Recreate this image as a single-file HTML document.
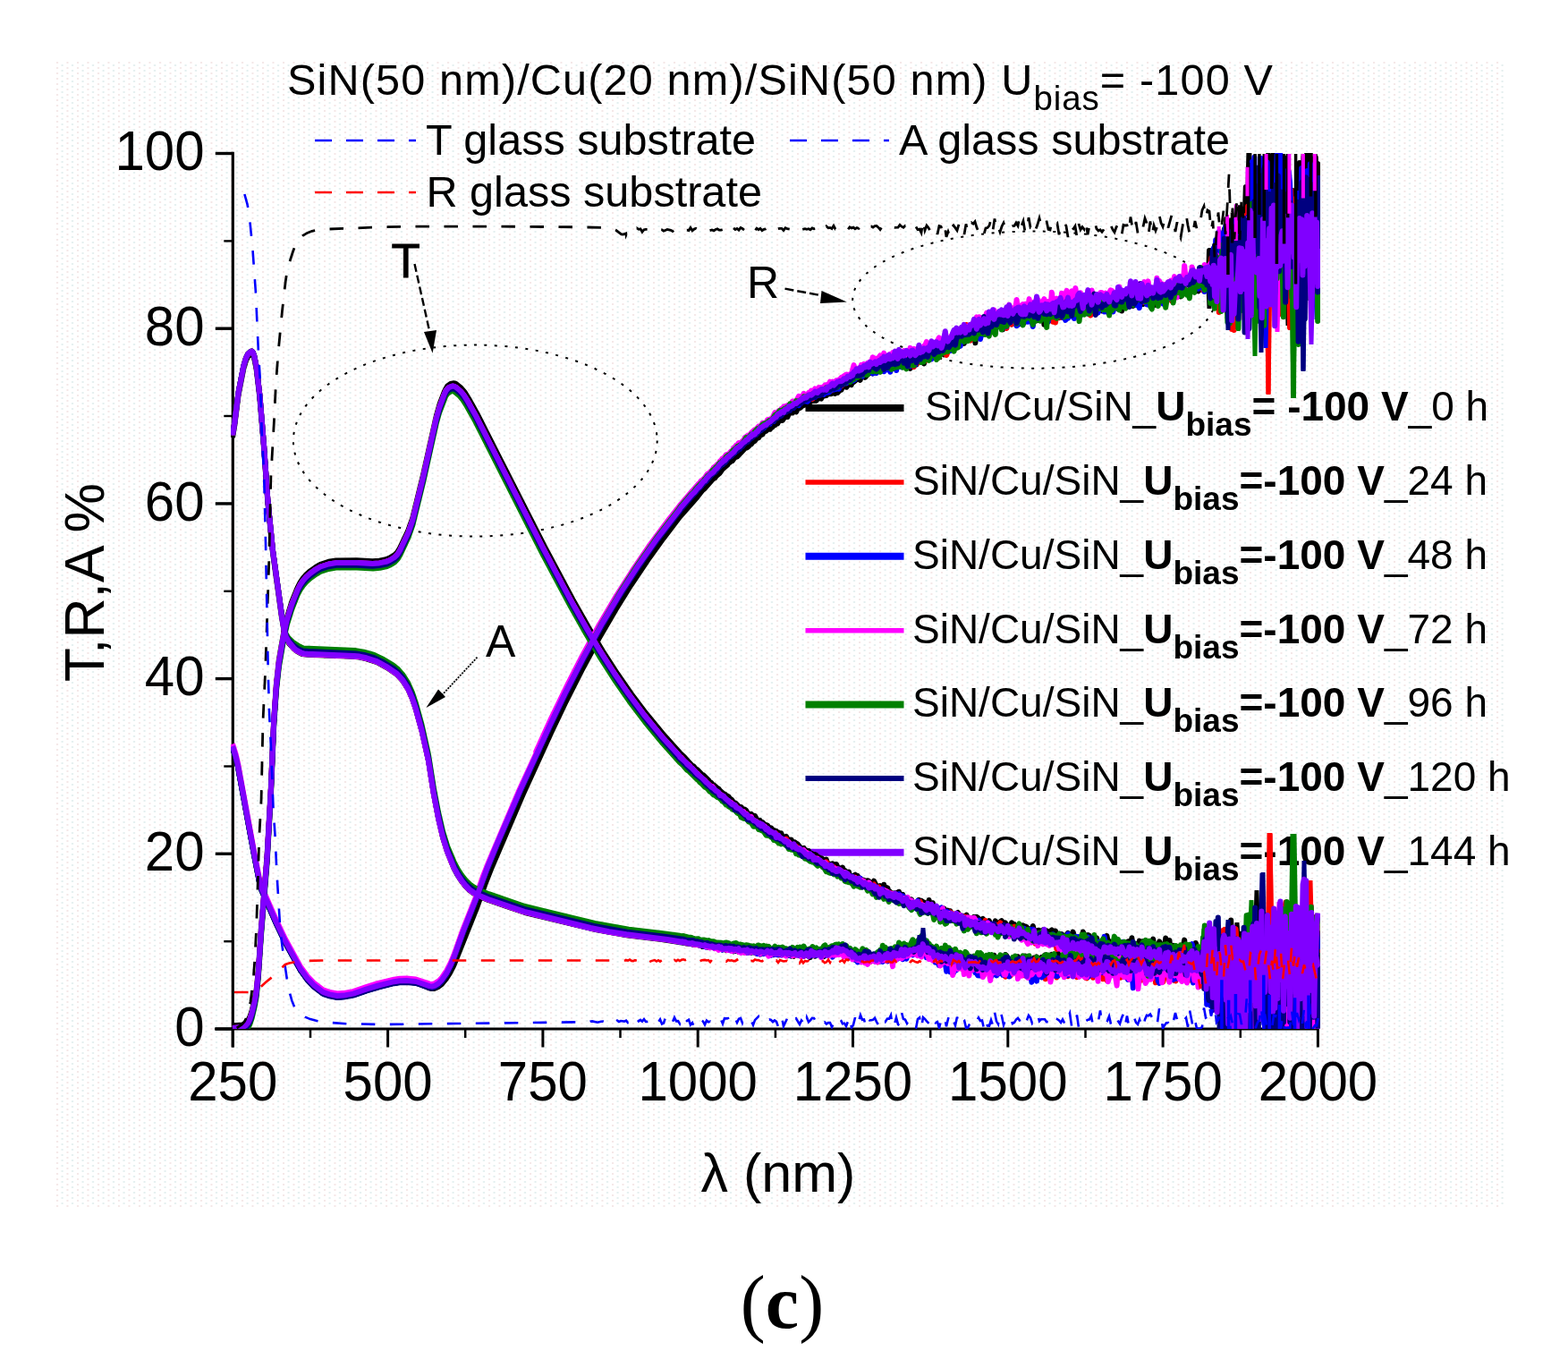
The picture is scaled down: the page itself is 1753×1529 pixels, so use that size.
<!DOCTYPE html>
<html><head><meta charset="utf-8"><title>SiN/Cu/SiN spectra</title><style>html,body{margin:0;padding:0;background:#fff;overflow:hidden;}svg{display:block;}</style></head>
<body>
<svg width="1753" height="1529" viewBox="0 0 1753 1529" font-family="'Liberation Sans', Arial, sans-serif" fill="#000">
<defs><pattern id="tex" x="62" y="69" width="11.5" height="6" patternUnits="userSpaceOnUse"><rect x="1" y="0" width="2" height="2" fill="#f4e7e7"/><rect x="6.5" y="3" width="2" height="2" fill="#e3eeee"/></pattern><clipPath id="plotclip"><rect x="258" y="171" width="1218" height="979"/></clipPath></defs>
<rect x="62" y="69" width="1622" height="1280" fill="url(#tex)"/>
<line x1="260.3" y1="169.8" x2="260.3" y2="1170.5" stroke="#000" stroke-width="3.2"/>
<line x1="240" y1="1150.0" x2="1474.4" y2="1150.0" stroke="#000" stroke-width="3"/>
<line x1="260.3" y1="1150.0" x2="260.3" y2="1170.5" stroke="#000" stroke-width="3"/>
<line x1="347.0" y1="1150.0" x2="347.0" y2="1160.0" stroke="#000" stroke-width="2.5"/>
<line x1="433.6" y1="1150.0" x2="433.6" y2="1170.5" stroke="#000" stroke-width="3"/>
<line x1="520.2" y1="1150.0" x2="520.2" y2="1160.0" stroke="#000" stroke-width="2.5"/>
<line x1="606.9" y1="1150.0" x2="606.9" y2="1170.5" stroke="#000" stroke-width="3"/>
<line x1="693.5" y1="1150.0" x2="693.5" y2="1160.0" stroke="#000" stroke-width="2.5"/>
<line x1="780.2" y1="1150.0" x2="780.2" y2="1170.5" stroke="#000" stroke-width="3"/>
<line x1="866.9" y1="1150.0" x2="866.9" y2="1160.0" stroke="#000" stroke-width="2.5"/>
<line x1="953.5" y1="1150.0" x2="953.5" y2="1170.5" stroke="#000" stroke-width="3"/>
<line x1="1040.2" y1="1150.0" x2="1040.2" y2="1160.0" stroke="#000" stroke-width="2.5"/>
<line x1="1126.8" y1="1150.0" x2="1126.8" y2="1170.5" stroke="#000" stroke-width="3"/>
<line x1="1213.5" y1="1150.0" x2="1213.5" y2="1160.0" stroke="#000" stroke-width="2.5"/>
<line x1="1300.1" y1="1150.0" x2="1300.1" y2="1170.5" stroke="#000" stroke-width="3"/>
<line x1="1386.8" y1="1150.0" x2="1386.8" y2="1160.0" stroke="#000" stroke-width="2.5"/>
<line x1="1473.4" y1="1150.0" x2="1473.4" y2="1170.5" stroke="#000" stroke-width="3"/>
<line x1="240.8" y1="1150.0" x2="260.3" y2="1150.0" stroke="#000" stroke-width="3.4"/>
<line x1="250.3" y1="1052.2" x2="260.3" y2="1052.2" stroke="#000" stroke-width="2.4"/>
<line x1="240.8" y1="954.3" x2="260.3" y2="954.3" stroke="#000" stroke-width="3.4"/>
<line x1="250.3" y1="856.5" x2="260.3" y2="856.5" stroke="#000" stroke-width="2.4"/>
<line x1="240.8" y1="758.6" x2="260.3" y2="758.6" stroke="#000" stroke-width="3.4"/>
<line x1="250.3" y1="660.8" x2="260.3" y2="660.8" stroke="#000" stroke-width="2.4"/>
<line x1="240.8" y1="562.9" x2="260.3" y2="562.9" stroke="#000" stroke-width="3.4"/>
<line x1="250.3" y1="465.0" x2="260.3" y2="465.0" stroke="#000" stroke-width="2.4"/>
<line x1="240.8" y1="367.2" x2="260.3" y2="367.2" stroke="#000" stroke-width="3.4"/>
<line x1="250.3" y1="269.4" x2="260.3" y2="269.4" stroke="#000" stroke-width="2.4"/>
<line x1="240.8" y1="171.5" x2="260.3" y2="171.5" stroke="#000" stroke-width="3.4"/>
<text transform="translate(260.3,1229.5) scale(1,1.055)" font-size="60" text-anchor="middle">250</text>
<text transform="translate(433.6,1229.5) scale(1,1.055)" font-size="60" text-anchor="middle">500</text>
<text transform="translate(606.9,1229.5) scale(1,1.055)" font-size="60" text-anchor="middle">750</text>
<text transform="translate(780.2,1229.5) scale(1,1.055)" font-size="60" text-anchor="middle">1000</text>
<text transform="translate(953.5,1229.5) scale(1,1.055)" font-size="60" text-anchor="middle">1250</text>
<text transform="translate(1126.8,1229.5) scale(1,1.055)" font-size="60" text-anchor="middle">1500</text>
<text transform="translate(1300.1,1229.5) scale(1,1.055)" font-size="60" text-anchor="middle">1750</text>
<text transform="translate(1473.4,1229.5) scale(1,1.055)" font-size="60" text-anchor="middle">2000</text>
<text transform="translate(228.5,1168.7) scale(1,1.05)" font-size="60" text-anchor="end">0</text>
<text transform="translate(228.5,973.0) scale(1,1.05)" font-size="60" text-anchor="end">20</text>
<text transform="translate(228.5,777.3) scale(1,1.05)" font-size="60" text-anchor="end">40</text>
<text transform="translate(228.5,581.6) scale(1,1.05)" font-size="60" text-anchor="end">60</text>
<text transform="translate(228.5,385.9) scale(1,1.05)" font-size="60" text-anchor="end">80</text>
<text transform="translate(228.5,190.2) scale(1,1.05)" font-size="60" text-anchor="end">100</text>
<text x="870" y="1331.5" font-size="61" text-anchor="middle">λ (nm)</text>
<text transform="translate(116,651) rotate(-90)" font-size="62.5" text-anchor="middle">T,R,A %</text>
<text x="321" y="105.8" font-size="48.6" letter-spacing="1.15">SiN(50 nm)/Cu(20 nm)/SiN(50 nm) U<tspan font-size="38.5" dy="17.2" letter-spacing="0.9">bias</tspan><tspan dy="-17.2">= -100 V</tspan></text>
<line x1="352" y1="157" x2="465" y2="157" stroke="#0000ff" stroke-width="2.5" stroke-dasharray="19 16"/>
<text x="476" y="172.8" font-size="48.6">T glass substrate</text>
<line x1="883" y1="157" x2="994" y2="157" stroke="#0000ff" stroke-width="2.5" stroke-dasharray="19 16"/>
<text x="1005" y="172.8" font-size="48.6">A glass substrate</text>
<line x1="352" y1="215" x2="465" y2="215" stroke="#ff0000" stroke-width="2.5" stroke-dasharray="19 16"/>
<text x="476.5" y="231" font-size="48.6">R glass substrate</text>
<text x="874.5" y="1484" font-size="84" text-anchor="middle" font-family="'Liberation Serif', serif">(<tspan font-weight="bold">c</tspan>)</text>
<line x1="900.5" y1="456" x2="1010.5" y2="456" stroke="#000000" stroke-width="8"/>
<text x="1034" y="470" font-size="46">SiN/Cu/SiN_<tspan font-weight="bold">U</tspan><tspan font-weight="bold" font-size="37" dy="17">bias</tspan><tspan font-weight="bold" dy="-17">= -100 V</tspan>_0 h</text>
<line x1="900.5" y1="539" x2="1010.5" y2="539" stroke="#ff0000" stroke-width="5.5"/>
<text x="1020" y="553" font-size="46">SiN/Cu/SiN_<tspan font-weight="bold">U</tspan><tspan font-weight="bold" font-size="37" dy="17">bias</tspan><tspan font-weight="bold" dy="-17">=-100 V</tspan>_24 h</text>
<line x1="900.5" y1="621.7" x2="1010.5" y2="621.7" stroke="#0000ff" stroke-width="8"/>
<text x="1020" y="635.7" font-size="46">SiN/Cu/SiN_<tspan font-weight="bold">U</tspan><tspan font-weight="bold" font-size="37" dy="17">bias</tspan><tspan font-weight="bold" dy="-17">=-100 V</tspan>_48 h</text>
<line x1="900.5" y1="704.8" x2="1010.5" y2="704.8" stroke="#ff00ff" stroke-width="5.5"/>
<text x="1020" y="718.8" font-size="46">SiN/Cu/SiN_<tspan font-weight="bold">U</tspan><tspan font-weight="bold" font-size="37" dy="17">bias</tspan><tspan font-weight="bold" dy="-17">=-100 V</tspan>_72 h</text>
<line x1="900.5" y1="787.4" x2="1010.5" y2="787.4" stroke="#008000" stroke-width="8"/>
<text x="1020" y="801.4" font-size="46">SiN/Cu/SiN_<tspan font-weight="bold">U</tspan><tspan font-weight="bold" font-size="37" dy="17">bias</tspan><tspan font-weight="bold" dy="-17">=-100 V</tspan>_96 h</text>
<line x1="900.5" y1="870" x2="1010.5" y2="870" stroke="#000080" stroke-width="5.8"/>
<text x="1020" y="884" font-size="46">SiN/Cu/SiN_<tspan font-weight="bold">U</tspan><tspan font-weight="bold" font-size="37" dy="17">bias</tspan><tspan font-weight="bold" dy="-17">=-100 V</tspan>_120 h</text>
<line x1="900.5" y1="952.7" x2="1010.5" y2="952.7" stroke="#8000ff" stroke-width="8"/>
<text x="1020" y="966.7" font-size="46">SiN/Cu/SiN_<tspan font-weight="bold">U</tspan><tspan font-weight="bold" font-size="37" dy="17">bias</tspan><tspan font-weight="bold" dy="-17">=-100 V</tspan>_144 h</text>
<ellipse cx="531.3" cy="492.6" rx="203.4" ry="107" fill="none" stroke="#000" stroke-width="2" stroke-dasharray="3 8.5"/>
<ellipse cx="1155.7" cy="335.1" rx="202.5" ry="76.6" fill="none" stroke="#000" stroke-width="2" stroke-dasharray="3 8.5"/>
<line x1="463.5" y1="295" x2="481" y2="374" stroke="#000" stroke-width="2.4" stroke-dasharray="9 4"/>
<polygon points="483.6,394.7 474,371 488,369" fill="#000"/>
<text x="437.5" y="309.6" font-size="53" stroke="#000" stroke-width="0.8">T</text>
<line x1="877.5" y1="322.6" x2="922" y2="331" stroke="#000" stroke-width="2.4" stroke-dasharray="10 4"/>
<polygon points="946.8,337.5 918.5,325 917,339" fill="#000"/>
<text x="835" y="332.7" font-size="50">R</text>
<line x1="533.5" y1="734.7" x2="494" y2="777" stroke="#000" stroke-width="1.8" stroke-dasharray="2 1.3"/>
<polygon points="476.4,791 490,770.5 498,779" fill="#000"/>
<text x="543" y="733.5" font-size="50">A</text>
<g clip-path="url(#plotclip)"><path d="M1453.5 300L1454.5 415L1459.5 415L1460.5 300Z" fill="#000080"/>
<path d="M1442.0 300L1443.0 445L1449.0 445L1450.0 300Z" fill="#008000"/>
<path d="M1414.5 300L1415.5 441L1420.5 441L1421.5 300Z" fill="#ff0000"/>
<path d="M1408.0 1060L1409.5 975L1414.5 975L1416.0 1060Z" fill="#000080"/>
<path d="M1440.5 1060L1442.5 932L1449.5 932L1451.5 1060Z" fill="#008000"/>
<path d="M1415.0 1060L1416.5 931L1422.5 931L1424.0 1060Z" fill="#ff0000"/>
<path d="M260.0 1146.3L271.1 1145.6 274.9 1143.4 277.1 1140.9 279.4 1136.4 281.6 1129.8 284.7 1116.8 286.7 1105.8 288.8 1084.9 291.8 1039.5 298.5 957.2 302.9 879.6 306.2 803.4 309.0 763.6 311.9 737.2 317.7 704.1 320.9 689.8 326.3 672.4 332.6 656.8 335.5 651.1 338.6 646.5 342.3 642.3 347.0 638.1 353.3 633.6 358.2 630.8 367.4 627.8 375.8 626.4 398.9 626.3 416.4 627.3 424.1 626.7 431.6 625.2 435.6 623.6 440.6 620.6 444.3 617.1 447.2 612.3 456.3 593.0 461.2 579.2 473.2 530.2 487.7 465.3 491.5 451.8 497.1 437.1 500.2 431.4 503.7 429.0 506.7 428.3 508.6 428.5 510.5 429.5 515.5 433.6 519.4 438.2 524.0 445.5 533.3 462.2 608.7 610.7 640.3 670.0 657.6 700.5 673.8 727.5 690.4 753.3 706.0 775.7 722.4 797.5 740.7 819.7 760.0 841.3 765.6 846.7 774.0 855.9 775.4 856.4 778.2 859.9 779.6 860.2 785.2 866.1 786.6 866.5 792.2 872.1 793.6 874.3 795.0 874.6 796.4 876.9 797.8 877.1 802.0 881.0 803.4 881.6 804.8 883.5 809.0 887.2 810.4 887.6 811.8 889.0 814.6 890.4 816.0 892.8 817.4 893.3 818.8 894.8 820.2 897.4 821.6 897.2 823.0 898.2 827.2 902.6 828.6 902.0 830.0 904.7 831.4 904.4 832.8 904.7 834.2 905.9 835.6 908.4 838.4 910.6 839.8 909.9 841.2 911.4 844.0 912.0 846.8 916.9 848.2 917.5 849.6 916.9 851.0 919.5 852.4 919.0 855.2 922.1 856.6 922.0 858.0 922.5 859.4 924.8 862.2 925.5 863.6 927.6 865.0 927.7 866.4 929.2 867.8 928.8 869.2 931.4 870.6 930.6 872.0 932.0 873.4 931.4 874.8 935.4 876.2 935.2 877.6 936.5 879.0 935.0 880.4 937.9 881.8 938.2 883.2 940.8 884.6 938.6 886.0 941.6 887.4 943.2 888.8 941.5 890.2 943.9 891.6 943.3 895.8 948.7 898.6 947.9 900.0 950.2 901.4 950.3 902.8 952.5 904.2 951.2 905.6 954.4 907.0 953.7 908.4 954.6 909.8 956.3 911.2 955.1 912.6 955.9 914.0 958.0 915.4 958.0 916.8 958.9 918.2 959.1 919.6 960.0 922.4 964.7 923.8 960.7 925.2 965.6 926.6 965.2 928.0 966.6 930.8 965.3 932.2 966.8 935.0 966.0 936.4 969.1 937.8 970.3 939.2 970.2 940.6 971.6 942.0 969.6 943.4 974.4 944.8 973.2 947.6 975.9 949.0 974.6 950.4 980.3 951.8 978.9 953.2 979.5 956.0 977.7 957.4 980.4 958.8 979.0 960.2 981.2 961.6 981.9 963.0 984.2 964.4 983.5 965.8 983.7 967.2 986.5 968.6 984.4 970.0 984.3 971.4 985.0 972.8 989.2 974.2 987.2 975.6 986.7 977.0 984.7 979.8 990.2 981.2 991.3 982.6 994.0 984.0 990.0 986.8 995.1 988.2 988.7 989.6 998.3 991.0 992.0 992.4 992.6 993.8 997.3 995.2 996.8 996.6 999.0 999.4 998.3 1000.8 998.8 1002.2 998.0 1003.6 1001.4 1005.0 996.7 1006.4 1000.9 1007.8 1003.5 1009.2 999.9 1010.6 1004.7 1012.0 1005.6 1013.4 1004.1 1014.8 1004.1 1016.2 1006.2 1017.6 1007.0 1019.0 1005.5 1020.4 1011.2 1023.2 1009.9 1024.6 1011.3 1026.0 1011.6 1027.4 1005.9 1028.8 1015.5 1030.2 1006.7 1031.6 1011.1 1033.0 1008.4 1034.4 1013.0 1037.2 1013.1 1038.6 1006.0 1040.0 1015.4 1041.4 1014.5 1042.8 1009.2 1044.2 1018.5 1045.6 1014.9 1047.0 1013.8 1048.4 1017.2 1049.8 1015.3 1051.2 1018.1 1054.0 1015.7 1055.4 1015.5 1056.8 1021.0 1059.6 1017.7 1061.0 1018.6 1062.4 1018.2 1063.8 1026.7 1065.2 1022.4 1066.6 1022.3 1068.0 1026.3 1069.4 1020.9 1070.8 1020.0 1073.6 1024.3 1075.0 1023.7 1076.4 1023.7 1077.8 1025.5 1080.6 1022.7 1082.0 1028.4 1083.4 1025.9 1084.8 1026.2 1086.2 1028.9 1087.6 1029.0 1089.0 1024.9 1090.4 1026.4 1091.8 1024.8 1093.2 1025.7 1094.6 1030.5 1096.0 1028.5 1098.8 1026.8 1100.2 1034.9 1101.6 1030.1 1103.0 1032.3 1104.4 1031.6 1105.8 1029.2 1107.2 1033.7 1108.6 1033.0 1110.0 1036.8 1111.4 1034.9 1112.8 1029.4 1114.2 1033.1 1117.0 1033.7 1118.4 1030.3 1119.8 1029.1 1121.2 1034.2 1122.6 1036.0 1124.0 1031.3 1125.4 1041.3 1128.2 1034.3 1129.6 1042.6 1131.0 1031.3 1132.4 1033.2 1133.8 1033.1 1135.2 1040.6 1136.6 1034.6 1138.0 1039.6 1139.4 1038.3 1140.8 1035.7 1142.2 1038.4 1143.6 1034.3 1145.0 1041.3 1146.4 1035.5 1147.8 1036.2 1149.2 1041.7 1150.6 1038.1 1152.0 1046.3 1153.4 1045.0 1154.8 1035.0 1156.2 1041.4 1157.6 1040.6 1159.0 1048.7 1160.4 1039.8 1161.8 1039.8 1163.2 1041.5 1164.6 1041.7 1166.0 1039.5 1167.4 1043.8 1168.8 1041.3 1170.2 1040.5 1171.6 1049.0 1174.4 1040.4 1175.8 1039.5 1177.2 1043.4 1178.6 1040.4 1180.0 1040.5 1181.4 1049.2 1182.8 1044.9 1184.2 1043.7 1185.6 1046.6 1187.0 1044.1 1188.4 1046.5 1189.8 1053.0 1191.2 1046.5 1194.0 1042.8 1195.4 1049.4 1196.8 1046.7 1198.2 1048.9 1199.6 1041.6 1201.0 1046.4 1203.8 1050.2 1205.2 1049.4 1206.6 1047.7 1208.0 1053.6 1209.4 1049.0 1210.8 1041.5 1213.6 1049.5 1215.0 1050.8 1216.4 1045.1 1217.8 1045.7 1219.2 1051.9 1220.6 1051.7 1222.0 1052.3 1223.4 1053.8 1226.2 1048.4 1227.6 1056.5 1229.0 1055.8 1230.4 1058.7 1231.8 1054.0 1233.2 1053.0 1236.0 1054.2 1237.4 1045.9 1238.8 1052.7 1240.2 1052.1 1241.6 1055.2 1243.0 1055.1 1244.4 1052.8 1245.8 1052.5 1247.2 1049.1 1248.6 1055.7 1250.0 1052.8 1251.4 1053.5 1252.8 1059.4 1254.2 1059.4 1255.6 1054.1 1257.0 1062.3 1261.2 1052.2 1262.6 1052.4 1264.0 1059.9 1265.4 1048.2 1266.8 1063.3 1269.6 1055.1 1271.0 1063.3 1273.8 1051.6 1275.2 1054.1 1276.6 1052.5 1278.0 1052.1 1279.4 1065.3 1280.8 1057.7 1282.2 1056.6 1283.6 1060.8 1285.0 1060.0 1286.4 1054.7 1287.8 1053.5 1289.2 1049.5 1290.6 1061.8 1292.0 1056.9 1293.4 1061.9 1294.8 1058.2 1296.2 1052.4 1297.6 1055.7 1299.0 1064.8 1300.4 1055.9 1301.8 1060.8 1303.2 1048.5 1306.0 1063.1 1307.4 1050.9 1308.8 1063.8 1310.2 1057.2 1311.6 1056.8 1313.0 1065.9 1314.4 1057.5 1315.8 1064.7 1317.2 1058.3 1320.0 1064.9 1321.4 1065.2 1324.2 1050.6 1325.6 1068.5 1327.0 1058.4 1328.4 1066.7 1329.8 1057.6 1332.6 1061.8 1334.0 1061.3 1335.4 1070.4 1336.8 1053.9 1339.6 1063.1 1341.0 1064.0 1342.4 1062.2 1345.0 1063.6 1346.2 1075.2 1348.6 1077.8 1349.8 1069.0 1351.0 1084.4 1352.2 1065.4 1353.4 1076.1 1354.6 1075.5 1355.8 1072.7 1357.0 1079.6 1358.2 1093.9 1359.4 1089.0 1360.6 1096.3 1361.8 1094.7 1363.0 1110.6 1364.2 1089.1 1365.4 1119.0 1366.6 1093.6 1367.8 1094.8 1369.0 1072.7 1370.2 1076.4 1371.4 1058.3 1372.6 1052.4 1373.8 1041.4 1375.0 1090.0 1376.2 1028.4 1377.4 1061.9 1378.6 1053.4 1379.8 1061.1 1381.0 1061.2 1382.2 1044.9 1383.4 1050.7 1384.6 1074.3 1387.0 1043.8 1388.2 1067.0 1389.4 1080.9 1390.6 1049.1 1393.0 1067.3 1394.2 1062.0 1395.4 1063.4 1396.6 1022.8 1397.8 1024.5 1399.0 1054.8 1400.2 1043.5 1401.4 1069.4 1402.6 1050.5 1403.8 1084.7 1405.0 1052.0 1406.2 1074.6 1407.4 1055.8 1408.6 1089.9 1411.0 1022.1 1412.2 1054.6 1413.4 1041.4 1414.6 1057.0 1415.8 1036.0 1417.0 1059.4 1418.2 1064.1 1419.4 1048.1 1420.6 1092.3 1421.8 1058.9 1423.0 1075.4 1424.2 1055.0 1426.6 1067.2 1427.8 1093.8 1429.0 1048.5 1430.2 1049.8 1431.4 1064.3 1432.6 1064.5 1433.8 1038.2 1435.0 1059.8 1436.2 1062.2 1437.4 1066.8 1438.6 1045.4 1439.8 1085.7 1441.0 1056.8 1442.2 1070.1 1443.4 1050.1 1444.6 1066.5 1445.8 1040.5 1447.0 1089.1 1448.2 1064.8 1449.4 1069.0 1450.6 1059.8 1451.8 1093.9 1453.0 1068.8 1454.2 1098.7 1455.4 1081.7 1456.6 1101.5 1459.0 1053.3 1460.2 1044.9 1461.4 1080.5 1462.6 1045.5 1463.8 1076.9 1465.0 1057.4 1466.2 1071.8 1467.4 1059.0 1468.6 1074.7 1469.8 1041.0 1471.0 1054.0 1472.2 1044.7 1473.4 1049.3" fill="none" stroke="#000000" stroke-width="6" stroke-linejoin="round"/>
<path d="M260.0 489.0L262.3 475.2 266.5 441.9 272.4 411.6 275.1 402.8 277.3 398.4 280.7 395.7 281.7 395.5 282.7 396.5 284.3 401.1 286.6 412.4 290.3 443.8 295.0 500.3 299.4 562.4 305.0 618.1 314.8 689.1 317.7 706.1 319.8 713.9 322.6 718.5 328.4 725.1 332.7 728.4 337.8 731.0 344.6 731.8 395.0 733.8 402.0 734.6 409.6 736.3 421.4 740.2 433.2 746.6 443.6 753.8 450.2 760.9 456.2 770.4 460.8 780.7 464.8 792.6 471.5 816.9 479.0 850.4 484.9 887.7 490.0 914.5 495.1 936.4 500.1 952.4 507.5 970.5 511.5 978.0 515.6 984.4 520.5 990.6 524.9 995.1 529.3 998.3 534.9 1001.4 545.8 1006.0 586.9 1020.0 667.2 1039.4 702.3 1045.6 739.9 1050.0 764.2 1053.8 765.6 1053.5 767.0 1054.4 772.6 1054.9 775.4 1056.0 776.8 1055.4 783.8 1057.1 785.2 1058.0 786.6 1057.2 788.0 1058.1 789.4 1057.9 790.8 1058.4 796.4 1059.1 799.2 1059.4 800.6 1058.7 802.0 1059.9 806.2 1060.2 807.6 1061.4 809.0 1060.9 810.4 1061.1 811.8 1062.1 813.2 1060.9 814.6 1061.8 816.0 1061.0 818.8 1061.6 820.2 1063.4 821.6 1061.9 823.0 1063.0 824.4 1063.0 825.8 1063.8 828.6 1062.2 830.0 1062.4 831.4 1064.4 832.8 1064.0 835.6 1065.0 837.0 1064.3 838.4 1064.1 839.8 1064.8 841.2 1063.4 845.4 1065.5 846.8 1063.5 848.2 1063.5 849.6 1066.1 852.4 1064.9 855.2 1065.4 856.6 1064.1 858.0 1064.8 859.4 1066.6 862.2 1067.3 863.6 1066.3 865.0 1067.1 866.4 1064.6 867.8 1064.7 869.2 1063.2 870.6 1064.7 872.0 1064.3 873.4 1067.0 874.8 1067.2 876.2 1065.0 877.6 1064.8 879.0 1067.7 880.4 1068.1 881.8 1065.4 884.6 1068.5 886.0 1067.3 887.4 1068.8 888.8 1067.2 890.2 1067.4 891.6 1066.7 893.0 1064.7 894.4 1066.6 895.8 1066.1 897.2 1068.6 898.6 1065.6 900.0 1067.2 902.8 1068.2 904.2 1067.6 905.6 1070.2 907.0 1068.2 908.4 1067.8 909.8 1067.7 911.2 1068.7 912.6 1065.3 915.4 1067.2 916.8 1065.9 918.2 1067.0 919.6 1064.2 921.0 1069.2 922.4 1066.8 923.8 1066.4 925.2 1064.7 926.6 1067.1 928.0 1067.1 929.4 1064.7 930.8 1065.0 932.2 1062.7 933.6 1064.8 935.0 1064.2 936.4 1065.3 937.8 1064.2 939.2 1065.1 940.6 1062.9 942.0 1063.3 943.4 1062.9 944.8 1063.8 946.2 1063.6 947.6 1065.5 949.0 1065.9 950.4 1069.7 953.2 1070.2 954.6 1069.8 956.0 1072.5 957.4 1071.0 958.8 1071.8 960.2 1070.1 961.6 1071.5 963.0 1069.8 964.4 1069.9 965.8 1070.1 967.2 1073.9 968.6 1071.2 970.0 1073.6 971.4 1069.3 972.8 1071.5 974.2 1069.9 977.0 1073.7 978.4 1073.3 979.8 1068.8 981.2 1071.5 982.6 1071.4 984.0 1069.2 986.8 1067.2 988.2 1068.9 989.6 1065.5 991.0 1067.3 992.4 1067.7 995.2 1064.5 996.6 1068.0 999.4 1062.7 1000.8 1065.0 1002.2 1065.8 1003.6 1063.5 1005.0 1065.3 1006.4 1064.4 1007.8 1064.4 1009.2 1062.5 1010.6 1061.8 1012.0 1064.7 1013.4 1062.7 1016.2 1062.6 1017.6 1061.7 1020.4 1060.7 1023.2 1057.7 1024.6 1060.4 1027.4 1056.9 1030.2 1061.0 1031.6 1054.2 1034.4 1059.4 1035.8 1053.8 1037.2 1058.1 1038.6 1059.1 1040.0 1059.1 1041.4 1065.3 1044.2 1062.6 1045.6 1060.0 1047.0 1064.3 1048.4 1062.4 1049.8 1066.2 1051.2 1064.7 1052.6 1066.7 1054.0 1070.1 1056.8 1066.6 1058.2 1067.3 1059.6 1065.7 1061.0 1070.1 1062.4 1066.2 1063.8 1067.3 1065.2 1065.3 1068.0 1074.6 1069.4 1068.7 1072.2 1069.0 1073.6 1070.9 1075.0 1071.9 1076.4 1077.7 1080.6 1069.0 1082.0 1075.6 1084.8 1070.3 1086.2 1073.3 1087.6 1072.8 1089.0 1076.0 1090.4 1074.2 1091.8 1070.8 1094.6 1077.7 1097.4 1072.1 1098.8 1071.7 1100.2 1080.2 1101.6 1077.0 1103.0 1070.7 1104.4 1075.1 1105.8 1077.3 1107.2 1076.0 1108.6 1072.1 1110.0 1073.2 1111.4 1067.7 1112.8 1072.8 1114.2 1073.1 1115.6 1076.1 1117.0 1072.8 1118.4 1071.9 1119.8 1078.5 1121.2 1076.7 1124.0 1067.0 1125.4 1068.2 1126.8 1073.2 1128.2 1073.6 1129.6 1073.3 1132.4 1079.5 1133.8 1076.3 1135.2 1074.7 1136.6 1074.6 1138.0 1069.2 1139.4 1077.0 1140.8 1073.2 1142.2 1077.1 1143.6 1070.1 1145.0 1073.0 1146.4 1068.6 1149.2 1079.7 1150.6 1071.5 1152.0 1072.5 1153.4 1072.4 1154.8 1075.1 1156.2 1070.6 1157.6 1072.3 1159.0 1069.4 1160.4 1083.3 1161.8 1071.9 1163.2 1073.3 1164.6 1069.9 1166.0 1074.2 1167.4 1073.1 1168.8 1067.3 1170.2 1084.1 1171.6 1072.6 1173.0 1072.7 1174.4 1076.8 1175.8 1066.8 1177.2 1073.5 1178.6 1069.6 1180.0 1071.6 1181.4 1072.5 1182.8 1065.4 1184.2 1072.2 1185.6 1075.1 1187.0 1070.6 1188.4 1074.8 1189.8 1073.2 1191.2 1079.1 1192.6 1073.7 1194.0 1075.4 1196.8 1073.4 1198.2 1080.4 1199.6 1076.0 1201.0 1075.7 1202.4 1077.2 1203.8 1082.3 1205.2 1071.4 1206.6 1079.7 1208.0 1070.8 1210.8 1077.3 1212.2 1079.2 1213.6 1071.6 1215.0 1079.2 1216.4 1077.2 1217.8 1083.5 1219.2 1069.9 1220.6 1076.8 1222.0 1073.1 1223.4 1073.4 1224.8 1074.8 1226.2 1072.8 1227.6 1076.7 1229.0 1075.3 1230.4 1071.0 1231.8 1083.8 1234.6 1067.9 1236.0 1073.9 1237.4 1075.1 1238.8 1073.8 1240.2 1073.8 1241.6 1079.9 1243.0 1072.7 1244.4 1073.2 1245.8 1072.9 1247.2 1073.5 1248.6 1072.3 1251.4 1079.5 1252.8 1075.6 1254.2 1075.7 1255.6 1073.2 1257.0 1073.1 1258.4 1069.3 1259.8 1082.8 1261.2 1074.2 1262.6 1071.4 1264.0 1075.5 1265.4 1074.5 1266.8 1080.1 1268.2 1077.0 1269.6 1071.0 1271.0 1073.3 1272.4 1071.8 1273.8 1074.8 1275.2 1069.2 1276.6 1082.6 1278.0 1077.2 1279.4 1076.5 1280.8 1076.9 1282.2 1078.3 1283.6 1072.3 1286.4 1082.7 1287.8 1081.9 1289.2 1071.3 1290.6 1074.0 1292.0 1074.7 1293.4 1068.2 1294.8 1073.4 1297.6 1078.2 1299.0 1075.3 1300.4 1069.9 1301.8 1075.0 1303.2 1072.7 1304.6 1080.1 1306.0 1079.8 1307.4 1073.9 1308.8 1081.6 1310.2 1074.7 1311.6 1077.4 1313.0 1082.3 1315.8 1075.2 1317.2 1076.9 1318.6 1087.8 1320.0 1075.3 1321.4 1078.0 1322.8 1071.7 1324.2 1078.7 1325.6 1074.3 1327.0 1080.1 1328.4 1072.6 1329.8 1079.2 1331.2 1076.6 1335.4 1079.8 1336.8 1072.5 1338.2 1068.0 1339.6 1075.8 1341.0 1079.5 1342.4 1071.3 1343.8 1081.1 1345.6 1055.6 1346.8 1062.7 1348.0 1062.6 1349.2 1059.4 1350.4 1066.8 1351.6 1082.2 1352.8 1059.6 1354.0 1069.6 1355.2 1069.1 1356.4 1074.7 1357.6 1070.3 1358.8 1080.2 1360.0 1076.8 1361.2 1106.5 1362.4 1061.3 1363.6 1085.4 1364.8 1090.6 1366.0 1112.9 1367.2 1078.1 1368.4 1082.6 1369.6 1072.5 1370.8 1095.5 1372.0 1051.8 1373.2 1075.5 1374.4 1046.5 1376.8 1037.6 1378.0 1091.5 1381.6 1047.2 1382.8 1065.9 1384.0 1076.4 1385.2 1053.0 1386.4 1057.8 1387.6 1068.9 1388.8 1048.7 1390.0 1083.6 1391.2 1045.8 1392.4 1059.9 1393.6 1047.0 1394.8 1068.4 1396.0 1048.8 1397.2 1092.8 1398.4 1058.9 1399.6 1091.1 1400.8 1045.2 1402.0 1098.8 1403.2 1073.1 1404.4 1070.0 1405.6 1058.8 1406.8 1099.7 1408.0 1020.7 1409.2 1063.0 1410.4 1030.3 1411.6 1042.8 1412.8 1031.7 1414.0 1102.1 1415.2 1064.7 1416.4 1074.1 1417.6 1062.6 1418.8 1032.1 1420.0 1064.7 1421.2 1041.4 1422.4 1065.0 1423.6 1059.5 1424.8 1028.6 1426.0 1098.3 1427.2 1029.9 1428.4 1071.6 1429.6 1065.6 1430.8 1081.8 1432.0 1056.3 1433.2 1076.5 1434.4 1014.0 1435.6 1082.0 1436.8 1035.0 1438.0 1062.4 1439.2 1056.1 1440.4 1093.6 1441.6 1072.2 1442.8 1081.1 1444.0 1077.3 1445.2 1049.3 1446.4 1045.4 1447.6 1090.1 1448.8 1072.0 1450.0 1078.6 1451.2 1056.7 1452.4 1059.1 1453.6 1058.8 1454.8 1109.6 1456.0 1031.6 1457.2 1067.8 1458.4 1057.4 1459.6 1097.5 1460.8 1005.5 1462.0 1103.8 1463.2 1049.9 1464.4 1108.3 1465.6 1012.5 1466.8 1063.4 1468.0 1025.0 1469.2 1087.8 1470.4 1067.0 1471.6 1087.6 1472.8 1041.9 1474.0 1091.7" fill="none" stroke="#000000" stroke-width="6" stroke-linejoin="round"/>
<path d="M260.0 835.5L263.6 846.9 266.0 857.1 283.8 954.1 289.7 984.4 292.3 994.5 309.2 1033.0 319.1 1053.8 336.1 1084.5 343.9 1095.2 350.7 1102.3 360.2 1109.7 363.3 1111.2 368.5 1112.9 376.9 1114.5 383.9 1114.1 394.9 1112.1 410.1 1106.8 422.9 1103.0 440.6 1098.7 446.8 1097.7 455.2 1097.6 465.7 1098.6 469.6 1099.9 479.0 1104.1 482.5 1105.1 485.4 1105.0 489.4 1103.3 493.8 1100.0 498.7 1094.1 502.8 1087.8 507.2 1079.3 533.4 1013.8 542.2 988.7 548.6 972.4 584.3 888.7 616.0 819.3 631.6 786.5 650.2 749.6 669.8 713.3 688.5 681.2 705.1 654.5 724.2 626.0 741.8 601.6 760.0 577.8 779.6 555.4 785.2 548.2 788.0 545.9 797.8 534.5 799.2 534.5 800.6 532.2 804.8 528.6 807.6 524.5 813.2 519.8 814.6 517.4 816.0 516.8 817.4 515.1 818.8 515.2 821.6 510.8 823.0 510.9 824.4 510.2 832.8 501.1 835.6 500.1 837.0 498.8 838.4 496.0 839.8 496.5 841.2 494.4 844.0 492.7 845.4 490.3 848.2 489.2 849.6 486.8 852.4 485.6 853.8 482.7 856.6 481.6 858.0 479.8 859.4 479.3 860.8 479.8 862.2 478.0 863.6 477.4 865.0 474.7 866.4 475.2 867.8 473.4 869.2 473.5 870.6 470.9 873.4 469.8 874.8 470.0 877.6 465.6 880.4 466.1 881.8 462.7 883.2 461.0 886.0 461.5 887.4 458.2 888.8 457.9 890.2 460.3 891.6 457.0 894.4 455.9 897.2 453.4 898.6 453.1 900.0 451.0 901.4 452.4 902.8 451.4 904.2 452.7 905.6 449.1 908.4 447.9 912.6 447.9 914.0 445.8 915.4 445.5 916.8 444.3 918.2 445.5 919.6 442.7 923.8 442.1 925.2 439.9 929.4 440.2 930.8 438.1 932.2 437.6 933.6 439.9 935.0 438.2 936.4 438.9 939.2 436.0 940.6 435.7 942.0 431.6 943.4 431.6 946.2 432.8 950.4 427.4 951.8 430.2 953.2 425.8 954.6 426.8 957.4 424.2 960.2 423.4 961.6 424.9 963.0 419.9 964.4 420.3 965.8 418.3 967.2 421.8 970.0 418.6 972.8 416.4 975.6 417.4 977.0 416.6 978.4 414.6 979.8 415.9 981.2 413.5 982.6 408.2 984.0 415.2 985.4 411.4 986.8 410.8 988.2 412.9 991.0 410.3 992.4 410.5 993.8 412.1 995.2 410.4 996.6 409.7 998.0 406.9 999.4 411.9 1000.8 406.3 1002.2 407.1 1003.6 409.7 1005.0 407.4 1006.4 409.1 1007.8 404.9 1010.6 409.3 1012.0 410.4 1013.4 406.2 1014.8 407.3 1016.2 407.6 1017.6 411.9 1019.0 403.3 1020.4 410.0 1021.8 402.9 1024.6 407.5 1026.0 400.5 1027.4 405.0 1028.8 398.3 1030.2 404.1 1031.6 402.2 1033.0 406.4 1034.4 401.5 1035.8 401.6 1037.2 398.8 1038.6 402.2 1040.0 396.6 1041.4 394.9 1044.2 398.2 1045.6 397.6 1048.4 393.5 1049.8 389.7 1051.2 389.3 1052.6 392.7 1055.4 396.4 1058.2 392.7 1061.0 384.8 1062.4 387.3 1063.8 385.2 1065.2 384.5 1066.6 387.2 1068.0 382.7 1069.4 382.0 1070.8 382.7 1072.2 382.4 1073.6 381.3 1075.0 383.6 1076.4 374.4 1077.8 383.9 1079.2 376.5 1080.6 373.7 1082.0 380.2 1083.4 368.8 1084.8 376.0 1086.2 367.5 1087.6 377.7 1089.0 371.3 1090.4 383.3 1091.8 368.3 1093.2 377.3 1094.6 370.4 1096.0 370.1 1097.4 367.8 1098.8 367.0 1100.2 367.5 1101.6 373.2 1103.0 370.3 1104.4 369.4 1105.8 362.9 1107.2 366.5 1108.6 368.0 1110.0 360.9 1111.4 367.3 1112.8 368.6 1114.2 364.6 1115.6 363.5 1117.0 364.6 1118.4 359.6 1119.8 365.7 1121.2 368.3 1122.6 360.6 1124.0 361.6 1125.4 358.7 1128.2 357.5 1129.6 356.0 1131.0 362.5 1132.4 357.2 1135.2 358.1 1136.6 353.7 1138.0 360.8 1139.4 360.0 1140.8 361.7 1142.2 350.9 1145.0 360.9 1146.4 349.4 1147.8 353.4 1149.2 350.8 1150.6 355.3 1152.0 356.3 1153.4 355.5 1154.8 352.9 1156.2 356.2 1157.6 350.6 1159.0 358.4 1160.4 353.7 1161.8 346.2 1163.2 352.9 1164.6 354.9 1166.0 343.2 1167.4 362.7 1168.8 350.3 1170.2 345.2 1171.6 356.7 1173.0 358.4 1177.2 350.9 1178.6 358.6 1180.0 354.1 1181.4 343.9 1182.8 355.1 1184.2 355.3 1185.6 343.2 1187.0 343.5 1188.4 355.0 1189.8 349.3 1191.2 346.9 1192.6 347.0 1194.0 353.3 1195.4 347.3 1196.8 343.7 1198.2 350.3 1199.6 347.0 1201.0 347.8 1202.4 347.6 1203.8 338.5 1205.2 346.5 1206.6 345.9 1208.0 347.1 1210.8 346.4 1212.2 345.3 1213.6 348.0 1215.0 344.9 1216.4 350.8 1217.8 342.1 1219.2 341.7 1220.6 350.7 1222.0 344.7 1223.4 342.6 1224.8 337.1 1226.2 344.5 1227.6 336.4 1229.0 339.5 1230.4 341.2 1231.8 347.4 1233.2 345.9 1234.6 343.0 1236.0 344.1 1237.4 340.7 1238.8 344.3 1240.2 340.8 1241.6 343.1 1243.0 342.8 1244.4 330.8 1245.8 332.5 1247.2 328.2 1248.6 328.7 1250.0 336.8 1251.4 337.7 1254.2 347.5 1255.6 335.6 1257.0 343.0 1258.4 343.3 1259.8 339.6 1261.2 328.4 1262.6 331.2 1264.0 331.5 1266.8 341.9 1268.2 330.2 1272.4 336.8 1273.8 331.3 1275.2 340.0 1276.6 336.5 1278.0 339.9 1279.4 329.8 1280.8 337.9 1282.2 328.7 1283.6 337.1 1285.0 335.9 1286.4 336.9 1287.8 336.9 1289.2 336.0 1290.6 330.9 1292.0 340.9 1293.4 324.5 1294.8 337.9 1296.2 332.4 1299.0 325.7 1300.4 327.9 1301.8 327.3 1303.2 318.1 1304.6 330.5 1306.0 320.6 1307.4 323.7 1308.8 319.6 1310.2 336.3 1311.6 326.3 1313.0 328.1 1314.4 325.8 1315.8 325.4 1317.2 323.8 1318.6 319.5 1320.0 331.4 1321.4 326.1 1322.8 317.0 1324.2 324.0 1325.6 318.4 1327.0 315.1 1328.4 313.5 1329.8 318.5 1331.2 312.8 1334.0 318.6 1335.4 312.3 1336.8 316.5 1338.2 313.7 1339.6 325.5 1341.0 316.5 1342.4 323.8 1345.2 320.6 1346.6 312.0 1348.0 313.3 1349.4 320.9 1350.8 319.1 1352.0 280.0 1353.2 304.0 1354.4 284.4 1355.6 279.5 1356.8 294.9 1358.0 286.8 1359.2 293.3 1360.4 315.1 1361.6 282.0 1362.8 293.8 1364.0 282.8 1365.2 300.9 1366.4 281.7 1367.6 307.5 1368.8 256.2 1370.0 306.1 1371.2 244.7 1372.4 283.8 1373.6 262.4 1374.8 292.0 1376.0 282.2 1377.2 249.3 1378.4 260.0 1379.6 258.2 1380.8 249.8 1382.0 278.9 1383.2 242.7 1384.4 261.6 1385.6 255.1 1386.8 297.7 1388.0 233.4 1389.2 309.3 1390.4 251.6 1391.6 249.7 1392.8 209.1 1394.0 244.8 1395.2 221.5 1396.4 171.5 1397.6 233.3 1398.8 239.8 1400.0 239.3 1401.2 249.9 1402.4 243.6 1403.6 187.7 1404.8 237.7 1406.0 243.7 1407.2 187.3 1408.4 267.2 1409.6 223.3 1410.8 233.9 1412.0 230.4 1413.2 266.4 1414.4 205.0 1415.6 206.6 1416.8 223.9 1418.0 172.9 1419.2 201.4 1420.4 256.0 1421.6 230.6 1422.8 250.3 1424.0 171.5 1425.2 281.2 1426.4 191.2 1428.8 175.7 1430.0 273.0 1431.2 234.6 1432.4 268.5 1433.6 231.5 1434.8 239.5 1437.2 176.8 1438.4 176.6 1439.6 269.5 1442.0 208.5 1443.2 245.1 1444.4 243.4 1445.6 213.1 1446.8 224.2 1448.0 222.0 1449.2 243.7 1450.4 209.0 1451.6 298.0 1452.8 182.0 1454.0 283.6 1455.2 236.2 1456.4 223.2 1457.6 175.1 1458.8 298.5 1460.0 211.5 1461.2 171.5 1462.4 174.7 1463.6 222.9 1464.8 171.9 1466.0 226.3 1468.4 209.2 1469.6 206.5 1470.8 175.9 1472.0 237.6 1473.2 182.9 1474.4 202.0" fill="none" stroke="#000000" stroke-width="6" stroke-linejoin="round"/>
<path d="M1401.5 1060L1403.5 996L1406.5 996L1408.5 1060Z" fill="#000000" stroke="#000000" stroke-width="2"/>
<path d="M1379.5 1060L1381.5 1032L1384.5 1032L1386.5 1060Z" fill="#000000" stroke="#000000" stroke-width="2"/>
<path d="M1348.5 300L1350.5 344L1353.5 344L1355.5 300Z" fill="#000000" stroke="#000000" stroke-width="2"/>
<path d="M1436.5 300L1438.5 363L1441.5 363L1443.5 300Z" fill="#000000" stroke="#000000" stroke-width="2"/>
<path d="M260.0 1149.5L271.1 1148.8 274.9 1146.6 277.1 1144.1 279.4 1139.6 281.6 1133.0 284.7 1120.0 286.7 1109.0 288.8 1088.1 291.8 1042.7 298.6 959.7 303.0 881.4 306.2 806.6 308.9 767.5 311.9 740.4 317.5 708.0 320.9 693.0 326.1 676.3 332.6 660.0 335.5 654.3 338.6 649.7 342.3 645.5 347.0 641.3 353.3 636.8 358.2 634.0 367.4 631.0 375.8 629.6 398.9 629.5 416.4 630.5 424.1 629.9 431.6 628.4 435.6 626.8 440.6 623.8 444.3 620.3 447.2 615.5 456.6 595.5 461.4 581.7 473.4 532.7 487.7 468.5 491.3 455.7 496.5 441.7 498.6 437.1 501.7 433.8 505.7 432.0 507.6 432.2 509.5 433.2 514.5 437.3 518.4 441.9 523.0 449.2 532.3 465.9 608.1 615.0 640.7 676.1 658.3 707.2 675.0 734.7 691.8 760.5 707.9 783.4 724.5 805.1 743.3 827.6 760.0 846.1 761.4 846.9 768.4 854.8 774.0 859.7 775.4 861.6 776.8 862.1 778.2 863.9 781.0 866.1 783.8 869.9 786.6 871.4 789.4 874.8 793.6 877.6 795.0 879.7 799.2 883.8 800.6 884.7 802.0 884.7 806.2 889.2 807.6 889.8 809.0 892.1 810.4 892.7 814.6 896.2 816.0 896.2 817.4 899.8 820.2 901.4 821.6 901.0 823.0 901.4 825.8 904.0 827.2 906.4 831.4 910.5 832.8 910.4 838.4 913.1 839.8 915.5 844.0 917.4 846.8 921.1 848.2 921.1 849.6 922.2 851.0 922.4 856.6 926.2 859.4 929.8 860.8 928.6 862.2 931.8 863.6 930.9 865.0 931.9 866.4 931.0 867.8 931.7 869.2 935.7 870.6 934.8 872.0 937.6 873.4 937.7 874.8 938.8 876.2 940.8 877.6 940.2 879.0 937.7 881.8 944.0 883.2 946.0 884.6 944.5 887.4 944.7 888.8 947.8 890.2 945.9 893.0 949.9 895.8 951.0 897.2 953.5 898.6 951.5 900.0 952.3 902.8 955.5 904.2 955.8 905.6 959.5 907.0 957.0 908.4 959.3 909.8 958.5 911.2 960.5 912.6 960.2 914.0 961.1 915.4 964.6 916.8 962.7 918.2 966.2 919.6 963.6 921.0 964.8 922.4 967.7 923.8 963.4 925.2 965.3 926.6 968.4 928.0 969.8 929.4 970.7 932.2 969.1 933.6 973.2 935.0 973.4 936.4 971.7 939.2 977.6 942.0 974.4 947.6 980.5 949.0 978.2 950.4 979.3 951.8 982.7 953.2 982.9 954.6 984.6 956.0 980.6 957.4 982.1 958.8 986.1 960.2 983.3 961.6 986.2 964.4 985.6 965.8 990.1 967.2 988.1 968.6 987.9 971.4 990.5 972.8 987.7 974.2 989.7 975.6 989.5 977.0 988.5 978.4 995.0 979.8 996.4 981.2 996.6 982.6 991.5 984.0 996.3 985.4 997.4 986.8 995.5 988.2 998.9 989.6 995.6 993.8 998.0 995.2 998.0 996.6 1002.6 998.0 999.0 999.4 1000.8 1000.8 1001.0 1002.2 1007.5 1003.6 1001.5 1006.4 1008.4 1007.8 1002.4 1010.6 1005.4 1012.0 1003.7 1013.4 1009.9 1014.8 1006.6 1016.2 1010.5 1019.0 1009.3 1020.4 1011.9 1021.8 1009.6 1023.2 1013.2 1024.6 1008.2 1026.0 1010.0 1027.4 1015.1 1028.8 1007.8 1030.2 1014.4 1031.6 1012.8 1034.4 1013.0 1035.8 1018.3 1037.2 1011.9 1038.6 1018.1 1040.0 1017.7 1041.4 1016.0 1042.8 1017.3 1044.2 1019.7 1047.0 1015.1 1048.4 1020.1 1049.8 1017.7 1052.6 1020.9 1055.4 1026.3 1056.8 1022.9 1058.2 1022.8 1059.6 1025.1 1061.0 1024.1 1062.4 1019.3 1063.8 1022.6 1065.2 1021.3 1066.6 1026.9 1068.0 1028.8 1070.8 1023.4 1072.2 1028.8 1073.6 1024.4 1075.0 1028.2 1076.4 1024.5 1079.2 1024.7 1080.6 1029.1 1082.0 1027.6 1083.4 1031.1 1084.8 1026.5 1086.2 1032.0 1087.6 1029.2 1089.0 1035.0 1090.4 1034.7 1091.8 1031.5 1096.0 1034.7 1097.4 1032.8 1098.8 1037.3 1101.6 1028.9 1103.0 1035.8 1104.4 1035.1 1105.8 1038.2 1107.2 1037.8 1108.6 1036.7 1111.4 1037.3 1114.2 1033.7 1117.0 1037.8 1118.4 1031.4 1119.8 1037.4 1121.2 1036.0 1122.6 1039.1 1124.0 1037.1 1125.4 1040.2 1126.8 1039.5 1128.2 1044.7 1129.6 1039.7 1132.4 1041.4 1133.8 1035.7 1135.2 1038.4 1136.6 1046.8 1138.0 1044.1 1139.4 1042.9 1140.8 1046.5 1142.2 1042.7 1145.0 1043.0 1146.4 1038.5 1147.8 1047.8 1149.2 1044.5 1150.6 1045.2 1153.4 1044.1 1154.8 1038.9 1157.6 1054.6 1160.4 1046.9 1161.8 1045.0 1163.2 1048.6 1164.6 1050.1 1166.0 1048.7 1167.4 1052.3 1168.8 1046.5 1170.2 1053.8 1173.0 1048.8 1174.4 1050.0 1177.2 1054.3 1178.6 1052.2 1180.0 1054.2 1181.4 1061.0 1182.8 1046.9 1184.2 1045.9 1185.6 1053.6 1187.0 1050.1 1188.4 1054.2 1189.8 1048.3 1192.6 1059.3 1194.0 1058.8 1195.4 1051.0 1199.6 1062.3 1201.0 1052.4 1202.4 1052.9 1203.8 1060.4 1205.2 1055.2 1206.6 1053.0 1208.0 1060.9 1209.4 1050.9 1210.8 1054.8 1212.2 1061.2 1213.6 1055.4 1215.0 1060.9 1216.4 1053.6 1217.8 1061.3 1219.2 1060.4 1220.6 1064.9 1222.0 1058.0 1223.4 1057.8 1224.8 1059.0 1226.2 1063.5 1227.6 1056.8 1229.0 1059.3 1230.4 1067.6 1231.8 1063.3 1233.2 1063.2 1234.6 1058.6 1236.0 1064.1 1237.4 1056.4 1238.8 1055.3 1240.2 1057.6 1241.6 1067.0 1244.4 1058.1 1248.6 1067.0 1250.0 1055.9 1251.4 1068.0 1252.8 1066.5 1254.2 1060.1 1255.6 1061.5 1257.0 1065.2 1258.4 1062.2 1259.8 1064.1 1262.6 1056.4 1264.0 1073.8 1265.4 1064.8 1266.8 1065.1 1268.2 1066.4 1269.6 1069.9 1271.0 1068.4 1272.4 1060.5 1273.8 1064.4 1275.2 1065.2 1276.6 1068.2 1278.0 1062.7 1279.4 1066.9 1280.8 1066.3 1282.2 1071.3 1283.6 1054.7 1285.0 1066.1 1287.8 1068.8 1290.6 1062.6 1292.0 1069.1 1293.4 1067.9 1294.8 1062.9 1296.2 1060.7 1297.6 1069.0 1299.0 1063.0 1300.4 1069.6 1301.8 1073.4 1303.2 1067.9 1306.0 1067.7 1307.4 1073.3 1308.8 1073.5 1310.2 1067.9 1311.6 1070.8 1314.4 1065.7 1315.8 1071.3 1320.0 1061.7 1321.4 1072.7 1322.8 1064.2 1324.2 1063.7 1327.0 1072.0 1328.4 1061.2 1329.8 1071.7 1331.2 1070.8 1332.6 1063.7 1334.0 1064.2 1335.4 1068.5 1336.8 1078.0 1338.2 1068.4 1339.6 1074.5 1341.0 1073.9 1342.4 1062.7 1343.8 1069.9 1345.0 1064.5 1346.2 1077.3 1347.4 1067.1 1348.6 1074.4 1352.2 1087.5 1353.4 1115.9 1354.6 1088.1 1355.8 1100.5 1357.0 1075.9 1358.2 1086.6 1359.4 1060.2 1361.8 1098.9 1363.0 1090.0 1364.2 1062.2 1365.4 1096.5 1366.6 1057.6 1367.8 1040.2 1369.0 1038.9 1370.2 1126.3 1371.4 1061.7 1372.6 1077.3 1373.8 1073.6 1375.0 1117.2 1376.2 1093.4 1377.4 1106.0 1378.6 1058.9 1381.0 1038.2 1384.6 1083.5 1385.8 1050.5 1387.0 1105.6 1389.4 1074.3 1391.8 1081.7 1393.0 1078.2 1394.2 1102.0 1395.4 1050.7 1396.6 1086.1 1397.8 1054.5 1399.0 1101.5 1400.2 1055.2 1401.4 1115.3 1402.6 1050.3 1403.8 1039.8 1405.0 1050.6 1406.2 1095.8 1407.4 1085.3 1409.8 1089.4 1411.0 1070.9 1412.2 1060.9 1413.4 1080.1 1414.6 1033.5 1415.8 1077.5 1417.0 1079.5 1418.2 1115.5 1419.4 1077.8 1420.6 1073.4 1421.8 1087.6 1423.0 1127.8 1424.2 1051.9 1425.4 1112.2 1426.6 1078.1 1427.8 1073.1 1429.0 1021.7 1430.2 1094.0 1432.6 1022.2 1433.8 1058.7 1435.0 1059.5 1436.2 1014.4 1437.4 1008.6 1438.6 1046.6 1439.8 1020.1 1441.0 1030.8 1442.2 1100.3 1443.4 1033.4 1444.6 1070.3 1445.8 1020.6 1447.0 1114.0 1448.2 1048.8 1449.4 1084.6 1450.6 1030.6 1451.8 1110.9 1453.0 1053.8 1454.2 1069.2 1455.4 1017.8 1456.6 1079.3 1457.8 1034.1 1459.0 1118.1 1460.2 1078.7 1461.4 1117.3 1462.6 1059.4 1463.8 1114.7 1465.0 1045.6 1466.2 1077.5 1467.4 1067.1 1468.6 1100.1 1469.8 1059.0 1471.0 1066.2 1472.2 1024.2 1473.4 1082.3" fill="none" stroke="#ff0000" stroke-width="6" stroke-linejoin="round"/>
<path d="M260.0 486.0L262.3 472.2 266.5 438.9 272.4 408.6 275.1 399.8 277.3 395.4 280.7 392.7 281.7 392.5 282.7 393.5 284.3 398.1 286.6 409.4 290.3 440.8 295.0 497.3 299.4 559.4 305.0 615.1 314.9 687.2 317.7 703.9 319.8 711.9 322.6 716.8 328.4 724.0 331.5 726.7 337.1 729.7 339.8 730.5 343.9 730.8 395.7 732.9 402.7 733.8 410.2 735.5 422.1 739.5 435.0 746.7 444.2 753.3 450.6 760.5 456.6 770.1 461.0 780.3 465.0 792.3 471.7 816.6 479.1 850.1 484.9 886.7 489.9 912.8 495.0 934.7 499.8 950.7 507.2 968.9 511.1 976.4 514.8 982.3 519.5 988.5 523.9 993.1 528.1 996.6 533.6 999.8 545.1 1004.7 585.6 1018.6 658.3 1036.5 678.9 1040.7 698.9 1044.1 746.1 1049.9 764.2 1053.0 767.0 1052.9 772.6 1053.8 776.8 1055.4 781.0 1055.3 782.4 1056.2 785.2 1055.7 786.6 1056.5 788.0 1056.2 789.4 1058.0 792.2 1058.2 793.6 1057.5 800.6 1059.1 802.0 1058.6 804.8 1060.3 807.6 1058.6 813.2 1060.6 814.6 1060.0 816.0 1061.9 817.4 1060.7 818.8 1061.4 821.6 1059.7 823.0 1061.8 824.4 1062.2 825.8 1062.5 827.2 1061.8 828.6 1062.2 831.4 1060.9 832.8 1062.5 838.4 1064.0 842.6 1063.7 845.4 1061.8 846.8 1064.1 848.2 1065.4 849.6 1064.6 851.0 1066.2 852.4 1065.0 853.8 1062.2 855.2 1065.7 856.6 1063.6 858.0 1064.6 859.4 1064.3 860.8 1064.8 862.2 1066.8 863.6 1066.4 865.0 1063.5 866.4 1065.7 867.8 1064.4 869.2 1066.9 870.6 1067.4 872.0 1065.1 873.4 1066.9 876.2 1066.8 877.6 1067.4 879.0 1065.9 880.4 1066.6 881.8 1066.2 884.6 1066.4 886.0 1063.6 888.8 1068.0 890.2 1064.7 891.6 1065.9 893.0 1062.4 894.4 1067.1 895.8 1066.7 898.6 1068.9 900.0 1065.5 901.4 1065.7 902.8 1067.5 904.2 1066.0 905.6 1067.7 907.0 1064.2 908.4 1066.3 911.2 1064.1 912.6 1066.7 914.0 1064.6 915.4 1065.3 916.8 1065.3 918.2 1061.3 919.6 1066.9 923.8 1064.7 925.2 1067.4 928.0 1062.9 929.4 1065.1 930.8 1066.1 932.2 1063.6 933.6 1063.3 936.4 1064.1 937.8 1063.3 939.2 1061.6 940.6 1063.3 942.0 1061.6 943.4 1061.7 944.8 1065.1 946.2 1063.0 947.6 1063.1 949.0 1066.9 950.4 1065.3 951.8 1070.4 953.2 1069.3 954.6 1071.8 957.4 1068.3 958.8 1064.8 961.6 1073.1 963.0 1069.9 964.4 1072.9 965.8 1073.4 967.2 1067.7 968.6 1070.4 970.0 1071.1 971.4 1074.6 972.8 1075.0 974.2 1070.0 975.6 1073.1 977.0 1072.4 978.4 1069.1 979.8 1074.0 981.2 1075.2 982.6 1068.8 984.0 1072.5 985.4 1069.2 986.8 1073.0 988.2 1072.9 989.6 1069.2 991.0 1069.4 992.4 1073.4 993.8 1068.8 995.2 1071.7 996.6 1064.6 998.0 1065.0 999.4 1071.1 1003.6 1064.8 1005.0 1067.9 1006.4 1063.6 1009.2 1068.2 1012.0 1061.7 1013.4 1061.1 1014.8 1064.0 1016.2 1058.9 1017.6 1066.7 1019.0 1062.3 1021.8 1062.4 1023.2 1060.9 1024.6 1066.4 1026.0 1060.5 1027.4 1058.6 1028.8 1064.5 1030.2 1059.2 1031.6 1065.2 1034.4 1059.9 1035.8 1062.2 1037.2 1060.1 1038.6 1061.1 1040.0 1069.0 1041.4 1065.7 1042.8 1067.1 1044.2 1066.9 1045.6 1069.4 1047.0 1068.8 1048.4 1070.5 1049.8 1071.2 1051.2 1075.7 1052.6 1070.8 1055.4 1073.7 1056.8 1070.9 1058.2 1075.8 1061.0 1073.3 1062.4 1073.0 1063.8 1075.6 1068.0 1079.3 1069.4 1076.4 1070.8 1082.1 1072.2 1078.5 1073.6 1082.1 1075.0 1077.8 1076.4 1082.9 1079.2 1077.5 1080.6 1078.8 1082.0 1081.3 1083.4 1075.2 1084.8 1081.8 1086.2 1074.5 1087.6 1082.2 1089.0 1078.9 1090.4 1077.7 1091.8 1080.2 1093.2 1086.8 1094.6 1088.5 1096.0 1081.4 1097.4 1087.9 1098.8 1084.0 1100.2 1089.2 1101.6 1083.5 1103.0 1085.8 1104.4 1079.6 1105.8 1087.8 1107.2 1086.5 1110.0 1089.4 1111.4 1082.4 1112.8 1085.3 1114.2 1076.8 1115.6 1080.4 1117.0 1079.2 1118.4 1086.8 1122.6 1084.6 1124.0 1091.7 1126.8 1082.1 1128.2 1090.8 1129.6 1090.8 1131.0 1087.6 1132.4 1075.6 1135.2 1086.1 1136.6 1083.0 1138.0 1078.0 1139.4 1084.8 1140.8 1081.5 1142.2 1085.5 1143.6 1085.5 1145.0 1090.3 1146.4 1080.9 1147.8 1088.8 1149.2 1080.7 1150.6 1088.7 1152.0 1086.6 1153.4 1086.3 1154.8 1085.1 1156.2 1081.8 1157.6 1086.2 1159.0 1086.8 1160.4 1089.6 1161.8 1086.1 1163.2 1086.5 1164.6 1080.1 1166.0 1077.3 1168.8 1094.3 1170.2 1083.9 1171.6 1080.6 1173.0 1073.4 1174.4 1086.9 1175.8 1080.2 1177.2 1081.7 1178.6 1085.5 1180.0 1087.2 1181.4 1092.5 1185.6 1084.3 1187.0 1079.2 1189.8 1088.6 1191.2 1074.6 1194.0 1091.2 1195.4 1088.5 1196.8 1083.3 1198.2 1083.0 1199.6 1087.3 1201.0 1083.5 1203.8 1092.2 1205.2 1083.4 1206.6 1082.0 1208.0 1089.4 1209.4 1086.2 1212.2 1075.6 1213.6 1092.7 1215.0 1093.4 1216.4 1084.1 1217.8 1087.1 1219.2 1085.9 1220.6 1087.1 1222.0 1092.8 1223.4 1087.2 1224.8 1084.6 1226.2 1086.7 1227.6 1086.0 1229.0 1088.6 1230.4 1084.1 1231.8 1082.2 1233.2 1094.2 1234.6 1088.9 1236.0 1089.4 1237.4 1095.8 1238.8 1085.5 1240.2 1084.5 1241.6 1087.2 1243.0 1080.6 1244.4 1080.9 1245.8 1080.4 1247.2 1088.4 1248.6 1077.8 1250.0 1085.7 1251.4 1084.8 1252.8 1092.7 1254.2 1083.6 1255.6 1090.0 1258.4 1089.2 1259.8 1092.8 1261.2 1076.9 1262.6 1087.8 1264.0 1084.0 1265.4 1084.0 1266.8 1092.3 1268.2 1083.0 1269.6 1082.5 1271.0 1092.0 1272.4 1076.1 1273.8 1092.7 1275.2 1080.7 1276.6 1095.5 1278.0 1082.3 1279.4 1089.1 1282.2 1086.8 1283.6 1089.1 1285.0 1086.3 1286.4 1092.1 1287.8 1089.7 1289.2 1077.4 1290.6 1072.8 1292.0 1098.3 1293.4 1074.6 1294.8 1086.8 1296.2 1083.3 1297.6 1083.1 1299.0 1081.7 1300.4 1097.4 1301.8 1091.5 1303.2 1080.7 1304.6 1090.0 1306.0 1087.5 1307.4 1096.9 1310.2 1077.3 1311.6 1095.5 1314.4 1096.5 1315.8 1090.5 1317.2 1076.1 1320.0 1084.3 1321.4 1086.8 1322.8 1083.5 1324.2 1088.8 1325.6 1079.5 1327.0 1082.4 1328.4 1081.1 1329.8 1084.3 1331.2 1076.6 1332.6 1096.4 1334.0 1079.6 1335.4 1081.6 1336.8 1087.8 1338.2 1080.8 1339.6 1090.6 1341.0 1090.5 1342.4 1091.1 1343.8 1081.1 1345.6 1056.5 1346.8 1064.9 1348.0 1041.6 1349.2 1066.9 1350.4 1051.8 1351.6 1070.7 1352.8 1051.2 1354.0 1070.2 1355.2 1043.9 1356.4 1072.1 1357.6 1065.6 1358.8 1086.2 1360.0 1076.3 1361.2 1113.8 1362.4 1085.1 1363.6 1094.9 1364.8 1045.2 1366.0 1111.2 1367.2 1040.1 1369.6 1067.4 1372.0 1085.2 1373.2 1067.3 1374.4 1078.8 1375.6 1076.8 1376.8 1050.1 1378.0 1091.0 1379.2 1042.7 1380.4 1039.2 1381.6 1038.4 1382.8 1066.5 1384.0 1077.0 1385.2 1110.0 1386.4 1051.7 1387.6 1082.4 1388.8 1087.4 1390.0 1127.2 1391.2 1075.0 1392.4 1129.1 1393.6 1073.9 1394.8 1088.7 1396.0 1084.9 1398.4 1033.2 1399.6 1087.9 1402.0 1023.5 1404.4 1060.2 1405.6 1034.9 1406.8 1042.8 1408.0 1059.0 1410.4 1071.4 1411.6 1086.0 1414.0 1044.8 1415.2 1071.7 1416.4 1084.1 1417.6 1053.5 1420.0 1068.3 1421.2 1068.4 1422.4 1042.1 1423.6 1049.7 1424.8 1029.3 1426.0 1098.2 1427.2 1030.2 1428.4 1065.3 1429.6 1069.9 1430.8 1084.2 1432.0 1070.8 1433.2 1078.6 1434.4 1052.1 1435.6 1104.3 1436.8 1039.5 1438.0 1103.9 1439.2 1038.1 1440.4 1117.7 1441.6 1019.3 1442.8 1063.4 1444.0 1014.2 1445.2 1093.4 1446.4 1060.2 1447.6 1061.8 1448.8 1056.0 1450.0 1043.3 1451.2 1041.0 1452.4 1068.0 1453.6 1075.2 1454.8 1063.0 1456.0 1073.5 1457.2 1093.4 1458.4 1053.1 1459.6 1074.3 1460.8 1074.6 1462.0 1091.4 1463.2 1023.7 1464.4 1067.4 1465.6 1069.4 1466.8 1108.8 1468.0 1068.1 1469.2 1124.6 1470.4 1029.8 1471.6 1126.6 1472.8 1057.3 1474.0 1120.4" fill="none" stroke="#ff0000" stroke-width="6" stroke-linejoin="round"/>
<path d="M260.0 834.0L263.6 845.4 266.0 855.6 283.8 952.6 289.7 982.9 292.3 993.0 309.2 1031.5 319.1 1052.3 335.7 1082.4 343.5 1093.2 350.7 1100.8 360.2 1108.2 363.3 1109.7 368.5 1111.4 376.9 1113.0 383.9 1112.6 394.9 1110.6 410.1 1105.3 422.9 1101.5 440.6 1097.2 446.8 1096.2 454.5 1096.1 465.0 1097.0 480.3 1102.1 483.0 1102.5 485.7 1101.8 489.9 1099.3 493.9 1095.3 499.1 1087.8 503.6 1079.0 507.4 1070.0 517.8 1041.0 531.9 1005.2 544.3 971.0 555.7 943.1 581.5 883.4 614.1 812.1 631.2 776.1 651.3 736.8 672.5 698.2 693.6 662.7 714.2 631.0 734.3 602.3 760.0 569.1 760.0 568.6 781.0 545.0 783.8 540.9 788.0 537.4 789.4 535.2 790.8 534.6 792.2 531.7 795.0 529.6 797.8 526.3 799.2 525.7 800.6 523.1 803.4 520.8 804.8 518.6 806.2 518.2 810.4 514.8 811.8 512.4 813.2 512.0 817.4 506.8 818.8 506.9 820.2 503.6 821.6 504.1 823.0 502.4 824.4 501.8 827.2 497.3 828.6 497.5 831.4 495.4 834.2 492.1 837.0 490.3 838.4 487.8 841.2 486.6 842.6 486.5 845.4 482.1 846.8 483.2 848.2 480.9 849.6 480.3 852.4 475.9 855.2 475.5 858.0 473.8 859.4 471.2 860.8 470.9 862.2 468.2 866.4 466.5 867.8 466.7 869.2 465.1 870.6 464.7 872.0 460.7 873.4 461.6 874.8 459.2 876.2 460.3 877.6 458.0 880.4 457.3 883.2 453.6 888.8 450.9 890.2 451.5 891.6 447.7 893.0 452.1 894.4 448.4 895.8 447.9 897.2 446.4 900.0 445.4 901.4 444.2 902.8 445.9 904.2 443.6 905.6 443.4 907.0 442.2 908.4 445.8 909.8 441.0 912.6 442.1 914.0 438.8 916.8 437.6 918.2 439.0 921.0 438.6 922.4 435.6 923.8 436.3 925.2 435.0 926.6 435.7 928.0 430.9 929.4 436.5 930.8 432.5 932.2 433.9 933.6 430.9 935.0 432.0 936.4 430.2 937.8 429.6 939.2 431.8 940.6 431.6 942.0 426.9 943.4 427.2 944.8 424.8 946.2 428.2 949.0 425.7 950.4 421.8 951.8 423.2 954.6 420.4 958.8 421.3 960.2 419.3 961.6 420.1 963.0 417.5 964.4 416.4 965.8 416.9 968.6 415.0 970.0 417.4 974.2 412.1 975.6 413.4 977.0 413.5 981.2 405.7 982.6 414.5 984.0 410.0 985.4 409.2 988.2 413.4 989.6 406.1 991.0 412.7 993.8 411.0 995.2 406.8 996.6 407.3 998.0 408.9 1000.8 407.0 1002.2 409.3 1003.6 408.2 1006.4 401.5 1007.8 405.5 1009.2 405.5 1010.6 402.0 1012.0 402.3 1013.4 400.8 1014.8 404.0 1016.2 399.2 1017.6 407.0 1019.0 403.2 1020.4 404.3 1021.8 410.1 1024.6 397.8 1026.0 405.7 1028.8 396.4 1030.2 396.0 1031.6 399.2 1033.0 397.9 1034.4 403.4 1035.8 395.4 1037.2 399.2 1038.6 398.2 1040.0 393.2 1041.4 397.2 1042.8 394.5 1044.2 393.9 1045.6 393.9 1047.0 396.8 1048.4 394.3 1049.8 399.4 1051.2 391.2 1052.6 388.4 1054.0 393.0 1055.4 382.8 1056.8 395.7 1058.2 396.9 1062.4 385.7 1063.8 387.8 1065.2 381.7 1066.6 385.1 1068.0 383.2 1069.4 384.0 1070.8 376.6 1072.2 381.2 1075.0 374.7 1076.4 374.7 1077.8 377.2 1079.2 377.5 1080.6 363.0 1083.4 379.9 1084.8 380.6 1086.2 374.5 1089.0 368.9 1090.4 378.1 1091.8 370.1 1093.2 372.9 1094.6 363.4 1096.0 365.7 1097.4 374.4 1100.2 367.7 1101.6 359.9 1103.0 367.7 1104.4 367.4 1105.8 369.4 1107.2 358.8 1108.6 358.9 1110.0 363.4 1111.4 362.6 1115.6 357.0 1117.0 360.6 1118.4 355.4 1121.2 361.9 1122.6 355.3 1124.0 357.5 1125.4 367.0 1126.8 352.5 1129.6 357.7 1131.0 362.4 1132.4 359.7 1133.8 361.6 1135.2 359.3 1136.6 352.4 1138.0 352.7 1140.8 355.5 1142.2 359.3 1143.6 352.3 1146.4 357.4 1147.8 346.3 1149.2 354.6 1150.6 353.4 1152.0 351.2 1153.4 350.4 1154.8 342.6 1156.2 345.6 1157.6 351.9 1159.0 348.8 1160.4 356.4 1161.8 347.4 1163.2 347.6 1164.6 355.4 1166.0 350.7 1167.4 354.8 1168.8 347.3 1170.2 345.9 1171.6 355.8 1173.0 353.6 1174.4 344.5 1175.8 345.7 1177.2 359.8 1178.6 350.3 1180.0 360.5 1181.4 349.6 1182.8 348.7 1184.2 350.9 1185.6 354.8 1187.0 348.2 1188.4 346.9 1191.2 345.9 1194.0 353.9 1196.8 343.6 1198.2 344.9 1199.6 342.4 1201.0 345.3 1202.4 338.4 1203.8 348.7 1206.6 342.2 1208.0 343.6 1209.4 343.4 1210.8 344.2 1212.2 343.5 1213.6 347.5 1215.0 346.4 1216.4 332.5 1219.2 352.6 1220.6 338.6 1222.0 343.3 1224.8 333.1 1226.2 346.8 1227.6 344.3 1229.0 329.6 1230.4 339.0 1231.8 342.7 1233.2 343.1 1234.6 332.6 1236.0 343.0 1237.4 340.1 1238.8 332.2 1241.6 342.0 1243.0 343.4 1244.4 337.3 1245.8 344.9 1247.2 337.6 1250.0 341.1 1251.4 331.9 1252.8 336.8 1254.2 330.2 1255.6 327.9 1257.0 332.1 1258.4 331.3 1261.2 337.4 1264.0 330.7 1265.4 335.2 1266.8 328.8 1269.6 339.6 1272.4 322.1 1273.8 319.9 1275.2 337.3 1276.6 336.1 1278.0 332.2 1279.4 338.0 1280.8 334.3 1282.2 334.9 1283.6 327.1 1285.0 337.9 1286.4 341.5 1287.8 339.6 1289.2 332.1 1290.6 332.8 1292.0 337.1 1293.4 328.7 1294.8 335.1 1296.2 325.9 1297.6 337.1 1299.0 336.1 1300.4 336.7 1301.8 331.1 1303.2 321.6 1304.6 329.0 1306.0 328.3 1307.4 325.4 1308.8 325.5 1310.2 336.6 1311.6 327.0 1313.0 330.2 1314.4 327.0 1315.8 320.0 1317.2 324.9 1318.6 321.0 1320.0 327.1 1321.4 317.2 1322.8 314.7 1324.2 320.6 1325.6 321.5 1327.0 317.2 1328.4 317.1 1329.8 319.8 1332.6 316.5 1334.0 322.8 1335.4 318.4 1336.8 322.2 1338.2 319.7 1339.6 311.9 1341.0 314.9 1342.4 321.0 1343.8 316.2 1345.2 324.8 1346.6 313.8 1348.0 311.8 1350.8 299.4 1353.2 299.6 1354.4 288.2 1355.6 313.9 1356.8 291.7 1358.0 325.1 1359.2 303.2 1360.4 292.0 1361.6 293.2 1362.8 348.9 1364.0 281.5 1365.2 287.6 1366.4 321.5 1367.6 322.9 1368.8 321.7 1370.0 344.8 1371.2 331.0 1372.4 323.2 1373.6 319.6 1374.8 317.7 1376.0 311.0 1377.2 368.0 1378.4 320.6 1379.6 368.9 1380.8 286.5 1382.0 310.9 1383.2 266.5 1384.4 258.1 1385.6 292.6 1386.8 307.5 1388.0 283.7 1389.2 306.9 1390.4 246.0 1391.6 356.4 1392.8 241.0 1394.0 328.5 1395.2 230.4 1396.4 322.9 1397.6 233.9 1401.2 273.1 1402.4 207.5 1403.6 280.8 1404.8 278.6 1406.0 312.0 1407.2 281.5 1408.4 358.4 1409.6 275.2 1412.0 226.8 1413.2 274.3 1414.4 212.7 1415.6 352.2 1416.8 264.8 1418.0 214.1 1419.2 290.2 1421.6 280.0 1422.8 283.7 1424.0 293.6 1425.2 338.6 1426.4 288.9 1427.6 302.2 1428.8 256.5 1430.0 351.3 1431.2 281.3 1432.4 262.7 1433.6 283.1 1434.8 325.1 1436.0 291.2 1437.2 323.4 1438.4 249.2 1439.6 298.6 1440.8 283.3 1442.0 366.1 1443.2 212.6 1444.4 261.8 1445.6 222.2 1446.8 367.6 1448.0 289.4 1449.2 366.8 1450.4 281.4 1451.6 351.4 1452.8 253.2 1454.0 225.7 1455.2 238.9 1456.4 293.2 1457.6 214.3 1458.8 289.8 1460.0 248.2 1461.2 305.6 1462.4 228.8 1463.6 299.7 1464.8 225.4 1466.0 288.3 1467.2 223.1 1468.4 327.0 1469.6 226.4 1470.8 327.0 1473.2 225.6 1474.4 264.9" fill="none" stroke="#ff0000" stroke-width="6" stroke-linejoin="round"/>
<path d="M1416.5 1060L1418.5 933L1421.5 933L1423.5 1060Z" fill="#ff0000" stroke="#ff0000" stroke-width="2"/>
<path d="M1461.5 1060L1463.5 985L1466.5 985L1468.5 1060Z" fill="#ff0000" stroke="#ff0000" stroke-width="2"/>
<path d="M1414.5 300L1416.5 439L1419.5 439L1421.5 300Z" fill="#ff0000" stroke="#ff0000" stroke-width="2"/>
<path d="M260.0 1150.0L271.1 1149.3 274.9 1147.1 277.1 1144.6 279.4 1140.1 281.6 1133.5 284.7 1120.5 286.7 1109.5 288.8 1088.6 291.8 1043.2 298.5 960.9 302.9 883.3 306.2 807.1 309.0 767.3 311.9 740.9 317.7 707.8 320.9 693.5 326.3 676.1 332.6 660.5 335.5 654.8 338.6 650.2 342.3 646.0 347.0 641.8 353.3 637.3 358.2 634.5 367.4 631.5 375.8 630.1 398.9 630.0 416.4 631.0 424.1 630.4 431.6 628.9 435.6 627.3 440.6 624.3 444.3 620.8 447.2 616.0 456.6 596.0 461.4 582.2 473.4 533.2 487.7 469.0 491.3 456.2 496.5 442.2 498.6 437.6 500.2 435.6 502.3 433.9 506.3 432.5 510.1 434.1 515.4 438.7 519.2 443.6 523.4 450.3 532.6 467.0 605.2 609.9 633.6 663.8 650.6 694.3 666.6 721.5 681.4 745.3 696.5 768.0 711.7 789.0 725.8 807.2 741.0 825.5 759.9 846.2 760.0 846.8 764.2 850.4 769.8 856.6 771.2 857.2 772.6 859.6 774.0 861.0 775.4 861.4 781.0 867.5 783.8 869.5 786.6 872.9 788.0 873.5 789.4 875.1 790.8 875.6 793.6 879.8 797.8 881.4 799.2 883.5 800.6 883.8 803.4 888.2 809.0 891.5 811.8 894.4 813.2 895.4 814.6 894.8 816.0 897.8 817.4 899.0 818.8 899.4 821.6 902.6 823.0 901.6 824.4 904.8 827.2 905.5 828.6 907.4 830.0 907.8 835.6 911.5 837.0 913.0 839.8 914.4 841.2 917.4 842.6 917.5 845.4 921.0 849.6 921.4 851.0 924.1 852.4 924.8 853.8 926.3 855.2 926.1 856.6 926.8 858.0 926.1 859.4 929.6 860.8 928.5 863.6 932.3 866.4 933.5 867.8 935.0 869.2 933.6 872.0 938.5 873.4 939.3 874.8 937.4 876.2 940.9 877.6 941.2 879.0 940.5 880.4 940.9 883.2 945.8 886.0 944.8 888.8 948.9 890.2 948.3 891.6 948.7 893.0 950.7 894.4 948.4 895.8 952.3 897.2 950.9 898.6 953.3 900.0 954.7 902.8 954.8 904.2 956.1 905.6 958.5 907.0 956.4 911.2 961.6 914.0 961.3 915.4 963.8 916.8 963.0 918.2 967.2 919.6 967.0 921.0 968.5 922.4 965.2 925.2 967.7 926.6 966.9 929.4 971.7 930.8 969.4 932.2 971.2 933.6 974.7 935.0 973.6 936.4 974.6 939.2 974.3 942.0 977.1 943.4 976.4 944.8 978.1 946.2 978.0 947.6 979.3 949.0 982.7 950.4 981.8 951.8 979.3 953.2 981.8 954.6 985.9 956.0 986.6 957.4 982.1 958.8 985.5 960.2 985.4 961.6 981.6 964.4 990.9 965.8 986.7 967.2 988.1 968.6 991.0 970.0 989.0 971.4 989.6 972.8 991.6 974.2 989.0 975.6 993.3 977.0 990.4 978.4 993.6 981.2 998.0 982.6 993.8 984.0 996.4 985.4 997.0 986.8 993.5 988.2 997.5 991.0 999.9 992.4 1003.5 993.8 1000.2 995.2 1000.4 998.0 1001.6 999.4 1003.2 1000.8 1006.1 1002.2 1001.0 1003.6 1003.9 1005.0 999.2 1006.4 1001.3 1007.8 1005.8 1009.2 1001.3 1010.6 1007.2 1012.0 1009.9 1013.4 1005.6 1014.8 1006.4 1016.2 1008.6 1017.6 1007.9 1019.0 1009.5 1020.4 1008.5 1021.8 1012.7 1024.6 1011.5 1026.0 1006.8 1027.4 1011.0 1030.2 1015.3 1031.6 1012.5 1033.0 1016.1 1034.4 1017.2 1035.8 1014.1 1037.2 1017.8 1040.0 1014.2 1042.8 1021.2 1044.2 1019.3 1045.6 1018.9 1047.0 1021.4 1048.4 1021.6 1049.8 1020.7 1051.2 1015.8 1052.6 1014.5 1054.0 1017.2 1055.4 1026.3 1056.8 1024.2 1058.2 1018.6 1059.6 1025.3 1061.0 1019.8 1062.4 1024.5 1063.8 1026.9 1065.2 1024.4 1066.6 1027.4 1068.0 1028.0 1069.4 1021.3 1070.8 1026.1 1072.2 1028.1 1075.0 1023.7 1076.4 1032.0 1079.2 1027.0 1080.6 1026.5 1083.4 1033.2 1084.8 1028.8 1086.2 1032.1 1087.6 1031.9 1089.0 1030.8 1091.8 1032.4 1093.2 1029.8 1094.6 1028.7 1096.0 1035.4 1097.4 1038.1 1098.8 1035.9 1100.2 1031.9 1101.6 1034.9 1104.4 1031.1 1107.2 1034.1 1108.6 1037.7 1110.0 1032.8 1111.4 1040.1 1112.8 1036.9 1114.2 1040.7 1115.6 1040.4 1117.0 1038.1 1118.4 1038.2 1119.8 1039.0 1121.2 1039.3 1122.6 1040.8 1124.0 1044.6 1125.4 1041.1 1126.8 1044.4 1128.2 1042.6 1129.6 1038.7 1131.0 1041.6 1133.8 1043.2 1135.2 1039.4 1136.6 1044.3 1138.0 1039.1 1139.4 1040.6 1140.8 1043.6 1142.2 1042.2 1143.6 1039.2 1145.0 1038.0 1146.4 1040.8 1147.8 1040.5 1149.2 1050.3 1150.6 1040.0 1152.0 1039.0 1153.4 1051.4 1154.8 1038.7 1157.6 1046.6 1159.0 1045.2 1160.4 1046.5 1163.2 1053.9 1164.6 1046.9 1166.0 1047.7 1167.4 1045.6 1168.8 1045.1 1170.2 1045.6 1171.6 1048.1 1173.0 1045.9 1174.4 1048.8 1177.2 1044.4 1178.6 1047.2 1180.0 1047.7 1181.4 1047.0 1182.8 1047.5 1184.2 1051.1 1185.6 1044.7 1187.0 1052.9 1188.4 1047.6 1189.8 1049.5 1191.2 1054.6 1192.6 1053.7 1194.0 1043.8 1195.4 1051.9 1196.8 1055.7 1198.2 1047.4 1199.6 1049.4 1201.0 1056.2 1202.4 1046.8 1203.8 1058.2 1205.2 1047.0 1206.6 1049.5 1209.4 1051.0 1210.8 1055.7 1213.6 1053.9 1215.0 1054.2 1216.4 1047.5 1217.8 1051.4 1219.2 1058.1 1220.6 1049.6 1222.0 1059.7 1223.4 1053.9 1224.8 1050.8 1226.2 1057.9 1227.6 1058.0 1229.0 1052.7 1230.4 1053.2 1231.8 1052.3 1233.2 1053.3 1234.6 1046.9 1237.4 1061.3 1238.8 1054.5 1240.2 1058.2 1241.6 1060.1 1244.4 1055.3 1247.2 1055.3 1248.6 1059.0 1250.0 1056.4 1252.8 1065.4 1255.6 1052.8 1257.0 1060.1 1258.4 1058.1 1261.2 1056.2 1262.6 1058.2 1264.0 1072.6 1265.4 1072.4 1266.8 1066.9 1268.2 1056.2 1271.0 1064.6 1272.4 1058.9 1273.8 1063.0 1276.6 1067.1 1278.0 1062.6 1279.4 1062.3 1280.8 1060.0 1282.2 1059.7 1283.6 1061.7 1285.0 1060.8 1286.4 1064.7 1289.2 1060.6 1290.6 1067.9 1292.0 1060.4 1293.4 1064.4 1294.8 1064.1 1296.2 1059.5 1297.6 1062.1 1299.0 1063.2 1301.8 1056.8 1303.2 1073.8 1304.6 1059.8 1306.0 1061.3 1307.4 1061.7 1308.8 1062.8 1310.2 1066.7 1311.6 1066.5 1313.0 1060.6 1314.4 1064.8 1315.8 1066.3 1317.2 1062.7 1318.6 1068.5 1320.0 1064.9 1321.4 1067.8 1322.8 1059.5 1324.2 1071.9 1325.6 1063.5 1327.0 1060.0 1329.8 1061.3 1331.2 1066.2 1332.6 1055.0 1334.0 1060.8 1335.4 1070.1 1336.8 1070.9 1338.2 1060.7 1339.6 1066.3 1341.0 1066.8 1343.8 1063.6 1345.0 1081.4 1346.2 1078.0 1347.4 1078.2 1348.6 1105.6 1349.8 1071.3 1351.0 1114.9 1352.2 1065.5 1353.4 1124.0 1354.6 1078.3 1355.8 1078.4 1357.0 1094.9 1358.2 1092.4 1359.4 1104.9 1360.6 1126.5 1361.8 1110.3 1363.0 1105.3 1364.2 1082.9 1365.4 1115.5 1366.6 1107.4 1367.8 1130.6 1369.0 1086.1 1370.2 1146.9 1371.4 1076.2 1372.6 1086.3 1375.0 1123.8 1376.2 1067.7 1377.4 1149.0 1378.6 1118.2 1379.8 1149.5 1381.0 1077.2 1382.2 1100.9 1383.4 1103.8 1384.6 1118.7 1385.8 1113.1 1387.0 1149.5 1388.2 1075.1 1389.4 1118.8 1390.6 1068.1 1391.8 1120.9 1393.0 1108.7 1394.2 1055.2 1395.4 1107.1 1396.6 1124.8 1397.8 1041.9 1399.0 1080.9 1400.2 1043.5 1401.4 1103.4 1402.6 1074.5 1403.8 1134.4 1405.0 1070.6 1406.2 1126.0 1407.4 1084.8 1408.6 1096.0 1409.8 1066.6 1411.0 1117.1 1412.2 1079.9 1413.4 1117.2 1415.8 1093.8 1417.0 1110.7 1418.2 1103.9 1419.4 1088.5 1420.6 1149.5 1421.8 1107.4 1423.0 1101.1 1424.2 1051.3 1425.4 1149.5 1426.6 1077.6 1427.8 1113.3 1429.0 1059.9 1430.2 1095.1 1431.4 1060.3 1432.6 1048.7 1433.8 1086.4 1435.0 1149.5 1436.2 1077.7 1437.4 1090.9 1438.6 1066.4 1439.8 1149.5 1441.0 1094.3 1442.2 1085.8 1443.4 1097.4 1444.6 1079.5 1445.8 1047.6 1447.0 1142.1 1448.2 1049.3 1449.4 1109.4 1450.6 1107.6 1451.8 1145.5 1453.0 1106.4 1454.2 1138.4 1455.4 1106.3 1456.6 1106.3 1457.8 1040.8 1459.0 1141.7 1460.2 1066.9 1461.4 1149.5 1462.6 1019.3 1463.8 1140.4 1465.0 1092.3 1466.2 1149.5 1467.4 1063.5 1469.8 1086.9 1471.0 1108.5 1472.2 1108.8 1473.4 1149.5" fill="none" stroke="#0000ff" stroke-width="6" stroke-linejoin="round"/>
<path d="M260.0 486.5L262.3 472.7 266.5 439.4 272.4 409.1 275.1 400.3 277.3 395.9 280.7 393.2 281.7 393.0 282.7 394.0 284.3 398.6 286.6 409.9 290.3 441.3 295.0 497.8 299.4 559.9 305.0 615.6 314.9 687.7 317.7 704.4 319.8 712.4 322.6 717.3 328.4 724.5 331.5 727.2 337.1 730.2 339.8 731.0 343.9 731.3 395.7 733.4 402.7 734.3 410.2 736.0 422.1 740.0 435.0 747.2 444.2 753.8 450.6 761.0 456.6 770.6 461.0 780.8 465.0 792.8 471.7 817.1 479.1 850.6 484.9 887.2 489.9 913.3 495.0 935.2 499.8 951.2 507.2 969.4 511.1 976.9 514.8 982.8 519.5 989.0 523.9 993.6 528.1 997.1 533.6 1000.3 545.1 1005.2 585.6 1019.1 662.4 1038.0 683.0 1042.0 701.7 1045.0 744.0 1050.1 762.8 1053.2 768.4 1053.6 769.8 1054.4 772.6 1054.5 774.0 1055.3 775.4 1055.4 776.8 1054.8 778.2 1054.7 779.6 1055.9 781.0 1055.9 782.4 1056.8 783.8 1056.1 785.2 1057.1 786.6 1057.4 788.0 1056.8 789.4 1058.6 790.8 1057.4 792.2 1058.1 797.8 1058.5 799.2 1059.4 800.6 1058.4 802.0 1059.5 806.2 1060.2 807.6 1061.7 809.0 1060.6 811.8 1060.4 813.2 1062.0 814.6 1062.1 816.0 1060.6 817.4 1060.7 818.8 1060.8 820.2 1062.5 821.6 1062.0 823.0 1062.6 824.4 1061.4 825.8 1062.2 827.2 1062.4 828.6 1063.5 831.4 1060.5 832.8 1062.8 835.6 1064.9 837.0 1061.5 838.4 1064.1 839.8 1064.5 842.6 1063.6 844.0 1064.7 845.4 1064.3 846.8 1066.0 848.2 1063.9 849.6 1066.5 851.0 1064.7 852.4 1064.2 853.8 1066.0 855.2 1065.0 856.6 1066.0 858.0 1065.7 859.4 1064.7 860.8 1065.0 862.2 1067.6 863.6 1064.1 866.4 1066.9 867.8 1066.4 869.2 1067.2 870.6 1064.7 872.0 1066.8 873.4 1067.3 874.8 1063.9 876.2 1066.6 877.6 1065.5 879.0 1065.4 880.4 1067.3 881.8 1066.8 883.2 1068.2 884.6 1067.0 886.0 1064.1 888.8 1067.1 890.2 1067.7 891.6 1065.8 893.0 1067.5 894.4 1065.8 895.8 1068.6 897.2 1067.2 898.6 1067.5 900.0 1063.0 901.4 1067.0 902.8 1067.2 904.2 1065.8 905.6 1066.1 907.0 1068.1 908.4 1066.0 909.8 1067.2 911.2 1063.6 912.6 1067.7 914.0 1063.6 915.4 1063.4 916.8 1066.4 919.6 1064.0 921.0 1066.5 922.4 1065.2 923.8 1068.0 925.2 1065.6 926.6 1067.3 928.0 1063.5 929.4 1065.2 930.8 1069.6 932.2 1065.0 933.6 1062.4 936.4 1062.5 937.8 1063.8 939.2 1058.9 940.6 1064.1 943.4 1062.1 944.8 1064.7 946.2 1059.6 947.6 1068.4 949.0 1066.6 950.4 1069.3 951.8 1066.9 953.2 1070.4 954.6 1070.3 956.0 1072.7 957.4 1068.4 958.8 1075.5 960.2 1072.0 961.6 1074.8 963.0 1072.1 965.8 1072.1 967.2 1074.2 968.6 1073.7 970.0 1070.4 971.4 1071.1 972.8 1073.5 974.2 1070.0 975.6 1073.6 977.0 1071.1 978.4 1074.6 979.8 1073.5 981.2 1073.5 982.6 1071.6 984.0 1074.5 985.4 1071.1 986.8 1075.0 988.2 1068.7 989.6 1071.9 991.0 1069.8 992.4 1074.3 993.8 1072.4 995.2 1072.2 996.6 1068.6 998.0 1069.8 999.4 1067.1 1000.8 1067.5 1002.2 1072.7 1003.6 1066.1 1005.0 1069.6 1006.4 1070.9 1007.8 1070.0 1009.2 1072.2 1010.6 1063.4 1012.0 1070.2 1013.4 1071.6 1014.8 1064.2 1016.2 1066.4 1019.0 1063.9 1020.4 1067.5 1021.8 1063.0 1023.2 1065.5 1024.6 1065.8 1026.0 1059.7 1028.8 1062.5 1030.2 1066.7 1031.6 1062.5 1033.0 1063.3 1034.4 1058.0 1035.8 1070.2 1037.2 1065.6 1040.0 1071.6 1041.4 1070.3 1042.8 1067.6 1044.2 1067.7 1045.6 1075.6 1047.0 1067.1 1048.4 1075.6 1049.8 1078.9 1051.2 1072.3 1052.6 1073.1 1054.0 1077.1 1055.4 1077.4 1056.8 1076.9 1058.2 1085.7 1059.6 1075.8 1062.4 1086.4 1063.8 1079.2 1065.2 1076.5 1066.6 1086.8 1068.0 1078.5 1069.4 1084.2 1070.8 1075.6 1072.2 1081.5 1073.6 1073.6 1075.0 1076.0 1076.4 1076.7 1079.2 1084.5 1080.6 1086.1 1084.8 1071.0 1086.2 1084.1 1087.6 1082.2 1089.0 1081.7 1090.4 1087.3 1091.8 1087.1 1093.2 1090.2 1096.0 1090.5 1097.4 1085.3 1098.8 1082.5 1100.2 1081.9 1103.0 1086.5 1104.4 1079.0 1105.8 1084.4 1107.2 1086.6 1108.6 1091.1 1110.0 1084.2 1112.8 1084.0 1114.2 1090.4 1115.6 1078.7 1117.0 1088.4 1118.4 1080.6 1121.2 1089.8 1122.6 1084.5 1124.0 1085.8 1126.8 1079.6 1128.2 1091.5 1129.6 1085.0 1131.0 1086.9 1132.4 1084.4 1136.6 1087.9 1138.0 1082.1 1139.4 1084.2 1140.8 1087.5 1142.2 1085.4 1143.6 1086.6 1145.0 1084.3 1146.4 1087.6 1147.8 1085.1 1149.2 1077.8 1152.0 1088.7 1153.4 1097.7 1154.8 1083.5 1156.2 1078.5 1159.0 1096.6 1160.4 1083.7 1161.8 1085.8 1163.2 1085.8 1164.6 1092.5 1166.0 1078.5 1167.4 1090.4 1168.8 1087.1 1171.6 1086.1 1173.0 1089.9 1174.4 1091.4 1175.8 1080.9 1178.6 1090.5 1180.0 1081.2 1181.4 1091.1 1182.8 1090.7 1184.2 1086.9 1185.6 1080.3 1188.4 1084.7 1189.8 1088.8 1191.2 1087.0 1192.6 1086.8 1194.0 1090.3 1195.4 1086.7 1196.8 1086.0 1199.6 1087.8 1202.4 1082.8 1205.2 1087.3 1206.6 1079.4 1208.0 1084.9 1209.4 1083.8 1210.8 1080.2 1212.2 1091.3 1215.0 1075.6 1216.4 1092.1 1217.8 1088.4 1219.2 1073.7 1220.6 1089.3 1222.0 1088.5 1223.4 1086.5 1224.8 1090.5 1226.2 1083.9 1227.6 1091.3 1229.0 1083.2 1230.4 1087.1 1231.8 1085.3 1233.2 1086.8 1234.6 1085.5 1236.0 1081.3 1237.4 1087.5 1238.8 1084.7 1240.2 1087.6 1241.6 1079.5 1243.0 1090.2 1244.4 1079.9 1245.8 1079.9 1247.2 1083.2 1248.6 1091.6 1250.0 1086.7 1251.4 1085.9 1252.8 1088.2 1254.2 1083.1 1257.0 1089.8 1258.4 1086.3 1259.8 1080.2 1261.2 1095.0 1264.0 1079.0 1265.4 1083.0 1266.8 1104.3 1268.2 1088.6 1269.6 1082.2 1271.0 1078.7 1272.4 1080.2 1275.2 1092.3 1276.6 1091.2 1278.0 1088.9 1279.4 1089.7 1282.2 1087.8 1283.6 1092.1 1285.0 1086.4 1286.4 1091.3 1287.8 1075.3 1289.2 1078.8 1290.6 1090.7 1292.0 1086.9 1293.4 1080.0 1294.8 1096.7 1296.2 1098.8 1297.6 1087.7 1299.0 1088.8 1301.8 1078.1 1303.2 1086.2 1304.6 1082.8 1306.0 1086.9 1308.8 1084.6 1310.2 1087.2 1311.6 1095.1 1313.0 1081.3 1315.8 1093.9 1317.2 1089.8 1320.0 1086.0 1321.4 1082.4 1322.8 1083.5 1324.2 1092.2 1325.6 1085.4 1327.0 1095.7 1329.8 1090.8 1331.2 1093.8 1332.6 1087.5 1334.0 1098.5 1335.4 1086.0 1336.8 1092.4 1338.2 1089.3 1339.6 1089.0 1341.0 1084.9 1342.4 1089.7 1343.8 1084.3 1345.6 1080.5 1346.8 1083.1 1348.0 1065.2 1349.2 1122.8 1350.4 1062.2 1351.6 1101.5 1352.8 1085.7 1354.0 1082.5 1355.2 1083.4 1356.4 1117.5 1357.6 1094.7 1358.8 1125.4 1360.0 1081.0 1361.2 1125.5 1362.4 1118.1 1363.6 1129.8 1364.8 1082.7 1366.0 1149.5 1367.2 1076.5 1368.4 1097.6 1369.6 1072.6 1370.8 1130.2 1372.0 1129.3 1373.2 1068.0 1374.4 1117.3 1375.6 1068.0 1376.8 1078.9 1378.0 1111.7 1379.2 1093.1 1380.4 1115.6 1381.6 1117.9 1382.8 1148.0 1384.0 1121.9 1385.2 1117.8 1386.4 1117.1 1387.6 1149.5 1388.8 1106.1 1390.0 1124.8 1391.2 1071.8 1392.4 1129.5 1393.6 1064.3 1394.8 1148.8 1396.0 1092.3 1397.2 1121.8 1398.4 1078.9 1399.6 1149.5 1400.8 1103.0 1402.0 1121.0 1403.2 1110.7 1404.4 1149.5 1405.6 1109.7 1406.8 1128.5 1409.2 1097.8 1410.4 1061.6 1411.6 1091.0 1412.8 1066.2 1414.0 1078.6 1415.2 1083.4 1416.4 1102.4 1417.6 1106.6 1418.8 1065.0 1420.0 1071.2 1421.2 1136.6 1422.4 1082.6 1423.6 1128.6 1424.8 1113.5 1426.0 1116.9 1427.2 1088.9 1428.4 1147.7 1429.6 1097.5 1430.8 1143.8 1432.0 1116.4 1433.2 1134.3 1434.4 1092.6 1435.6 1149.5 1436.8 1101.8 1438.0 1086.8 1439.2 1092.9 1440.4 1109.7 1441.6 1019.3 1442.8 1129.6 1444.0 1082.6 1445.2 1149.5 1446.4 1033.6 1447.6 1090.2 1448.8 1096.6 1450.0 1090.3 1451.2 1098.6 1452.4 1100.6 1453.6 1090.5 1454.8 1101.8 1456.0 1042.6 1457.2 1106.6 1458.4 1117.9 1460.8 1108.5 1462.0 1115.0 1463.2 1052.3 1464.4 1149.5 1466.8 1086.8 1468.0 1041.4 1469.2 1126.9 1470.4 1065.9 1471.6 1149.5 1472.8 1091.1 1474.0 1108.6" fill="none" stroke="#0000ff" stroke-width="6" stroke-linejoin="round"/>
<path d="M260.0 835.5L263.6 846.9 266.0 857.1 283.8 954.1 289.7 984.4 292.3 994.5 309.2 1033.0 319.1 1053.8 336.1 1084.5 343.9 1095.2 350.7 1102.3 360.2 1109.7 363.3 1111.2 368.5 1112.9 376.9 1114.5 383.9 1114.1 394.9 1112.1 410.1 1106.8 422.9 1103.0 440.6 1098.7 446.8 1097.7 454.5 1097.6 465.0 1098.5 481.0 1103.8 483.7 1103.9 486.4 1103.0 490.5 1100.4 494.3 1096.2 499.1 1089.3 503.6 1080.5 507.4 1071.5 517.8 1042.5 531.9 1006.7 544.3 972.5 555.7 944.6 581.5 884.9 613.8 814.2 630.9 778.2 651.0 738.9 672.2 700.3 693.3 664.8 714.2 632.5 734.3 603.8 760.0 570.6 760.0 570.1 782.4 544.6 783.8 543.6 785.2 540.8 788.0 538.5 789.4 538.1 792.2 534.1 795.0 530.9 796.4 530.2 797.8 528.1 802.0 524.0 803.4 521.8 804.8 521.7 806.2 519.5 807.6 519.3 809.0 517.6 810.4 516.9 816.0 509.4 820.2 507.1 823.0 504.3 824.4 501.6 830.0 497.9 834.2 494.0 835.6 493.7 837.0 492.2 839.8 487.4 841.2 488.6 842.6 485.1 844.0 486.2 845.4 485.7 848.2 481.9 851.0 480.7 852.4 478.6 853.8 478.7 858.0 473.4 859.4 472.9 860.8 473.7 862.2 471.1 865.0 471.0 866.4 466.8 872.0 464.9 873.4 461.8 874.8 462.5 876.2 460.1 877.6 460.4 879.0 457.5 880.4 457.2 881.8 458.2 883.2 456.4 884.6 455.8 886.0 454.0 887.4 455.7 888.8 452.7 890.2 451.5 893.0 453.1 894.4 449.8 895.8 449.3 897.2 447.2 900.0 448.4 901.4 445.1 902.8 448.9 904.2 447.1 905.6 444.0 908.4 444.8 909.8 443.6 911.2 443.9 914.0 440.3 915.4 441.6 916.8 441.5 918.2 440.4 919.6 440.0 921.0 440.8 923.8 437.4 925.2 438.9 926.6 438.6 928.0 437.5 929.4 433.6 930.8 433.1 932.2 435.7 933.6 432.7 935.0 434.8 936.4 432.2 937.8 434.7 939.2 431.1 942.0 429.3 943.4 429.0 944.8 428.0 946.2 428.3 949.0 426.2 950.4 426.7 951.8 425.9 953.2 425.8 956.0 423.9 957.4 420.6 958.8 420.7 960.2 417.0 961.6 419.3 963.0 418.8 964.4 420.4 965.8 417.3 967.2 416.2 968.6 416.3 971.4 413.9 972.8 411.1 975.6 417.4 978.4 410.4 979.8 417.1 981.2 411.5 982.6 411.1 984.0 411.7 985.4 414.0 986.8 409.0 988.2 415.3 989.6 413.9 991.0 405.6 992.4 409.8 993.8 412.0 995.2 415.7 998.0 407.1 999.4 404.2 1000.8 403.5 1002.2 414.0 1003.6 403.7 1005.0 408.9 1006.4 408.5 1007.8 410.2 1009.2 406.3 1010.6 407.3 1013.4 402.3 1014.8 404.6 1016.2 402.5 1017.6 409.3 1019.0 407.8 1020.4 400.8 1023.2 407.8 1026.0 397.8 1027.4 402.7 1028.8 402.5 1030.2 401.1 1031.6 403.3 1033.0 400.8 1034.4 400.2 1035.8 397.4 1037.2 400.3 1038.6 402.0 1040.0 400.2 1041.4 401.3 1042.8 396.9 1044.2 395.8 1045.6 392.3 1047.0 398.2 1048.4 393.4 1049.8 396.6 1051.2 391.7 1052.6 395.0 1054.0 390.2 1055.4 390.9 1058.2 387.4 1059.6 387.9 1061.0 386.9 1062.4 392.1 1063.8 385.5 1066.6 384.3 1068.0 385.6 1069.4 379.0 1070.8 383.6 1072.2 380.2 1073.6 386.9 1075.0 378.6 1076.4 377.7 1077.8 372.8 1079.2 379.9 1080.6 374.0 1083.4 369.2 1084.8 370.8 1086.2 374.9 1087.6 370.9 1089.0 377.0 1090.4 377.3 1091.8 369.3 1093.2 369.0 1096.0 379.0 1097.4 372.9 1098.8 373.7 1100.2 360.0 1101.6 362.5 1103.0 366.8 1104.4 364.3 1105.8 364.9 1107.2 367.7 1108.6 363.6 1111.4 369.5 1112.8 364.4 1115.6 358.3 1118.4 363.8 1119.8 361.2 1121.2 367.0 1122.6 351.6 1124.0 356.5 1125.4 364.8 1126.8 355.1 1128.2 353.8 1129.6 357.0 1131.0 358.9 1133.8 356.3 1135.2 350.4 1136.6 364.2 1138.0 363.1 1139.4 352.0 1140.8 358.8 1143.6 353.8 1145.0 359.4 1146.4 351.8 1147.8 353.8 1149.2 359.8 1150.6 357.7 1152.0 352.4 1154.8 365.0 1156.2 352.4 1157.6 353.2 1159.0 357.2 1160.4 353.7 1161.8 356.1 1163.2 348.3 1164.6 355.4 1166.0 351.5 1167.4 349.2 1168.8 357.2 1170.2 349.9 1171.6 360.1 1174.4 348.0 1175.8 349.7 1177.2 348.9 1180.0 353.0 1181.4 351.7 1182.8 354.3 1184.2 346.7 1185.6 353.3 1187.0 350.9 1188.4 354.8 1189.8 352.4 1191.2 357.9 1192.6 347.3 1194.0 355.7 1195.4 347.5 1196.8 353.5 1198.2 351.1 1199.6 341.2 1201.0 356.0 1202.4 351.8 1203.8 342.9 1205.2 342.3 1206.6 335.9 1208.0 353.2 1209.4 343.4 1210.8 346.6 1212.2 338.5 1213.6 347.0 1215.0 349.8 1216.4 349.9 1219.2 341.5 1220.6 344.1 1223.4 335.4 1224.8 334.2 1226.2 344.2 1227.6 349.6 1229.0 343.6 1230.4 344.7 1231.8 342.9 1233.2 336.4 1234.6 348.4 1236.0 337.6 1237.4 348.7 1238.8 338.4 1240.2 332.7 1241.6 342.4 1243.0 335.9 1244.4 348.5 1245.8 339.5 1247.2 337.0 1248.6 342.0 1250.0 345.2 1251.4 334.6 1252.8 341.3 1254.2 335.2 1255.6 338.8 1257.0 335.1 1258.4 333.4 1259.8 336.5 1261.2 338.4 1262.6 332.7 1264.0 334.7 1265.4 332.1 1266.8 330.9 1268.2 324.0 1269.6 329.3 1271.0 341.2 1272.4 338.4 1273.8 344.2 1275.2 330.7 1276.6 337.3 1278.0 333.4 1279.4 337.2 1280.8 331.6 1282.2 340.4 1283.6 340.4 1285.0 321.1 1286.4 342.9 1287.8 342.3 1289.2 325.7 1290.6 334.0 1292.0 327.0 1294.8 335.7 1297.6 329.3 1299.0 331.2 1300.4 339.6 1301.8 324.4 1303.2 323.8 1304.6 332.1 1306.0 331.1 1307.4 328.9 1308.8 333.3 1311.6 319.5 1313.0 318.1 1314.4 327.9 1315.8 325.3 1317.2 319.7 1320.0 326.0 1321.4 325.9 1322.8 316.3 1324.2 316.6 1325.6 321.8 1327.0 322.0 1328.4 327.5 1329.8 320.2 1331.2 317.4 1332.6 320.2 1334.0 317.5 1335.4 324.6 1336.8 316.6 1338.2 322.3 1339.6 322.7 1341.0 311.3 1342.4 321.5 1343.8 317.1 1345.2 315.0 1346.6 326.1 1348.0 313.0 1349.4 314.9 1350.8 304.4 1352.0 302.0 1353.2 309.9 1354.4 303.1 1355.6 303.9 1356.8 277.4 1358.0 306.7 1359.2 268.2 1360.4 319.1 1361.6 297.4 1362.8 258.9 1365.2 312.1 1367.6 261.0 1368.8 263.2 1370.0 252.9 1371.2 276.5 1373.6 292.1 1374.8 286.0 1376.0 283.1 1377.2 315.5 1378.4 283.9 1379.6 284.9 1380.8 246.2 1382.0 302.7 1384.4 246.1 1385.6 273.0 1386.8 281.9 1388.0 278.2 1389.2 325.1 1390.4 274.5 1391.6 281.0 1392.8 275.9 1395.2 242.7 1396.4 260.2 1397.6 187.6 1398.8 316.7 1400.0 180.8 1401.2 237.8 1402.4 175.8 1403.6 316.4 1404.8 217.0 1406.0 303.7 1407.2 223.7 1408.4 319.6 1409.6 176.7 1410.8 224.0 1412.0 223.1 1413.2 320.2 1414.4 227.8 1415.6 281.8 1416.8 181.5 1418.0 243.4 1419.2 253.3 1420.4 297.1 1421.6 209.6 1422.8 244.2 1424.0 236.8 1425.2 289.1 1427.6 173.3 1430.0 294.6 1431.2 171.5 1432.4 268.3 1433.6 211.4 1434.8 252.6 1436.0 213.5 1437.2 280.2 1438.4 191.3 1439.6 298.4 1440.8 191.9 1442.0 204.0 1443.2 234.8 1445.6 250.2 1446.8 292.5 1448.0 234.4 1449.2 253.4 1450.4 216.0 1451.6 245.7 1452.8 220.3 1454.0 238.7 1455.2 188.0 1456.4 254.3 1457.6 206.9 1458.8 261.3 1460.0 191.6 1461.2 241.9 1462.4 190.8 1463.6 244.1 1464.8 183.3 1466.0 298.2 1467.2 200.5 1468.4 284.5 1469.6 222.7 1470.8 304.9 1472.0 206.0 1473.2 305.3 1474.4 213.2" fill="none" stroke="#0000ff" stroke-width="6" stroke-linejoin="round"/>
<path d="M1346.5 1060L1348.5 1042L1351.5 1042L1353.5 1060Z" fill="#0000ff" stroke="#0000ff" stroke-width="2"/>
<path d="M1468.5 1060L1470.5 1030L1473.5 1030L1475.5 1060Z" fill="#0000ff" stroke="#0000ff" stroke-width="2"/>
<path d="M1468.5 300L1470.5 356L1473.5 356L1475.5 300Z" fill="#0000ff" stroke="#0000ff" stroke-width="2"/>
<path d="M1411.5 300L1413.5 388L1416.5 388L1418.5 300Z" fill="#0000ff" stroke="#0000ff" stroke-width="2"/>
<path d="M260.0 1149.0L271.1 1148.3 274.9 1146.1 277.1 1143.6 279.4 1139.1 281.6 1132.5 284.7 1119.5 286.7 1108.5 288.8 1087.6 291.8 1042.2 298.5 959.9 302.9 882.3 306.2 806.1 309.0 766.3 311.9 739.9 317.7 706.8 320.9 692.5 326.3 675.1 332.6 659.5 335.5 653.8 338.6 649.2 342.3 645.0 347.0 640.8 353.3 636.3 358.2 633.5 367.4 630.5 375.8 629.1 398.9 629.0 416.4 630.0 424.1 629.4 431.6 627.9 435.6 626.3 440.6 623.3 444.3 619.8 447.2 615.0 456.6 595.0 461.4 581.2 473.4 532.2 487.7 468.0 491.3 455.2 496.5 441.2 498.6 436.6 500.2 434.6 502.3 432.9 506.3 431.5 510.1 433.1 515.4 437.7 519.2 442.6 523.4 449.3 532.6 466.0 605.8 610.2 635.3 665.8 652.7 697.0 668.7 724.1 684.4 749.0 699.7 771.5 719.3 798.0 738.8 821.9 759.9 845.2 760.0 845.9 761.4 846.5 765.6 851.3 771.2 856.1 772.6 858.3 774.0 859.0 778.2 863.7 779.6 864.6 781.0 866.8 782.4 867.5 785.2 870.3 788.0 872.3 792.2 877.2 795.0 879.2 796.4 879.1 800.6 884.7 807.6 889.3 813.2 894.7 814.6 895.4 816.0 897.3 817.4 897.0 820.2 900.0 821.6 899.8 823.0 902.5 825.8 905.4 827.2 905.3 830.0 907.9 831.4 907.2 832.8 909.7 834.2 909.4 837.0 913.1 838.4 913.8 839.8 912.9 841.2 916.7 842.6 916.8 844.0 918.4 845.4 918.0 846.8 919.2 848.2 922.3 849.6 921.3 852.4 923.0 853.8 925.2 855.2 923.8 856.6 925.9 858.0 926.3 859.4 930.4 862.2 930.0 866.4 932.2 867.8 933.4 869.2 936.3 870.6 935.1 873.4 937.5 874.8 939.6 877.6 938.7 879.0 940.7 880.4 941.6 881.8 941.0 884.6 944.5 886.0 944.5 887.4 947.8 890.2 947.0 891.6 948.3 893.0 948.1 894.4 949.2 895.8 951.8 897.2 951.6 898.6 950.2 900.0 951.7 901.4 954.8 902.8 953.5 905.6 957.9 907.0 957.0 909.8 958.3 911.2 961.0 912.6 959.4 914.0 959.5 916.8 964.9 918.2 963.9 919.6 966.3 921.0 966.7 922.4 964.1 923.8 966.5 926.6 967.9 928.0 970.4 929.4 971.4 930.8 971.2 932.2 972.6 933.6 970.7 935.0 973.5 936.4 971.4 937.8 973.2 939.2 972.5 940.6 977.0 942.0 975.2 943.4 977.7 944.8 975.2 946.2 978.3 947.6 979.9 949.0 979.5 951.8 980.9 956.0 981.3 957.4 985.1 958.8 984.0 961.6 985.9 963.0 983.8 965.8 984.9 967.2 991.0 968.6 988.0 970.0 990.4 971.4 986.4 972.8 989.6 974.2 991.1 975.6 990.5 977.0 994.2 978.4 992.1 979.8 993.3 981.2 996.1 982.6 997.7 984.0 995.9 985.4 994.9 986.8 995.8 988.2 999.3 989.6 995.4 992.4 996.7 993.8 1001.3 995.2 1000.6 996.6 998.5 998.0 999.3 999.4 1001.4 1002.2 1000.3 1003.6 1001.2 1005.0 1003.1 1006.4 1002.8 1007.8 1004.5 1010.6 1004.1 1012.0 1007.1 1013.4 1007.7 1014.8 1002.9 1016.2 1008.3 1019.0 1006.5 1020.4 1011.0 1021.8 1010.4 1023.2 1011.6 1024.6 1009.6 1026.0 1015.5 1028.8 1010.9 1030.2 1017.3 1031.6 1011.3 1033.0 1017.4 1034.4 1013.5 1038.6 1013.1 1040.0 1013.8 1041.4 1017.4 1042.8 1016.8 1044.2 1013.4 1045.6 1018.4 1047.0 1014.6 1048.4 1020.1 1049.8 1018.1 1051.2 1019.2 1052.6 1023.3 1054.0 1015.3 1055.4 1026.9 1056.8 1029.6 1058.2 1024.8 1059.6 1023.9 1061.0 1021.0 1062.4 1026.2 1063.8 1023.1 1065.2 1023.3 1066.6 1022.3 1068.0 1028.7 1069.4 1027.7 1070.8 1021.8 1072.2 1025.9 1073.6 1022.9 1075.0 1029.6 1076.4 1024.8 1079.2 1029.8 1082.0 1025.4 1083.4 1028.1 1084.8 1025.8 1086.2 1034.3 1087.6 1033.2 1089.0 1025.7 1090.4 1027.8 1091.8 1038.3 1093.2 1034.0 1094.6 1031.4 1096.0 1035.6 1097.4 1034.2 1098.8 1035.9 1100.2 1032.8 1101.6 1039.3 1104.4 1031.5 1105.8 1035.4 1107.2 1035.0 1108.6 1037.6 1111.4 1037.5 1112.8 1034.9 1114.2 1038.6 1115.6 1036.5 1117.0 1043.9 1118.4 1035.5 1119.8 1038.6 1121.2 1038.3 1122.6 1037.1 1124.0 1042.0 1126.8 1042.1 1128.2 1046.8 1129.6 1040.4 1131.0 1044.1 1132.4 1043.3 1133.8 1044.2 1135.2 1039.4 1136.6 1040.0 1138.0 1047.1 1139.4 1040.8 1140.8 1048.8 1142.2 1050.6 1143.6 1044.1 1145.0 1047.6 1146.4 1047.5 1147.8 1052.5 1149.2 1055.0 1150.6 1051.0 1152.0 1051.7 1153.4 1053.5 1154.8 1046.4 1157.6 1053.5 1159.0 1049.3 1160.4 1057.1 1161.8 1048.5 1163.2 1051.5 1166.0 1055.3 1167.4 1050.1 1170.2 1055.4 1171.6 1054.8 1173.0 1056.9 1174.4 1052.4 1175.8 1051.7 1177.2 1045.8 1178.6 1051.5 1180.0 1054.8 1181.4 1051.5 1184.2 1060.5 1185.6 1056.1 1187.0 1061.5 1188.4 1061.3 1189.8 1059.0 1191.2 1061.9 1192.6 1062.9 1194.0 1054.9 1195.4 1066.2 1196.8 1054.1 1198.2 1061.9 1199.6 1058.9 1201.0 1059.4 1202.4 1062.5 1203.8 1060.5 1206.6 1062.3 1208.0 1059.3 1209.4 1063.8 1210.8 1059.0 1212.2 1065.5 1213.6 1059.1 1215.0 1064.9 1216.4 1062.2 1217.8 1070.0 1219.2 1061.0 1220.6 1069.5 1223.4 1059.2 1224.8 1071.0 1226.2 1069.7 1227.6 1072.7 1229.0 1064.6 1230.4 1070.1 1231.8 1072.7 1233.2 1067.7 1234.6 1078.5 1236.0 1066.7 1237.4 1071.8 1238.8 1064.6 1240.2 1065.4 1245.8 1071.2 1247.2 1060.8 1248.6 1069.9 1250.0 1067.3 1251.4 1062.5 1254.2 1072.7 1255.6 1072.1 1257.0 1063.9 1258.4 1067.7 1259.8 1068.1 1261.2 1075.6 1262.6 1069.1 1264.0 1067.2 1265.4 1070.2 1266.8 1060.2 1268.2 1070.9 1269.6 1074.5 1271.0 1072.3 1272.4 1063.2 1273.8 1080.8 1275.2 1073.4 1276.6 1070.5 1278.0 1070.7 1279.4 1074.7 1280.8 1070.8 1282.2 1070.9 1283.6 1074.1 1285.0 1067.1 1286.4 1074.9 1287.8 1067.9 1289.2 1073.8 1290.6 1076.5 1292.0 1074.4 1293.4 1075.8 1294.8 1070.8 1296.2 1069.2 1297.6 1077.0 1299.0 1072.1 1300.4 1069.2 1301.8 1070.6 1303.2 1069.9 1304.6 1076.2 1306.0 1075.7 1307.4 1079.5 1308.8 1068.6 1310.2 1073.7 1311.6 1073.2 1313.0 1064.7 1314.4 1073.5 1315.8 1076.5 1317.2 1070.4 1318.6 1068.6 1320.0 1084.4 1321.4 1068.4 1322.8 1081.0 1324.2 1075.9 1325.6 1076.5 1327.0 1072.4 1328.4 1070.4 1329.8 1081.3 1331.2 1083.3 1332.6 1071.4 1334.0 1080.6 1335.4 1075.3 1336.8 1078.9 1338.2 1074.6 1339.6 1072.5 1341.0 1068.8 1342.4 1068.0 1343.8 1075.3 1345.0 1055.5 1346.2 1096.3 1347.4 1077.2 1348.6 1070.7 1349.8 1089.9 1351.0 1093.5 1352.2 1093.9 1353.4 1099.1 1354.6 1082.5 1355.8 1103.6 1357.0 1091.8 1358.2 1117.3 1359.4 1068.7 1360.6 1098.2 1361.8 1097.6 1363.0 1099.8 1364.2 1098.3 1365.4 1125.8 1366.6 1074.9 1367.8 1073.1 1370.2 1077.8 1371.4 1088.2 1373.8 1079.4 1375.0 1103.3 1376.2 1083.6 1377.4 1111.9 1378.6 1101.6 1379.8 1070.3 1381.0 1073.8 1382.2 1103.3 1383.4 1109.2 1385.8 1071.5 1387.0 1133.9 1388.2 1092.9 1389.4 1069.9 1390.6 1069.0 1391.8 1121.4 1393.0 1105.2 1394.2 1149.5 1395.4 1099.4 1396.6 1105.4 1397.8 1096.2 1399.0 1118.0 1401.4 1096.5 1402.6 1075.7 1403.8 1149.5 1405.0 1113.2 1406.2 1113.4 1407.4 1073.2 1408.6 1126.1 1411.0 1077.1 1412.2 1101.1 1413.4 1103.3 1414.6 1079.6 1415.8 1098.7 1417.0 1076.3 1418.2 1135.9 1419.4 1103.9 1420.6 1149.5 1421.8 1063.1 1423.0 1093.2 1424.2 1104.6 1425.4 1099.3 1426.6 1049.9 1427.8 1140.4 1430.2 1063.1 1431.4 1103.8 1432.6 1118.5 1433.8 1102.7 1435.0 1145.4 1436.2 1093.9 1437.4 1094.7 1438.6 1105.4 1439.8 1067.2 1442.2 1144.4 1443.4 1114.5 1444.6 1113.8 1445.8 1093.5 1447.0 1149.5 1448.2 1071.5 1449.4 1149.5 1450.6 1068.0 1451.8 1086.5 1453.0 1071.4 1454.2 1124.6 1455.4 1073.6 1456.6 1146.6 1457.8 1081.2 1459.0 1149.5 1461.4 1087.2 1462.6 1081.1 1463.8 1127.6 1465.0 1087.3 1466.2 1107.9 1467.4 1079.7 1468.6 1139.0 1469.8 1080.5 1471.0 1133.1 1472.2 1087.7 1473.4 1095.2" fill="none" stroke="#ff00ff" stroke-width="6" stroke-linejoin="round"/>
<path d="M260.0 486.5L262.3 472.7 266.5 439.4 272.4 409.1 275.1 400.3 277.3 395.9 280.7 393.2 281.7 393.0 282.7 394.0 284.3 398.6 286.6 409.9 290.3 441.3 295.0 497.8 299.4 559.9 305.0 615.6 314.9 687.7 317.7 704.4 319.8 712.4 322.6 717.3 328.4 724.5 331.5 727.2 337.1 730.2 339.8 731.0 343.9 731.3 395.7 733.4 402.7 734.3 410.2 736.0 422.1 740.0 435.0 747.2 444.2 753.8 450.6 761.0 456.6 770.6 461.0 780.8 465.0 792.8 471.7 817.1 479.1 850.6 484.9 887.2 489.9 913.3 494.8 934.5 499.6 950.6 506.6 968.1 514.1 981.6 518.6 987.9 523.4 993.2 527.5 996.7 532.3 999.6 544.5 1005.0 585.6 1019.1 663.1 1038.1 683.7 1042.1 702.3 1045.1 739.2 1049.4 760.0 1052.6 761.4 1052.2 762.8 1053.0 764.2 1052.9 765.6 1053.5 767.0 1053.3 768.4 1054.3 774.0 1054.5 775.4 1055.7 778.2 1055.7 782.4 1056.5 786.6 1055.7 788.0 1056.3 789.4 1058.2 790.8 1057.2 793.6 1059.4 796.4 1058.6 797.8 1058.9 799.2 1060.1 800.6 1058.8 803.4 1061.9 804.8 1060.8 807.6 1060.9 810.4 1059.5 811.8 1061.8 813.2 1062.1 814.6 1059.7 817.4 1063.0 820.2 1062.8 821.6 1061.2 823.0 1061.1 825.8 1063.9 827.2 1061.9 828.6 1065.0 830.0 1061.5 831.4 1062.4 832.8 1064.8 834.2 1061.5 835.6 1064.5 838.4 1064.6 841.2 1063.9 842.6 1062.5 844.0 1064.0 845.4 1063.7 846.8 1062.4 848.2 1062.8 849.6 1065.9 851.0 1064.1 852.4 1063.6 853.8 1064.8 855.2 1062.2 856.6 1066.1 858.0 1066.7 859.4 1068.6 860.8 1065.0 862.2 1067.0 863.6 1064.5 865.0 1064.3 866.4 1064.6 867.8 1066.0 869.2 1064.9 870.6 1066.0 872.0 1064.4 873.4 1064.1 874.8 1067.4 876.2 1063.6 877.6 1065.4 879.0 1068.6 880.4 1066.6 881.8 1066.9 884.6 1064.8 886.0 1068.2 887.4 1066.1 888.8 1066.5 890.2 1067.8 891.6 1064.7 893.0 1066.7 894.4 1059.3 895.8 1069.6 897.2 1068.9 898.6 1063.4 900.0 1067.3 901.4 1066.9 902.8 1063.5 904.2 1065.7 905.6 1064.8 907.0 1064.8 908.4 1065.6 909.8 1067.6 911.2 1064.6 912.6 1064.8 914.0 1064.4 915.4 1062.4 918.2 1070.1 919.6 1068.2 921.0 1062.6 922.4 1066.2 923.8 1063.2 925.2 1067.6 926.6 1060.4 928.0 1068.1 929.4 1060.5 930.8 1065.8 932.2 1067.4 933.6 1063.9 935.0 1067.3 936.4 1062.5 937.8 1067.2 939.2 1061.2 942.0 1064.0 943.4 1069.4 944.8 1061.3 946.2 1061.8 947.6 1068.7 950.4 1065.5 953.2 1072.3 954.6 1068.1 956.0 1068.2 957.4 1072.4 958.8 1073.1 960.2 1069.7 961.6 1071.1 963.0 1075.4 964.4 1068.0 965.8 1068.9 967.2 1076.5 968.6 1075.1 970.0 1077.8 971.4 1073.7 972.8 1073.2 974.2 1074.4 975.6 1067.7 977.0 1069.3 978.4 1074.7 981.2 1075.3 982.6 1074.4 984.0 1072.7 985.4 1068.1 986.8 1073.5 988.2 1072.4 989.6 1065.7 991.0 1073.7 992.4 1071.7 993.8 1072.8 995.2 1067.1 996.6 1068.2 998.0 1080.2 999.4 1067.8 1000.8 1068.4 1002.2 1072.5 1003.6 1060.7 1005.0 1069.3 1006.4 1070.7 1007.8 1071.4 1009.2 1070.3 1010.6 1061.7 1012.0 1068.2 1013.4 1068.9 1014.8 1057.6 1016.2 1068.1 1017.6 1064.2 1019.0 1066.4 1021.8 1064.5 1023.2 1066.8 1024.6 1065.9 1026.0 1068.1 1027.4 1065.3 1028.8 1059.8 1030.2 1069.6 1033.0 1055.9 1034.4 1065.1 1035.8 1065.1 1038.6 1072.0 1041.4 1065.0 1042.8 1073.6 1044.2 1067.8 1045.6 1069.9 1047.0 1073.8 1048.4 1069.8 1049.8 1070.2 1051.2 1079.6 1052.6 1074.3 1054.0 1076.5 1055.4 1073.6 1056.8 1074.9 1058.2 1073.2 1059.6 1077.0 1061.0 1075.8 1062.4 1076.4 1063.8 1074.6 1065.2 1089.9 1068.0 1075.0 1069.4 1071.8 1070.8 1083.0 1073.6 1076.8 1075.0 1082.6 1076.4 1076.8 1077.8 1089.1 1079.2 1081.0 1080.6 1075.7 1082.0 1073.4 1083.4 1090.5 1084.8 1079.4 1086.2 1080.7 1087.6 1084.0 1089.0 1078.5 1090.4 1076.5 1091.8 1079.5 1093.2 1084.9 1094.6 1083.7 1096.0 1079.3 1097.4 1082.0 1098.8 1092.1 1100.2 1089.8 1101.6 1082.3 1103.0 1085.8 1104.4 1084.0 1105.8 1087.0 1107.2 1096.0 1108.6 1081.9 1110.0 1087.3 1111.4 1085.4 1112.8 1086.5 1114.2 1084.5 1115.6 1079.8 1117.0 1081.3 1118.4 1073.2 1121.2 1082.6 1122.6 1089.3 1124.0 1089.6 1125.4 1084.8 1129.6 1075.8 1131.0 1085.5 1132.4 1088.5 1135.2 1078.9 1136.6 1079.1 1138.0 1094.1 1140.8 1082.7 1142.2 1090.7 1143.6 1086.0 1145.0 1075.8 1146.4 1086.8 1147.8 1086.8 1149.2 1092.9 1150.6 1080.8 1152.0 1089.7 1153.4 1089.5 1156.2 1085.5 1157.6 1085.5 1159.0 1084.6 1160.4 1086.3 1161.8 1089.5 1164.6 1081.3 1166.0 1083.0 1168.8 1083.6 1170.2 1085.5 1171.6 1076.0 1174.4 1097.6 1178.6 1076.1 1180.0 1083.9 1181.4 1083.6 1182.8 1085.6 1184.2 1079.5 1185.6 1079.6 1187.0 1089.3 1188.4 1083.5 1189.8 1092.2 1191.2 1078.5 1192.6 1074.5 1194.0 1088.4 1195.4 1079.2 1196.8 1080.3 1198.2 1090.0 1199.6 1082.8 1201.0 1090.3 1202.4 1081.3 1203.8 1086.1 1206.6 1091.8 1208.0 1090.3 1209.4 1082.9 1210.8 1083.3 1212.2 1091.5 1213.6 1092.4 1215.0 1092.0 1216.4 1076.2 1217.8 1075.2 1219.2 1086.2 1220.6 1078.5 1223.4 1086.1 1224.8 1083.7 1226.2 1086.7 1227.6 1096.8 1229.0 1078.1 1230.4 1086.4 1231.8 1080.9 1233.2 1083.1 1234.6 1078.0 1236.0 1088.6 1237.4 1083.3 1238.8 1097.2 1240.2 1092.6 1241.6 1075.3 1243.0 1090.1 1244.4 1084.0 1245.8 1083.9 1248.6 1101.6 1250.0 1077.7 1252.8 1080.0 1254.2 1089.7 1255.6 1081.6 1257.0 1092.3 1258.4 1068.9 1261.2 1092.2 1262.6 1094.7 1264.0 1077.6 1265.4 1076.1 1266.8 1082.9 1269.6 1082.9 1271.0 1080.8 1272.4 1105.3 1275.2 1080.8 1276.6 1081.5 1279.4 1090.4 1280.8 1099.0 1282.2 1096.1 1285.0 1083.4 1286.4 1094.8 1287.8 1093.6 1289.2 1079.8 1290.6 1074.4 1292.0 1085.0 1293.4 1089.2 1297.6 1079.6 1299.0 1098.3 1300.4 1085.7 1301.8 1079.2 1303.2 1078.6 1304.6 1089.8 1306.0 1078.4 1307.4 1097.8 1308.8 1075.1 1310.2 1079.5 1311.6 1073.6 1313.0 1090.4 1314.4 1074.4 1315.8 1074.7 1317.2 1090.5 1318.6 1094.3 1320.0 1081.2 1321.4 1097.0 1322.8 1093.4 1324.2 1071.2 1325.6 1091.5 1327.0 1098.5 1329.8 1079.6 1331.2 1084.7 1332.6 1080.3 1335.4 1095.8 1336.8 1089.6 1338.2 1090.2 1339.6 1103.4 1341.0 1088.3 1342.4 1098.3 1343.8 1078.8 1345.6 1065.5 1346.8 1090.4 1348.0 1061.2 1349.2 1081.3 1350.4 1077.7 1352.8 1087.2 1354.0 1088.8 1355.2 1063.9 1356.4 1113.8 1357.6 1095.1 1358.8 1119.2 1360.0 1073.1 1361.2 1107.4 1362.4 1105.0 1363.6 1111.9 1364.8 1087.6 1366.0 1112.8 1367.2 1077.8 1368.4 1140.7 1369.6 1109.4 1370.8 1110.3 1372.0 1079.3 1373.2 1127.0 1374.4 1114.2 1375.6 1134.8 1376.8 1089.7 1378.0 1105.3 1379.2 1102.2 1380.4 1136.8 1381.6 1095.2 1382.8 1149.5 1384.0 1099.3 1385.2 1113.7 1386.4 1104.2 1387.6 1083.6 1390.0 1149.5 1392.4 1079.5 1393.6 1116.0 1394.8 1134.9 1396.0 1101.7 1397.2 1132.5 1398.4 1105.9 1399.6 1121.3 1400.8 1072.5 1402.0 1065.4 1403.2 1097.8 1404.4 1098.4 1405.6 1063.7 1406.8 1112.1 1408.0 1112.3 1409.2 1139.4 1410.4 1088.0 1411.6 1122.6 1412.8 1101.8 1414.0 1147.5 1415.2 1067.8 1416.4 1146.1 1417.6 1081.8 1418.8 1085.8 1420.0 1059.6 1421.2 1145.9 1422.4 1063.4 1423.6 1147.7 1424.8 1108.2 1426.0 1100.2 1427.2 1064.9 1428.4 1103.8 1429.6 1106.2 1430.8 1074.7 1432.0 1074.5 1433.2 1113.3 1434.4 1064.6 1435.6 1113.4 1436.8 1110.6 1438.0 1111.8 1439.2 1102.9 1440.4 1144.9 1441.6 1085.5 1442.8 1144.7 1444.0 1081.7 1445.2 1073.7 1446.4 1099.2 1447.6 1110.9 1448.8 1066.7 1450.0 1085.6 1451.2 1074.3 1452.4 1144.2 1453.6 1103.3 1454.8 1093.6 1456.0 1110.6 1457.2 1113.6 1458.4 1065.2 1459.6 1065.0 1460.8 1081.6 1462.0 1146.4 1463.2 1058.8 1464.4 1095.2 1465.6 1063.6 1466.8 1095.4 1468.0 1100.2 1469.2 1146.9 1470.4 1079.7 1471.6 1138.0 1472.8 1073.5 1474.0 1149.5" fill="none" stroke="#ff00ff" stroke-width="6" stroke-linejoin="round"/>
<path d="M260.0 831.5L263.6 842.9 266.0 853.1 283.8 950.1 289.7 980.4 292.3 990.5 309.2 1029.0 319.1 1049.8 335.7 1079.9 343.5 1090.7 350.7 1098.3 360.2 1105.7 363.3 1107.2 368.5 1108.9 376.9 1110.5 383.9 1110.1 394.9 1108.1 410.1 1102.8 422.9 1099.0 440.6 1094.7 446.8 1093.7 454.5 1093.6 465.0 1094.5 480.3 1099.6 483.0 1100.0 485.7 1099.3 490.5 1096.4 494.3 1092.2 499.4 1084.7 503.9 1075.9 507.4 1067.5 517.5 1039.1 531.7 1003.3 539.7 980.2 546.1 963.9 579.5 885.3 600.0 840.8 599.2 840.2 616.0 803.2 633.7 766.7 650.9 733.1 669.4 699.3 689.3 665.5 707.0 637.8 727.1 608.3 746.8 581.9 760.0 565.0 781.0 540.7 782.4 539.6 783.8 537.4 785.2 536.7 788.0 533.9 790.8 529.8 793.6 528.1 795.0 526.3 796.4 525.5 797.8 522.4 800.6 520.6 802.0 518.8 803.4 518.3 804.8 515.5 806.2 514.6 807.6 512.5 809.0 512.2 811.8 508.1 814.6 507.6 817.4 504.3 818.8 504.7 820.2 500.5 821.6 500.2 823.0 497.6 824.4 497.6 825.8 495.0 828.6 495.2 830.0 492.9 831.4 492.2 832.8 489.0 837.0 486.3 838.4 488.4 839.8 483.7 844.0 480.1 845.4 479.9 848.2 476.5 851.0 476.1 852.4 472.8 855.2 472.7 856.6 473.7 858.0 469.2 860.8 468.6 863.6 467.0 866.4 461.1 867.8 462.7 869.2 461.9 870.6 459.2 872.0 459.8 873.4 457.0 874.8 456.7 876.2 454.5 877.6 454.1 879.0 454.9 880.4 453.1 881.8 453.1 883.2 451.9 884.6 451.6 886.0 448.6 887.4 448.5 888.8 449.4 890.2 448.4 893.0 442.8 894.4 445.3 897.2 443.5 898.6 439.8 900.0 441.6 901.4 442.2 904.2 438.8 905.6 439.7 907.0 436.6 908.4 440.7 911.2 434.4 912.6 440.2 915.4 433.1 916.8 434.5 918.2 433.0 919.6 432.9 921.0 432.1 922.4 430.4 923.8 431.8 925.2 429.6 926.6 429.5 928.0 426.6 929.4 428.9 930.8 426.5 933.6 427.6 935.0 425.2 936.4 425.3 939.2 423.7 940.6 422.0 942.0 424.3 943.4 420.5 946.2 418.4 947.6 418.6 949.0 420.5 950.4 418.2 951.8 418.2 954.6 408.1 956.0 414.7 957.4 411.6 960.2 415.0 961.6 412.4 963.0 407.9 964.4 409.5 965.8 406.8 967.2 411.7 970.0 405.7 971.4 405.4 972.8 404.2 974.2 409.3 975.6 399.3 977.0 403.8 978.4 400.5 979.8 404.7 981.2 405.5 982.6 399.4 984.0 397.3 985.4 398.3 986.8 402.9 988.2 394.6 989.6 400.4 991.0 403.1 992.4 398.1 993.8 399.0 995.2 395.9 996.6 397.2 998.0 394.2 999.4 397.3 1000.8 394.0 1002.2 396.0 1003.6 404.1 1005.0 396.9 1006.4 397.7 1009.2 394.7 1010.6 392.2 1012.0 395.1 1013.4 392.5 1014.8 397.2 1016.2 394.0 1017.6 388.8 1019.0 394.4 1021.8 389.9 1023.2 392.8 1024.6 392.6 1026.0 389.7 1028.8 398.7 1033.0 386.4 1034.4 385.8 1035.8 382.0 1037.2 384.8 1038.6 384.0 1041.4 386.3 1042.8 384.8 1044.2 391.3 1045.6 385.3 1047.0 392.9 1048.4 380.1 1049.8 377.5 1052.6 385.0 1055.4 377.2 1056.8 376.4 1058.2 379.1 1059.6 383.8 1061.0 378.3 1062.4 377.3 1065.2 372.9 1066.6 375.1 1068.0 373.5 1069.4 374.1 1070.8 370.2 1072.2 371.9 1073.6 367.8 1075.0 366.2 1076.4 376.6 1077.8 370.5 1079.2 368.3 1080.6 369.0 1082.0 364.5 1083.4 370.4 1084.8 372.0 1086.2 362.5 1087.6 370.0 1089.0 370.4 1091.8 354.4 1093.2 361.7 1094.6 354.2 1096.0 364.0 1097.4 355.2 1098.8 359.7 1100.2 359.9 1103.0 349.9 1104.4 362.0 1105.8 351.8 1107.2 349.8 1108.6 354.9 1110.0 353.0 1111.4 346.5 1112.8 350.4 1114.2 352.5 1115.6 351.1 1117.0 354.0 1118.4 347.8 1121.2 358.2 1122.6 356.7 1124.0 347.2 1125.4 352.4 1126.8 350.4 1128.2 340.6 1132.4 351.6 1133.8 344.1 1135.2 345.1 1136.6 334.9 1138.0 345.3 1139.4 341.4 1140.8 344.6 1142.2 344.4 1143.6 340.1 1145.0 355.8 1146.4 339.7 1147.8 355.4 1150.6 334.1 1152.0 343.1 1153.4 341.4 1154.8 341.1 1156.2 337.6 1157.6 351.2 1159.0 333.5 1160.4 334.8 1161.8 337.7 1163.2 351.1 1166.0 337.0 1167.4 334.1 1168.8 350.8 1171.6 337.1 1174.4 347.0 1175.8 326.7 1177.2 336.0 1178.6 336.7 1180.0 341.5 1181.4 333.6 1182.8 341.4 1184.2 334.2 1185.6 340.9 1187.0 327.8 1188.4 350.6 1189.8 332.8 1192.6 324.8 1194.0 337.7 1195.4 338.5 1196.8 335.2 1198.2 325.2 1201.0 345.3 1202.4 322.1 1203.8 332.5 1205.2 333.9 1206.6 344.5 1208.0 327.3 1209.4 340.7 1210.8 341.6 1212.2 332.6 1213.6 333.4 1215.0 341.2 1216.4 325.0 1219.2 335.1 1220.6 324.4 1222.0 333.6 1223.4 329.2 1224.8 333.9 1226.2 329.7 1227.6 329.6 1229.0 341.5 1230.4 327.1 1231.8 327.0 1233.2 335.5 1234.6 329.1 1236.0 327.6 1237.4 342.2 1238.8 330.4 1241.6 324.3 1243.0 324.8 1244.4 326.7 1247.2 338.2 1248.6 328.9 1251.4 320.6 1252.8 327.5 1254.2 325.7 1255.6 332.4 1257.0 326.9 1258.4 329.7 1259.8 329.0 1261.2 329.5 1262.6 327.3 1264.0 337.5 1265.4 320.0 1266.8 328.8 1269.6 320.2 1271.0 322.0 1272.4 330.5 1273.8 317.3 1275.2 317.0 1276.6 320.1 1278.0 321.0 1279.4 315.1 1280.8 328.2 1283.6 314.4 1286.4 330.8 1287.8 328.0 1289.2 323.4 1290.6 323.6 1292.0 329.1 1293.4 310.8 1294.8 331.5 1296.2 314.1 1297.6 321.3 1299.0 317.1 1300.4 325.8 1301.8 318.1 1303.2 318.4 1304.6 320.5 1306.0 315.4 1307.4 316.1 1308.8 313.7 1310.2 318.7 1311.6 317.7 1313.0 309.1 1314.4 315.0 1315.8 332.4 1317.2 318.1 1318.6 311.2 1320.0 308.8 1321.4 312.1 1322.8 317.5 1324.2 296.9 1325.6 311.3 1327.0 308.9 1328.4 319.4 1329.8 309.7 1331.2 316.9 1332.6 298.5 1334.0 302.9 1335.4 313.9 1336.8 304.1 1338.2 310.4 1339.6 309.0 1341.0 300.8 1342.4 303.8 1343.8 311.0 1345.2 306.4 1346.6 296.0 1348.0 298.6 1349.4 298.9 1350.8 300.6 1352.0 296.1 1353.2 294.7 1355.6 324.9 1356.8 288.4 1358.0 290.0 1359.2 285.9 1360.4 285.2 1361.6 305.8 1362.8 311.0 1364.0 288.9 1366.4 291.0 1367.6 303.9 1368.8 307.3 1370.0 320.3 1371.2 289.7 1372.4 307.3 1373.6 306.6 1374.8 331.3 1376.0 293.2 1377.2 311.0 1378.4 312.7 1379.6 316.1 1380.8 312.7 1382.0 336.3 1383.2 297.5 1384.4 323.6 1385.6 271.5 1386.8 307.1 1388.0 293.9 1389.2 318.3 1390.4 268.5 1391.6 267.5 1392.8 268.7 1394.0 248.3 1395.2 244.8 1396.4 304.1 1397.6 283.5 1398.8 288.3 1400.0 264.4 1401.2 281.0 1402.4 270.2 1403.6 248.3 1404.8 269.7 1406.0 312.4 1407.2 285.2 1408.4 309.8 1410.8 248.8 1412.0 254.9 1413.2 277.2 1414.4 274.3 1415.6 291.8 1416.8 275.4 1418.0 312.0 1419.2 253.0 1420.4 281.3 1421.6 260.8 1422.8 281.9 1424.0 244.6 1425.2 279.8 1426.4 228.8 1427.6 303.9 1428.8 282.1 1430.0 283.9 1431.2 265.6 1432.4 287.6 1433.6 227.9 1434.8 277.2 1436.0 269.2 1438.4 274.0 1439.6 285.4 1440.8 246.9 1442.0 303.2 1443.2 262.3 1444.4 271.8 1445.6 239.6 1446.8 276.5 1448.0 274.4 1449.2 280.3 1450.4 232.5 1451.6 330.8 1452.8 255.1 1454.0 297.7 1455.2 264.6 1456.4 278.9 1460.0 256.7 1461.2 271.5 1462.4 272.8 1463.6 307.7 1464.8 241.1 1466.0 265.4 1467.2 280.0 1468.4 273.9 1469.6 245.1 1470.8 324.1 1472.0 248.7 1473.2 295.2 1474.4 276.9" fill="none" stroke="#ff00ff" stroke-width="6" stroke-linejoin="round"/>
<path d="M1426.5 1060L1428.5 1009L1431.5 1009L1433.5 1060Z" fill="#ff00ff" stroke="#ff00ff" stroke-width="2"/>
<path d="M1424.5 300L1426.5 370L1429.5 370L1431.5 300Z" fill="#ff00ff" stroke="#ff00ff" stroke-width="2"/>
<path d="M260.0 1154.5L271.1 1153.8 274.9 1151.6 277.1 1149.1 279.4 1144.6 281.6 1138.0 284.7 1125.0 286.7 1114.0 288.8 1093.1 291.8 1047.7 298.6 964.7 303.0 886.4 306.2 811.6 308.9 772.5 311.9 745.4 317.5 713.0 320.9 698.0 326.1 681.3 332.6 665.0 335.5 659.3 338.6 654.7 342.3 650.5 347.0 646.3 353.3 641.8 358.2 639.0 367.4 636.0 375.8 634.6 398.9 634.5 417.1 635.5 424.8 634.8 431.6 633.4 436.3 631.5 441.2 628.4 444.7 624.7 447.5 619.9 456.6 600.5 461.4 586.7 473.4 537.7 487.7 473.5 490.9 462.0 498.3 442.7 500.6 439.7 504.7 437.0 506.6 437.2 508.5 438.2 513.5 442.3 517.4 446.9 522.0 454.2 531.3 470.9 606.4 618.8 638.0 678.1 655.2 708.5 671.4 735.6 688.1 761.5 703.6 783.9 721.3 807.3 741.0 831.1 760.0 852.3 762.8 854.6 768.4 860.9 769.8 861.7 779.6 871.5 781.0 872.3 782.4 874.5 783.8 875.3 788.0 879.8 789.4 880.2 790.8 881.4 793.6 884.7 795.0 885.3 797.8 888.5 799.2 888.1 800.6 890.0 802.0 891.1 803.4 891.4 806.2 893.8 807.6 895.7 809.0 896.1 811.8 899.5 813.2 898.8 814.6 901.3 817.4 902.9 818.8 904.6 821.6 905.5 824.4 908.7 827.2 909.9 828.6 913.6 831.4 914.9 832.8 915.1 834.2 914.5 837.0 918.5 838.4 918.7 839.8 919.6 842.6 923.8 844.0 923.3 846.8 924.4 848.2 927.3 849.6 927.3 853.8 929.4 856.6 933.7 858.0 932.9 859.4 934.2 860.8 933.9 862.2 935.9 863.6 935.1 865.0 938.9 866.4 937.8 867.8 939.8 869.2 940.3 870.6 942.6 872.0 942.6 873.4 943.5 874.8 942.1 880.4 946.2 881.8 949.0 883.2 948.8 884.6 949.7 886.0 949.5 888.8 950.7 890.2 954.3 891.6 954.0 893.0 955.6 894.4 955.8 895.8 955.3 897.2 957.1 898.6 955.4 900.0 959.7 901.4 959.7 904.2 961.3 905.6 962.8 907.0 962.4 908.4 963.6 909.8 963.4 914.0 967.8 916.8 966.2 918.2 966.3 919.6 969.3 921.0 969.4 923.8 974.2 925.2 971.5 926.6 975.2 928.0 975.9 929.4 973.4 932.2 977.3 933.6 975.8 935.0 976.2 936.4 979.6 937.8 978.2 939.2 978.9 940.6 981.6 942.0 981.5 943.4 982.4 944.8 985.0 946.2 985.5 947.6 981.4 949.0 986.3 950.4 985.6 953.2 988.3 954.6 990.6 957.4 988.7 958.8 990.3 960.2 987.6 961.6 991.8 963.0 991.8 964.4 990.0 967.2 991.0 968.6 992.5 970.0 995.6 972.8 994.5 974.2 995.9 975.6 999.3 977.0 997.0 978.4 996.7 979.8 1002.9 981.2 997.8 982.6 1000.9 984.0 1002.3 985.4 1001.5 986.8 1001.3 988.2 1004.8 989.6 1003.2 991.0 1004.7 992.4 1004.0 993.8 1007.9 995.2 1003.4 996.6 1003.2 999.4 1006.6 1000.8 1006.9 1002.2 1008.2 1003.6 1007.2 1005.0 1010.0 1006.4 1006.6 1007.8 1007.5 1009.2 1010.1 1010.6 1009.7 1014.8 1011.2 1016.2 1013.9 1019.0 1017.1 1021.8 1013.8 1023.2 1013.4 1024.6 1013.9 1026.0 1013.3 1027.4 1018.7 1028.8 1021.8 1030.2 1018.1 1031.6 1019.4 1033.0 1014.2 1034.4 1019.6 1035.8 1018.8 1037.2 1020.9 1038.6 1019.3 1041.4 1020.0 1042.8 1021.0 1044.2 1028.0 1045.6 1025.2 1047.0 1020.4 1048.4 1023.9 1049.8 1024.0 1051.2 1030.5 1052.6 1021.3 1054.0 1027.9 1055.4 1028.8 1056.8 1032.6 1058.2 1032.0 1061.0 1024.3 1065.2 1029.1 1068.0 1026.9 1069.4 1032.6 1072.2 1030.7 1075.0 1030.8 1076.4 1030.1 1077.8 1040.4 1079.2 1032.8 1080.6 1032.5 1082.0 1038.8 1083.4 1033.9 1084.8 1036.2 1086.2 1032.8 1087.6 1035.0 1089.0 1031.2 1091.8 1043.3 1093.2 1038.4 1094.6 1039.1 1096.0 1041.9 1097.4 1042.3 1098.8 1036.6 1101.6 1038.7 1103.0 1043.7 1104.4 1036.5 1105.8 1038.5 1110.0 1041.2 1111.4 1039.5 1112.8 1044.6 1114.2 1038.6 1115.6 1047.5 1117.0 1041.8 1118.4 1043.5 1119.8 1037.6 1121.2 1042.7 1122.6 1037.9 1124.0 1037.3 1125.4 1044.5 1129.6 1035.8 1131.0 1044.7 1132.4 1042.6 1133.8 1045.2 1136.6 1046.5 1138.0 1035.5 1139.4 1032.4 1140.8 1045.2 1142.2 1037.0 1143.6 1047.1 1145.0 1044.9 1146.4 1043.7 1147.8 1043.7 1149.2 1038.8 1150.6 1044.0 1152.0 1043.9 1153.4 1046.0 1154.8 1051.5 1156.2 1043.2 1159.0 1051.5 1160.4 1043.0 1161.8 1042.7 1163.2 1043.1 1166.0 1040.3 1167.4 1048.4 1168.8 1051.6 1171.6 1044.8 1173.0 1044.7 1174.4 1047.9 1175.8 1044.5 1177.2 1046.7 1178.6 1045.5 1180.0 1050.7 1182.8 1048.3 1184.2 1043.9 1185.6 1046.2 1188.4 1054.7 1189.8 1046.4 1191.2 1057.8 1192.6 1047.0 1194.0 1047.1 1195.4 1049.8 1196.8 1046.2 1198.2 1048.8 1199.6 1049.2 1201.0 1047.3 1202.4 1048.1 1206.6 1058.2 1209.4 1044.8 1210.8 1048.8 1212.2 1044.6 1213.6 1051.2 1215.0 1048.5 1216.4 1052.5 1217.8 1050.5 1219.2 1051.6 1220.6 1050.3 1222.0 1057.9 1223.4 1045.1 1224.8 1056.6 1226.2 1057.0 1229.0 1054.0 1230.4 1054.8 1233.2 1049.3 1234.6 1056.8 1236.0 1056.8 1237.4 1057.7 1238.8 1053.7 1240.2 1058.6 1241.6 1057.1 1243.0 1062.2 1245.8 1046.6 1248.6 1056.9 1250.0 1049.9 1251.4 1058.5 1252.8 1052.8 1254.2 1056.5 1255.6 1057.3 1257.0 1052.7 1258.4 1058.0 1259.8 1061.3 1261.2 1054.4 1262.6 1055.4 1264.0 1054.4 1265.4 1059.6 1266.8 1061.2 1268.2 1054.5 1269.6 1055.6 1271.0 1060.9 1272.4 1057.8 1273.8 1064.8 1275.2 1057.5 1278.0 1052.8 1279.4 1055.3 1280.8 1050.8 1283.6 1065.5 1285.0 1051.8 1287.8 1053.7 1289.2 1057.9 1290.6 1054.7 1292.0 1062.5 1293.4 1063.5 1294.8 1056.2 1296.2 1058.2 1297.6 1056.2 1300.4 1067.4 1301.8 1055.4 1303.2 1057.8 1304.6 1055.1 1306.0 1062.1 1307.4 1062.2 1308.8 1056.8 1310.2 1059.4 1311.6 1070.3 1313.0 1069.7 1314.4 1056.9 1315.8 1061.0 1317.2 1059.3 1318.6 1063.1 1320.0 1056.3 1321.4 1063.9 1322.8 1066.1 1324.2 1067.2 1325.6 1055.2 1327.0 1070.2 1328.4 1057.9 1329.8 1055.8 1331.2 1067.5 1332.6 1066.4 1334.0 1062.3 1335.4 1066.8 1338.2 1064.4 1339.6 1058.1 1341.0 1061.5 1342.4 1063.2 1343.8 1068.7 1345.0 1047.9 1346.2 1064.4 1347.4 1045.4 1348.6 1058.7 1349.8 1047.4 1351.0 1068.7 1352.2 1066.8 1353.4 1083.2 1354.6 1057.9 1355.8 1069.0 1357.0 1040.7 1358.2 1071.1 1359.4 1051.1 1360.6 1080.7 1361.8 1047.3 1363.0 1081.3 1364.2 1069.3 1365.4 1063.2 1366.6 1066.8 1367.8 1103.1 1369.0 1086.7 1370.2 1087.0 1371.4 1075.8 1372.6 1079.6 1375.0 1113.7 1376.2 1081.3 1377.4 1066.3 1378.6 1076.2 1379.8 1059.7 1381.0 1062.9 1382.2 1098.5 1383.4 1076.3 1384.6 1113.2 1385.8 1084.1 1387.0 1100.2 1388.2 1070.2 1389.4 1070.9 1390.6 1059.3 1391.8 1090.4 1393.0 1053.6 1394.2 1071.5 1395.4 1053.2 1396.6 1079.8 1397.8 1067.7 1399.0 1069.4 1400.2 1041.0 1401.4 1076.5 1402.6 1064.1 1403.8 1063.8 1405.0 1053.4 1406.2 1074.2 1408.6 1053.7 1409.8 1035.7 1411.0 1066.6 1412.2 1043.0 1413.4 1107.7 1414.6 1031.4 1415.8 1032.5 1417.0 1050.1 1418.2 1043.9 1420.6 1085.7 1421.8 1048.9 1423.0 1058.7 1424.2 1035.4 1425.4 1055.5 1426.6 1029.2 1427.8 1028.3 1429.0 1040.6 1430.2 1064.2 1431.4 1051.8 1432.6 1022.7 1435.0 1083.8 1436.2 1048.2 1437.4 1081.7 1438.6 1008.0 1439.8 1052.0 1441.0 1043.5 1442.2 1010.0 1443.4 1021.3 1444.6 1086.2 1445.8 1060.8 1447.0 1096.3 1448.2 1054.3 1449.4 1076.5 1450.6 1055.5 1451.8 1077.1 1453.0 1071.0 1454.2 1071.3 1455.4 1065.7 1456.6 1080.2 1457.8 1040.5 1459.0 1098.3 1460.2 1074.3 1461.4 1075.9 1462.6 1074.6 1463.8 1086.6 1465.0 1039.8 1466.2 1108.1 1467.4 1063.9 1468.6 1080.3 1469.8 1058.7 1471.0 1059.6 1473.4 1020.9" fill="none" stroke="#008000" stroke-width="6" stroke-linejoin="round"/>
<path d="M260.0 486.0L262.3 472.2 266.5 438.9 272.4 408.6 275.1 399.8 277.3 395.4 280.7 392.7 281.7 392.5 282.7 393.5 284.3 398.1 286.6 409.4 290.3 440.8 295.0 497.3 299.4 559.4 305.0 615.1 314.6 683.8 317.6 700.9 319.6 708.4 322.2 712.5 327.4 717.7 333.9 722.1 339.1 724.4 397.8 727.1 406.8 728.6 418.2 731.9 427.1 736.1 439.2 743.4 445.2 748.2 450.2 753.9 456.2 763.4 460.8 773.7 464.8 785.6 471.5 809.9 479.0 843.4 484.9 880.7 490.0 907.5 495.1 929.4 500.3 946.1 508.2 964.8 512.2 972.2 516.5 978.6 520.9 984.1 525.4 988.5 529.9 991.7 536.1 995.1 546.5 999.2 586.9 1013.0 665.1 1032.0 703.0 1038.7 739.2 1042.9 760.0 1045.7 761.4 1046.3 764.2 1046.1 765.6 1047.0 767.0 1046.8 771.2 1048.2 772.6 1047.7 774.0 1048.9 775.4 1048.7 776.8 1049.6 781.0 1049.3 782.4 1050.7 786.6 1050.5 790.8 1051.4 792.2 1051.1 795.0 1052.2 797.8 1052.2 800.6 1053.8 802.0 1053.5 806.2 1053.7 809.0 1054.4 810.4 1053.7 811.8 1053.5 814.6 1054.2 816.0 1055.3 817.4 1055.7 820.2 1054.4 823.0 1054.1 825.8 1056.4 827.2 1055.4 832.8 1057.0 834.2 1056.3 837.0 1056.8 838.4 1058.4 839.8 1057.3 841.2 1058.4 842.6 1057.4 844.0 1058.7 846.8 1056.9 848.2 1056.5 849.6 1059.2 851.0 1057.4 852.4 1058.3 853.8 1056.9 855.2 1058.8 856.6 1057.7 858.0 1060.5 859.4 1057.9 862.2 1061.8 865.0 1059.9 866.4 1057.7 867.8 1060.8 869.2 1061.3 870.6 1058.9 872.0 1059.5 874.8 1058.5 876.2 1059.7 877.6 1060.3 879.0 1060.2 880.4 1061.4 883.2 1060.3 884.6 1061.9 886.0 1058.9 887.4 1060.1 890.2 1061.5 891.6 1058.8 893.0 1062.1 894.4 1058.5 895.8 1059.4 897.2 1062.4 898.6 1057.6 901.4 1062.9 904.2 1060.9 905.6 1060.4 907.0 1061.4 908.4 1058.0 909.8 1063.0 911.2 1059.8 912.6 1059.4 914.0 1062.1 916.8 1060.7 918.2 1060.8 919.6 1060.0 921.0 1057.4 922.4 1056.3 923.8 1061.0 925.2 1060.4 926.6 1059.1 928.0 1061.6 929.4 1057.7 930.8 1057.2 932.2 1059.3 933.6 1056.0 935.0 1055.6 936.4 1056.8 937.8 1055.4 940.6 1058.0 942.0 1055.0 944.8 1058.6 946.2 1057.2 949.0 1062.4 950.4 1059.8 953.2 1068.1 954.6 1063.4 956.0 1061.1 958.8 1063.4 960.2 1066.9 963.0 1064.1 964.4 1060.3 967.2 1069.3 968.6 1061.9 970.0 1065.6 972.8 1067.0 974.2 1066.8 977.0 1068.2 978.4 1066.2 979.8 1066.2 981.2 1064.0 982.6 1063.9 984.0 1061.9 985.4 1066.1 986.8 1056.8 988.2 1065.1 989.6 1058.6 991.0 1063.2 992.4 1060.7 993.8 1068.8 995.2 1062.4 996.6 1060.1 998.0 1064.4 999.4 1062.6 1000.8 1058.3 1002.2 1060.0 1003.6 1063.5 1005.0 1053.5 1007.8 1058.4 1009.2 1062.8 1010.6 1054.5 1012.0 1056.8 1013.4 1056.1 1014.8 1059.8 1017.6 1056.1 1020.4 1050.3 1021.8 1056.7 1023.2 1059.3 1024.6 1053.3 1026.0 1051.3 1027.4 1056.8 1028.8 1048.3 1030.2 1046.0 1031.6 1054.1 1033.0 1053.7 1034.4 1056.0 1035.8 1051.3 1037.2 1054.2 1038.6 1054.6 1040.0 1058.4 1041.4 1057.6 1044.2 1059.7 1045.6 1059.7 1047.0 1057.7 1048.4 1062.8 1051.2 1063.1 1052.6 1059.9 1054.0 1062.3 1055.4 1063.6 1056.8 1056.6 1058.2 1066.1 1061.0 1059.3 1062.4 1068.6 1063.8 1061.8 1065.2 1065.4 1066.6 1064.6 1068.0 1060.8 1069.4 1064.0 1070.8 1074.1 1072.2 1072.6 1073.6 1064.6 1075.0 1070.5 1076.4 1067.2 1077.8 1071.9 1079.2 1063.9 1080.6 1065.0 1082.0 1069.6 1083.4 1068.6 1084.8 1072.5 1086.2 1073.0 1087.6 1071.4 1089.0 1068.7 1090.4 1071.1 1091.8 1069.1 1093.2 1064.8 1094.6 1074.1 1096.0 1065.0 1097.4 1066.4 1098.8 1071.7 1100.2 1074.2 1101.6 1071.9 1103.0 1067.8 1104.4 1078.7 1105.8 1066.9 1107.2 1076.8 1108.6 1066.9 1110.0 1071.8 1111.4 1073.2 1112.8 1072.3 1114.2 1069.9 1115.6 1073.1 1117.0 1072.4 1118.4 1067.3 1119.8 1076.6 1121.2 1071.7 1122.6 1072.2 1124.0 1067.6 1125.4 1073.2 1126.8 1076.5 1128.2 1073.1 1129.6 1072.1 1131.0 1073.6 1132.4 1069.9 1133.8 1073.2 1135.2 1068.6 1136.6 1075.4 1138.0 1075.1 1139.4 1073.9 1140.8 1074.0 1142.2 1073.2 1143.6 1068.3 1145.0 1068.9 1146.4 1073.0 1147.8 1069.1 1150.6 1068.4 1152.0 1073.9 1153.4 1072.7 1154.8 1074.6 1156.2 1078.1 1159.0 1069.8 1160.4 1073.1 1163.2 1077.1 1164.6 1071.9 1166.0 1074.8 1167.4 1068.4 1168.8 1069.1 1170.2 1067.1 1171.6 1074.0 1173.0 1067.6 1174.4 1071.2 1175.8 1072.8 1177.2 1067.6 1178.6 1066.1 1180.0 1076.3 1181.4 1074.7 1182.8 1076.3 1184.2 1073.3 1185.6 1077.9 1187.0 1074.4 1188.4 1067.0 1189.8 1074.7 1191.2 1073.4 1192.6 1067.6 1194.0 1069.2 1195.4 1073.7 1196.8 1063.4 1198.2 1072.2 1199.6 1065.3 1201.0 1074.9 1202.4 1075.3 1203.8 1066.2 1205.2 1067.2 1206.6 1069.6 1208.0 1070.6 1209.4 1067.9 1210.8 1075.4 1212.2 1071.7 1213.6 1065.5 1215.0 1072.8 1216.4 1068.4 1219.2 1076.6 1220.6 1067.7 1222.0 1072.5 1223.4 1070.1 1224.8 1071.9 1226.2 1078.3 1227.6 1078.4 1229.0 1063.4 1230.4 1079.7 1231.8 1078.2 1233.2 1069.2 1234.6 1076.8 1236.0 1070.6 1237.4 1074.8 1238.8 1063.5 1240.2 1077.8 1241.6 1064.1 1243.0 1064.1 1244.4 1073.6 1245.8 1077.6 1247.2 1072.0 1248.6 1076.8 1250.0 1079.1 1251.4 1074.5 1252.8 1080.5 1254.2 1079.0 1255.6 1070.8 1257.0 1068.2 1259.8 1072.7 1261.2 1081.5 1262.6 1082.8 1264.0 1065.8 1265.4 1084.1 1266.8 1062.8 1269.6 1067.6 1271.0 1080.9 1272.4 1068.5 1273.8 1076.8 1275.2 1075.0 1276.6 1071.6 1278.0 1075.5 1279.4 1070.6 1280.8 1075.3 1282.2 1072.7 1283.6 1090.7 1285.0 1066.9 1286.4 1076.8 1287.8 1071.5 1289.2 1083.3 1290.6 1080.7 1292.0 1075.1 1293.4 1079.9 1294.8 1069.2 1296.2 1072.6 1297.6 1080.6 1299.0 1068.5 1300.4 1079.1 1301.8 1079.5 1303.2 1078.6 1304.6 1075.9 1306.0 1075.6 1307.4 1067.2 1308.8 1075.2 1310.2 1063.4 1311.6 1066.8 1313.0 1074.8 1314.4 1077.9 1315.8 1067.4 1317.2 1078.7 1320.0 1066.9 1321.4 1075.6 1322.8 1076.4 1324.2 1072.2 1325.6 1073.8 1327.0 1085.3 1328.4 1070.2 1329.8 1067.2 1332.6 1076.0 1334.0 1073.4 1335.4 1079.1 1336.8 1075.8 1338.2 1076.0 1339.6 1069.2 1341.0 1081.1 1342.4 1066.5 1343.8 1082.1 1346.8 1034.6 1348.0 1061.0 1349.2 1061.4 1350.4 1049.2 1351.6 1063.3 1352.8 1043.3 1354.0 1073.0 1355.2 1055.9 1356.4 1077.0 1357.6 1067.8 1358.8 1096.3 1360.0 1081.4 1361.2 1099.4 1362.4 1074.1 1363.6 1109.9 1364.8 1080.2 1366.0 1077.7 1367.2 1048.4 1368.4 1089.0 1369.6 1067.8 1370.8 1094.9 1372.0 1066.7 1373.2 1088.8 1374.4 1052.7 1375.6 1084.8 1376.8 1069.1 1378.0 1086.3 1379.2 1072.7 1380.4 1091.1 1381.6 1068.5 1382.8 1093.7 1384.0 1054.1 1385.2 1114.1 1386.4 1069.9 1387.6 1115.4 1388.8 1065.4 1390.0 1047.3 1392.4 1065.2 1393.6 1023.3 1394.8 1104.4 1396.0 1022.4 1397.2 1076.5 1398.4 1072.1 1399.6 1075.5 1400.8 1055.9 1402.0 1109.4 1403.2 1052.1 1404.4 1089.2 1405.6 1058.5 1406.8 1092.4 1408.0 1059.1 1409.2 1104.1 1410.4 1062.9 1411.6 1082.0 1412.8 1054.2 1414.0 1078.7 1415.2 1079.5 1416.4 1084.2 1417.6 1071.1 1418.8 1096.8 1420.0 1053.0 1421.2 1079.5 1422.4 1051.4 1423.6 1104.0 1424.8 1054.4 1426.0 1109.8 1427.2 1038.6 1428.4 1071.1 1429.6 1048.2 1430.8 1108.8 1432.0 1029.6 1433.2 1015.4 1434.4 1021.2 1435.6 1087.0 1436.8 1060.1 1438.0 1106.0 1439.2 1037.9 1440.4 1103.9 1442.8 1045.4 1444.0 1050.0 1445.2 1066.6 1446.4 1061.2 1447.6 1076.6 1448.8 1064.4 1450.0 1060.4 1451.2 1062.3 1452.4 1067.5 1453.6 1069.6 1454.8 1082.8 1456.0 1038.3 1457.2 1059.1 1458.4 1023.9 1459.6 1040.3 1460.8 1030.0 1462.0 1089.2 1463.2 1015.0 1464.4 1080.0 1465.6 1013.8 1466.8 1049.3 1468.0 1025.9 1469.2 1073.2 1470.4 1038.7 1471.6 1080.1 1472.8 1067.3 1474.0 1064.5" fill="none" stroke="#008000" stroke-width="6" stroke-linejoin="round"/>
<path d="M260.0 835.5L263.6 846.9 266.0 857.1 283.8 954.1 289.7 984.4 292.3 994.5 309.2 1033.0 319.1 1053.8 336.1 1084.5 343.9 1095.2 350.7 1102.3 360.2 1109.7 363.3 1111.2 368.5 1112.9 376.9 1114.5 383.9 1114.1 394.9 1112.1 410.1 1106.8 422.9 1103.0 440.6 1098.7 446.8 1097.7 454.5 1097.6 465.0 1098.5 481.0 1103.8 483.7 1103.9 486.4 1103.0 490.5 1100.4 494.3 1096.2 499.4 1088.7 503.9 1079.9 507.4 1071.5 517.5 1043.1 531.9 1006.7 544.3 972.5 555.4 945.3 580.6 886.8 615.5 809.9 631.9 775.4 652.3 734.9 673.2 696.2 694.7 659.6 713.0 631.2 733.9 601.4 760.0 567.6 760.0 567.1 772.6 552.5 775.4 550.0 778.2 546.0 786.6 537.4 788.0 535.3 789.4 534.5 790.8 532.1 795.0 528.8 796.4 526.0 799.2 523.9 800.6 521.9 802.0 522.2 803.4 519.0 804.8 517.3 806.2 517.7 807.6 515.1 810.4 513.1 811.8 510.6 814.6 508.5 816.0 507.9 817.4 506.6 818.8 504.1 821.6 501.7 823.0 501.4 824.4 498.8 825.8 498.8 827.2 497.4 828.6 496.8 831.4 493.8 834.2 489.2 835.6 490.4 839.8 485.4 841.2 485.2 846.8 479.2 849.6 478.0 852.4 474.7 853.8 473.7 858.0 472.0 859.4 470.5 860.8 469.8 862.2 470.1 863.6 468.7 866.4 463.9 869.2 462.4 872.0 458.9 873.4 460.7 874.8 458.5 877.6 456.5 879.0 456.2 880.4 454.7 881.8 455.0 883.2 451.3 884.6 451.4 886.0 452.9 887.4 451.3 888.8 451.5 890.2 448.2 891.6 450.4 893.0 448.1 894.4 448.8 895.8 446.3 897.2 446.3 898.6 443.3 900.0 443.9 901.4 443.9 902.8 442.5 907.0 442.8 908.4 440.3 909.8 441.6 914.0 439.5 915.4 437.5 916.8 439.1 918.2 435.5 919.6 435.8 921.0 437.3 922.4 436.8 923.8 433.3 925.2 436.3 926.6 434.1 928.0 435.9 929.4 432.5 930.8 432.6 933.6 431.5 935.0 433.2 936.4 432.5 937.8 430.1 939.2 429.8 940.6 430.4 942.0 428.8 944.8 427.9 946.2 426.9 947.6 421.6 949.0 422.1 950.4 426.9 953.2 423.2 954.6 423.9 956.0 417.5 958.8 421.9 960.2 419.4 961.6 420.4 963.0 415.8 964.4 415.6 965.8 418.5 967.2 414.9 968.6 418.9 970.0 418.7 971.4 411.4 974.2 414.7 975.6 415.3 977.0 407.2 979.8 415.3 982.6 409.1 984.0 415.8 988.2 408.5 989.6 411.4 991.0 408.3 992.4 411.2 993.8 406.3 995.2 408.8 996.6 412.9 998.0 406.9 999.4 411.5 1002.2 405.0 1003.6 410.4 1005.0 403.0 1006.4 406.5 1007.8 403.0 1009.2 410.7 1012.0 406.1 1013.4 412.4 1014.8 404.2 1016.2 408.4 1017.6 406.2 1019.0 408.1 1020.4 406.2 1021.8 408.5 1023.2 401.9 1024.6 405.4 1027.4 401.2 1028.8 404.3 1030.2 405.0 1031.6 399.8 1033.0 404.3 1034.4 397.1 1035.8 401.0 1037.2 401.5 1038.6 402.8 1040.0 398.7 1042.8 396.1 1045.6 396.5 1047.0 402.0 1048.4 389.7 1049.8 399.8 1051.2 396.0 1052.6 395.0 1054.0 392.7 1055.4 394.1 1056.8 389.6 1058.2 393.0 1059.6 392.9 1061.0 389.4 1062.4 390.3 1063.8 390.0 1065.2 386.7 1066.6 392.7 1069.4 380.1 1070.8 388.6 1072.2 380.2 1073.6 376.2 1077.8 382.0 1079.2 380.7 1080.6 375.9 1082.0 381.2 1084.8 378.4 1086.2 378.2 1087.6 377.3 1089.0 378.7 1090.4 379.0 1091.8 374.7 1093.2 373.5 1094.6 367.7 1096.0 372.8 1097.4 373.0 1098.8 372.4 1100.2 363.7 1101.6 374.1 1103.0 364.3 1104.4 365.3 1105.8 375.7 1107.2 360.2 1108.6 367.0 1110.0 366.2 1111.4 372.0 1112.8 373.9 1114.2 360.3 1117.0 363.9 1118.4 360.4 1119.8 368.4 1121.2 366.5 1122.6 353.9 1124.0 357.2 1125.4 364.5 1128.2 357.7 1129.6 349.1 1131.0 358.1 1132.4 350.6 1136.6 361.7 1138.0 354.4 1140.8 359.7 1142.2 358.4 1143.6 363.4 1145.0 354.7 1146.4 356.7 1147.8 351.3 1149.2 353.3 1150.6 353.9 1152.0 356.6 1153.4 356.3 1154.8 362.9 1156.2 356.6 1157.6 358.8 1159.0 357.3 1161.8 343.7 1163.2 358.8 1166.0 353.9 1167.4 353.9 1168.8 346.4 1170.2 366.1 1171.6 342.3 1173.0 355.9 1174.4 350.8 1175.8 348.7 1177.2 354.3 1178.6 353.2 1181.4 355.8 1182.8 346.1 1184.2 345.2 1185.6 353.6 1187.0 346.3 1189.8 354.5 1191.2 352.1 1192.6 340.9 1194.0 353.3 1195.4 352.1 1198.2 346.8 1199.6 347.1 1201.0 351.3 1203.8 344.9 1205.2 345.9 1206.6 359.1 1208.0 342.1 1209.4 348.2 1210.8 351.3 1212.2 351.6 1215.0 337.0 1216.4 345.8 1217.8 350.6 1219.2 331.4 1220.6 343.9 1222.0 343.6 1223.4 348.0 1224.8 342.3 1226.2 338.8 1227.6 345.2 1229.0 336.0 1230.4 339.7 1231.8 337.9 1233.2 346.3 1234.6 345.6 1236.0 346.2 1237.4 334.7 1238.8 340.5 1240.2 352.6 1241.6 334.6 1243.0 347.1 1244.4 344.1 1245.8 343.2 1247.2 328.1 1248.6 344.6 1250.0 341.7 1251.4 346.4 1252.8 333.4 1255.6 342.9 1257.0 342.6 1258.4 344.7 1259.8 341.4 1261.2 333.6 1262.6 332.0 1264.0 340.2 1265.4 337.3 1266.8 340.9 1269.6 331.7 1271.0 335.7 1272.4 334.6 1273.8 334.3 1275.2 329.0 1276.6 327.4 1278.0 336.3 1279.4 335.0 1280.8 337.1 1283.6 333.5 1285.0 323.5 1286.4 342.6 1287.8 345.5 1289.2 333.5 1290.6 330.1 1292.0 335.1 1293.4 332.6 1294.8 342.0 1296.2 329.0 1297.6 336.9 1299.0 327.4 1300.4 323.0 1301.8 328.8 1303.2 343.8 1304.6 334.6 1307.4 325.6 1308.8 324.6 1310.2 326.0 1311.6 338.5 1313.0 330.2 1314.4 315.2 1315.8 323.7 1317.2 327.1 1318.6 318.4 1320.0 321.4 1321.4 330.7 1322.8 319.8 1324.2 322.9 1325.6 324.2 1327.0 329.8 1328.4 326.9 1329.8 333.4 1331.2 317.5 1332.6 323.5 1334.0 322.8 1335.4 326.8 1336.8 308.4 1338.2 317.1 1339.6 320.2 1341.0 316.3 1342.4 299.1 1345.2 319.3 1346.6 324.0 1348.0 309.8 1349.4 317.8 1350.8 308.6 1352.0 316.5 1353.2 338.8 1354.4 300.7 1355.6 339.7 1356.8 297.8 1358.0 344.7 1360.4 287.3 1361.6 298.7 1362.8 327.6 1364.0 312.6 1365.2 348.0 1366.4 273.9 1367.6 318.2 1368.8 284.9 1370.0 290.4 1372.4 359.9 1373.6 327.0 1374.8 361.4 1376.0 325.1 1377.2 326.6 1378.4 287.0 1379.6 323.4 1380.8 277.2 1382.0 319.5 1383.2 320.1 1384.4 367.1 1385.6 315.0 1386.8 311.5 1388.0 312.9 1389.2 346.9 1390.4 274.1 1391.6 301.0 1392.8 255.2 1394.0 261.3 1396.4 337.8 1397.6 277.6 1398.8 349.1 1400.0 227.5 1401.2 290.8 1402.4 271.1 1403.6 332.4 1404.8 281.9 1406.0 357.3 1407.2 229.8 1408.4 359.2 1409.6 288.9 1410.8 313.0 1412.0 241.5 1413.2 363.7 1414.4 231.2 1416.8 268.5 1418.0 313.2 1419.2 257.5 1420.4 258.4 1421.6 242.4 1424.0 317.2 1425.2 328.8 1426.4 295.6 1427.6 311.2 1428.8 229.1 1430.0 296.6 1431.2 295.0 1432.4 232.0 1434.8 354.3 1436.0 249.8 1437.2 298.2 1438.4 283.3 1439.6 297.7 1440.8 235.5 1442.0 313.0 1443.2 297.4 1444.4 332.7 1445.6 230.6 1446.8 372.2 1448.0 282.0 1449.2 362.3 1450.4 238.6 1451.6 384.9 1452.8 236.2 1454.0 321.6 1455.2 240.2 1456.4 317.5 1457.6 280.4 1458.8 330.8 1461.2 240.8 1462.4 314.5 1463.6 333.1 1464.8 247.1 1466.0 333.5 1467.2 299.9 1468.4 316.3 1469.6 238.2 1470.8 255.3 1472.0 257.0 1473.2 358.9 1474.4 250.5" fill="none" stroke="#008000" stroke-width="6" stroke-linejoin="round"/>
<path d="M1442.5 1060L1444.5 934L1447.5 934L1449.5 1060Z" fill="#008000" stroke="#008000" stroke-width="2"/>
<path d="M1395.5 1060L1397.5 1007L1400.5 1007L1402.5 1060Z" fill="#008000" stroke="#008000" stroke-width="2"/>
<path d="M1342.5 1060L1344.5 1039L1347.5 1039L1349.5 1060Z" fill="#008000" stroke="#008000" stroke-width="2"/>
<path d="M1432.5 1060L1434.5 1018L1437.5 1018L1439.5 1060Z" fill="#008000" stroke="#008000" stroke-width="2"/>
<path d="M1442.5 300L1444.5 443L1447.5 443L1449.5 300Z" fill="#008000" stroke="#008000" stroke-width="2"/>
<path d="M1399.5 300L1401.5 397L1404.5 397L1406.5 300Z" fill="#008000" stroke="#008000" stroke-width="2"/>
<path d="M260.0 1151.7L271.1 1151.0 274.9 1148.8 277.1 1146.3 279.4 1141.8 281.6 1135.2 284.7 1122.2 286.7 1111.2 288.8 1090.3 291.8 1044.9 298.5 962.6 302.9 885.0 306.2 808.8 309.0 769.0 311.9 742.6 317.7 709.5 320.9 695.2 326.3 677.8 332.6 662.2 335.5 656.5 338.6 651.9 342.3 647.7 347.0 643.5 353.3 639.0 358.2 636.2 367.4 633.2 375.8 631.8 398.9 631.7 416.4 632.7 424.1 632.1 431.6 630.6 435.6 629.0 440.6 626.0 444.3 622.5 447.2 617.7 456.6 597.7 461.4 583.9 473.4 534.9 487.7 470.7 491.3 457.9 496.5 443.9 498.6 439.3 500.2 437.3 502.3 435.6 506.3 434.2 510.1 435.8 515.4 440.4 519.2 445.3 523.7 452.6 532.6 468.7 604.5 610.4 632.3 663.0 648.9 693.0 664.4 719.6 679.1 743.4 693.7 765.6 709.2 787.3 724.5 807.3 741.0 827.2 760.0 848.4 774.0 862.4 775.4 862.8 776.8 865.2 785.2 872.0 790.8 878.3 793.6 879.8 796.4 883.4 802.0 887.2 803.4 889.4 809.0 893.5 810.4 895.6 813.2 896.0 816.0 899.8 817.4 900.8 820.2 901.5 821.6 905.1 823.0 904.1 824.4 905.9 830.0 909.2 834.2 913.0 835.6 916.0 837.0 914.4 838.4 917.1 842.6 918.0 844.0 920.1 845.4 920.3 846.8 922.3 848.2 923.4 849.6 923.0 851.0 926.0 852.4 925.8 855.2 928.2 856.6 928.5 859.4 932.3 860.8 931.8 863.6 935.4 866.4 935.2 867.8 937.5 869.2 937.3 870.6 937.9 872.0 937.5 873.4 940.0 874.8 939.9 876.2 941.9 877.6 940.2 879.0 942.1 880.4 945.9 881.8 947.0 883.2 946.4 884.6 947.1 886.0 945.0 887.4 949.0 890.2 947.6 891.6 949.8 893.0 950.5 894.4 953.4 895.8 953.7 897.2 957.2 900.0 956.0 901.4 957.4 902.8 956.0 904.2 959.4 905.6 958.7 908.4 961.1 911.2 961.7 912.6 964.0 914.0 964.8 915.4 961.1 916.8 964.5 918.2 965.8 919.6 966.0 922.4 969.6 925.2 969.6 926.6 972.1 928.0 971.9 929.4 972.5 930.8 975.9 932.2 975.2 933.6 972.8 935.0 977.0 936.4 974.6 937.8 976.8 939.2 974.3 940.6 979.4 942.0 975.8 944.8 983.2 946.2 981.5 947.6 981.3 949.0 980.2 951.8 984.6 953.2 979.9 954.6 982.6 956.0 987.2 957.4 984.9 958.8 988.3 960.2 988.1 961.6 986.1 963.0 988.0 964.4 991.4 965.8 988.9 968.6 991.8 970.0 990.4 971.4 991.5 972.8 993.6 974.2 992.9 975.6 993.9 978.4 998.6 979.8 995.7 981.2 995.3 982.6 1002.8 985.4 994.5 986.8 997.9 988.2 996.2 989.6 1001.6 991.0 998.2 992.4 1000.2 993.8 1005.2 995.2 1001.0 999.4 1006.2 1000.8 1006.8 1002.2 1008.4 1003.6 1004.3 1005.0 1007.2 1006.4 1003.0 1007.8 1007.3 1009.2 1007.4 1010.6 1012.2 1012.0 1009.5 1013.4 1008.5 1014.8 1009.0 1016.2 1008.3 1017.6 1009.7 1019.0 1009.8 1020.4 1011.8 1021.8 1011.0 1024.6 1015.8 1026.0 1011.2 1027.4 1012.5 1028.8 1011.8 1030.2 1020.3 1031.6 1019.9 1033.0 1017.6 1034.4 1016.9 1035.8 1015.0 1037.2 1020.3 1038.6 1018.5 1040.0 1019.7 1041.4 1019.4 1042.8 1012.4 1047.0 1022.4 1048.4 1018.9 1049.8 1022.4 1052.6 1019.9 1054.0 1025.0 1055.4 1020.7 1056.8 1020.8 1058.2 1029.1 1059.6 1029.0 1061.0 1026.2 1062.4 1029.1 1063.8 1024.5 1066.6 1028.3 1069.4 1029.7 1070.8 1024.8 1072.2 1031.7 1073.6 1026.2 1075.0 1029.6 1076.4 1037.7 1079.2 1029.6 1080.6 1032.4 1082.0 1029.7 1084.8 1030.2 1089.0 1035.7 1090.4 1040.7 1091.8 1036.0 1093.2 1035.8 1094.6 1031.9 1096.0 1039.7 1097.4 1036.6 1098.8 1041.4 1100.2 1037.2 1101.6 1042.4 1103.0 1035.7 1105.8 1037.3 1107.2 1037.3 1108.6 1039.4 1110.0 1039.2 1111.4 1032.5 1112.8 1035.3 1114.2 1036.5 1115.6 1041.0 1117.0 1038.3 1118.4 1041.8 1119.8 1041.9 1121.2 1040.8 1122.6 1033.9 1124.0 1046.9 1126.8 1039.6 1128.2 1042.7 1129.6 1040.4 1131.0 1042.4 1132.4 1039.7 1133.8 1049.6 1135.2 1041.9 1136.6 1044.5 1138.0 1041.1 1139.4 1046.3 1140.8 1048.7 1143.6 1041.9 1145.0 1045.7 1146.4 1044.6 1147.8 1048.3 1149.2 1046.7 1150.6 1047.2 1152.0 1045.7 1153.4 1045.8 1154.8 1047.0 1156.2 1051.5 1157.6 1047.2 1159.0 1049.5 1160.4 1046.1 1161.8 1046.7 1163.2 1043.9 1164.6 1047.5 1166.0 1046.0 1167.4 1040.7 1168.8 1045.4 1170.2 1043.4 1171.6 1047.8 1173.0 1047.6 1174.4 1053.7 1175.8 1049.9 1177.2 1047.6 1178.6 1048.3 1181.4 1048.6 1182.8 1052.2 1184.2 1048.7 1187.0 1054.8 1188.4 1049.5 1189.8 1051.5 1191.2 1057.8 1194.0 1050.9 1195.4 1054.5 1198.2 1049.5 1199.6 1055.8 1201.0 1049.4 1202.4 1050.5 1203.8 1052.6 1205.2 1056.5 1206.6 1056.0 1208.0 1051.5 1209.4 1053.9 1210.8 1052.9 1212.2 1057.5 1213.6 1055.8 1215.0 1052.2 1216.4 1058.1 1217.8 1050.2 1219.2 1054.0 1220.6 1048.3 1222.0 1059.3 1223.4 1055.3 1224.8 1058.4 1226.2 1066.6 1227.6 1057.6 1229.0 1057.6 1230.4 1054.8 1231.8 1058.0 1233.2 1055.4 1234.6 1059.5 1236.0 1059.4 1237.4 1058.7 1238.8 1056.9 1241.6 1057.8 1243.0 1057.6 1244.4 1060.3 1245.8 1055.6 1248.6 1060.2 1250.0 1065.6 1251.4 1060.2 1252.8 1058.4 1254.2 1058.3 1255.6 1065.4 1257.0 1057.0 1258.4 1057.3 1259.8 1059.1 1261.2 1056.7 1264.0 1061.8 1265.4 1059.4 1266.8 1052.9 1268.2 1062.4 1269.6 1064.3 1271.0 1059.0 1272.4 1068.8 1273.8 1062.4 1275.2 1062.9 1276.6 1056.4 1278.0 1071.8 1279.4 1070.5 1280.8 1067.5 1282.2 1069.4 1283.6 1059.6 1285.0 1060.3 1286.4 1064.4 1287.8 1062.9 1289.2 1058.2 1290.6 1063.8 1292.0 1066.6 1293.4 1062.2 1294.8 1069.5 1297.6 1061.7 1300.4 1059.0 1301.8 1067.6 1303.2 1058.1 1304.6 1066.7 1306.0 1066.8 1307.4 1058.9 1308.8 1067.1 1310.2 1065.0 1311.6 1072.6 1313.0 1066.9 1314.4 1064.5 1317.2 1071.1 1318.6 1061.9 1320.0 1062.3 1322.8 1074.8 1324.2 1060.2 1325.6 1072.9 1327.0 1068.5 1328.4 1070.0 1329.8 1069.2 1331.2 1064.9 1332.6 1064.2 1334.0 1076.7 1335.4 1061.2 1338.2 1073.8 1339.6 1066.8 1341.0 1070.7 1343.8 1064.1 1345.0 1072.6 1346.2 1104.9 1347.4 1049.7 1348.6 1094.3 1349.8 1044.6 1351.0 1115.5 1352.2 1072.9 1353.4 1056.0 1355.8 1128.9 1357.0 1040.8 1358.2 1088.8 1359.4 1030.1 1360.6 1092.4 1361.8 1025.4 1363.0 1085.7 1365.4 1046.9 1367.8 1149.5 1369.0 1080.1 1370.2 1147.1 1371.4 1109.3 1372.6 1128.4 1373.8 1044.0 1375.0 1050.5 1376.2 1105.5 1377.4 1060.5 1378.6 1115.1 1379.8 1105.0 1381.0 1049.3 1382.2 1149.5 1383.4 1089.6 1384.6 1102.8 1385.8 1091.5 1388.2 1086.2 1389.4 1091.0 1390.6 1036.7 1391.8 1149.5 1393.0 1060.9 1394.2 1149.5 1395.4 1076.5 1396.6 1102.9 1397.8 1104.1 1399.0 1076.4 1400.2 1072.1 1401.4 1032.5 1402.6 1095.0 1405.0 1066.1 1406.2 1093.5 1407.4 1071.6 1408.6 1089.2 1411.0 1009.0 1412.2 1089.1 1413.4 1102.1 1414.6 1073.2 1415.8 1149.5 1417.0 1106.4 1418.2 1116.9 1419.4 1098.7 1420.6 1146.7 1421.8 1088.2 1423.0 1149.5 1424.2 1100.9 1425.4 1100.0 1427.8 1113.9 1429.0 1037.0 1430.2 1101.4 1431.4 1089.3 1432.6 1133.5 1433.8 1043.4 1435.0 1142.4 1436.2 1072.9 1437.4 1046.0 1438.6 1103.9 1439.8 1113.5 1441.0 1055.9 1442.2 1142.3 1443.4 1073.1 1444.6 1149.5 1445.8 1074.2 1447.0 1144.1 1448.2 1044.9 1449.4 1111.9 1450.6 1078.0 1451.8 1146.7 1453.0 1099.4 1454.2 1149.5 1455.4 1051.4 1456.6 1098.1 1457.8 1091.0 1459.0 1143.7 1460.2 1101.0 1461.4 1146.5 1462.6 1073.7 1463.8 1149.5 1466.2 1057.9 1467.4 1072.6 1468.6 1136.7 1469.8 1112.2 1471.0 1100.2 1472.2 1035.0 1473.4 1149.5" fill="none" stroke="#000080" stroke-width="6" stroke-linejoin="round"/>
<path d="M260.0 486.0L262.3 472.2 266.5 438.9 272.4 408.6 275.1 399.8 277.3 395.4 280.7 392.7 281.7 392.5 282.7 393.5 284.3 398.1 286.6 409.4 290.3 440.8 295.0 497.3 299.4 559.4 305.0 615.1 314.8 685.9 317.7 702.9 319.8 710.5 322.6 715.1 328.4 721.5 333.3 725.1 338.4 727.5 344.6 728.1 397.8 730.4 406.8 731.9 418.2 735.2 427.1 739.4 439.2 746.7 445.2 751.5 450.2 757.2 456.2 766.7 460.8 777.0 464.8 788.9 471.5 813.2 479.1 847.4 484.9 884.0 489.9 910.1 495.0 932.0 499.8 948.0 507.2 966.2 511.1 973.7 514.8 979.6 519.5 985.8 523.9 990.4 528.1 993.9 533.6 997.1 545.1 1002.0 586.3 1016.1 663.8 1035.0 701.0 1041.7 742.7 1046.7 764.2 1049.8 769.8 1051.3 771.2 1050.9 775.4 1051.3 776.8 1052.8 779.6 1052.2 782.4 1053.3 783.8 1052.9 786.6 1054.6 790.8 1053.9 792.2 1055.6 793.6 1055.8 795.0 1055.1 800.6 1056.9 803.4 1056.5 806.2 1056.8 809.0 1058.3 810.4 1057.2 811.8 1057.0 814.6 1058.6 816.0 1057.3 817.4 1058.3 820.2 1057.7 821.6 1059.7 824.4 1058.5 827.2 1059.1 830.0 1060.4 831.4 1059.1 832.8 1060.7 834.2 1059.7 835.6 1060.4 837.0 1059.3 838.4 1059.4 839.8 1060.8 842.6 1060.6 844.0 1061.2 845.4 1060.1 846.8 1062.3 848.2 1063.0 849.6 1061.4 851.0 1062.0 852.4 1061.2 853.8 1062.5 855.2 1061.6 856.6 1061.4 858.0 1061.9 859.4 1061.2 862.2 1062.6 863.6 1061.1 865.0 1062.9 866.4 1061.8 867.8 1062.9 869.2 1061.2 870.6 1061.1 872.0 1063.2 873.4 1062.1 876.2 1064.8 879.0 1062.5 880.4 1065.4 881.8 1062.1 883.2 1060.7 884.6 1066.4 886.0 1062.7 887.4 1064.6 888.8 1062.5 890.2 1064.7 891.6 1063.8 893.0 1067.3 894.4 1063.2 895.8 1065.7 897.2 1064.2 898.6 1065.1 900.0 1064.2 901.4 1064.0 902.8 1061.8 904.2 1064.7 905.6 1061.3 907.0 1063.9 908.4 1065.1 909.8 1063.8 912.6 1065.7 914.0 1065.2 915.4 1063.7 916.8 1063.4 918.2 1064.8 922.4 1061.6 923.8 1062.5 925.2 1062.4 926.6 1061.1 928.0 1062.7 929.4 1062.2 930.8 1059.1 932.2 1059.0 933.6 1061.9 936.4 1061.9 940.6 1058.0 942.0 1060.0 943.4 1057.1 944.8 1056.4 946.2 1060.9 947.6 1061.7 949.0 1065.7 950.4 1062.7 953.2 1064.9 954.6 1065.1 956.0 1068.8 957.4 1068.3 958.8 1069.5 960.2 1066.7 963.0 1070.1 964.4 1067.0 965.8 1065.7 967.2 1063.4 968.6 1068.8 970.0 1067.6 971.4 1064.1 972.8 1068.2 974.2 1070.6 975.6 1071.8 977.0 1066.4 978.4 1069.6 979.8 1068.5 981.2 1069.4 982.6 1067.9 984.0 1063.1 985.4 1070.4 988.2 1066.1 991.0 1066.0 992.4 1066.9 993.8 1066.8 995.2 1060.6 996.6 1064.0 998.0 1063.2 999.4 1065.1 1000.8 1062.6 1002.2 1063.2 1003.6 1058.7 1005.0 1061.4 1006.4 1060.7 1007.8 1064.5 1009.2 1064.0 1010.6 1064.9 1012.0 1058.9 1013.4 1060.9 1014.8 1061.5 1016.2 1064.0 1017.6 1061.7 1019.0 1062.4 1020.4 1060.7 1021.8 1063.8 1023.2 1060.0 1024.6 1058.5 1027.4 1060.6 1028.8 1060.1 1030.2 1053.7 1031.6 1055.8 1033.0 1053.9 1034.4 1055.3 1035.8 1053.6 1037.2 1064.1 1038.6 1059.6 1040.0 1058.7 1041.4 1059.9 1042.8 1063.6 1044.2 1060.5 1047.0 1065.7 1048.4 1066.8 1051.2 1064.4 1052.6 1074.8 1054.0 1065.6 1055.4 1067.3 1056.8 1066.3 1058.2 1074.2 1059.6 1066.0 1061.0 1069.3 1062.4 1062.8 1065.2 1073.3 1066.6 1069.1 1068.0 1066.9 1069.4 1068.1 1070.8 1073.2 1072.2 1075.1 1075.0 1069.1 1076.4 1073.2 1077.8 1072.7 1079.2 1073.6 1080.6 1077.5 1083.4 1070.1 1084.8 1082.2 1086.2 1069.5 1087.6 1074.6 1089.0 1076.1 1090.4 1071.0 1091.8 1083.3 1093.2 1080.2 1094.6 1074.4 1096.0 1072.8 1098.8 1083.9 1100.2 1081.3 1101.6 1075.6 1103.0 1079.6 1104.4 1077.7 1105.8 1077.2 1107.2 1079.3 1108.6 1076.4 1110.0 1075.8 1111.4 1080.5 1112.8 1076.5 1114.2 1077.6 1115.6 1077.6 1117.0 1075.0 1118.4 1081.1 1121.2 1072.7 1122.6 1076.9 1124.0 1070.3 1125.4 1080.2 1126.8 1070.1 1128.2 1077.0 1129.6 1074.4 1131.0 1078.5 1132.4 1077.6 1133.8 1077.8 1135.2 1082.6 1136.6 1072.7 1138.0 1077.1 1139.4 1071.5 1140.8 1081.7 1142.2 1081.2 1143.6 1083.0 1146.4 1079.2 1147.8 1074.2 1149.2 1072.8 1150.6 1082.1 1152.0 1079.3 1153.4 1072.1 1154.8 1081.4 1156.2 1075.0 1157.6 1076.5 1159.0 1079.2 1160.4 1073.9 1161.8 1082.0 1163.2 1081.5 1164.6 1075.6 1166.0 1072.8 1167.4 1079.0 1168.8 1080.2 1170.2 1087.8 1171.6 1074.4 1173.0 1081.5 1174.4 1077.5 1175.8 1078.7 1177.2 1072.9 1180.0 1084.4 1182.8 1070.8 1184.2 1078.2 1185.6 1073.4 1188.4 1078.8 1189.8 1073.4 1191.2 1076.5 1192.6 1085.4 1194.0 1082.3 1196.8 1068.1 1198.2 1076.1 1201.0 1075.2 1202.4 1076.7 1203.8 1073.6 1205.2 1082.9 1206.6 1075.5 1208.0 1078.0 1209.4 1085.5 1210.8 1076.5 1212.2 1073.1 1213.6 1071.7 1215.0 1079.5 1216.4 1077.6 1217.8 1084.8 1219.2 1071.6 1220.6 1074.9 1222.0 1076.5 1223.4 1079.3 1226.2 1070.7 1227.6 1084.5 1229.0 1069.8 1230.4 1074.0 1231.8 1068.1 1233.2 1083.0 1234.6 1069.5 1236.0 1081.5 1237.4 1083.0 1238.8 1070.5 1240.2 1085.2 1243.0 1073.2 1244.4 1087.8 1245.8 1080.0 1247.2 1081.4 1248.6 1080.7 1250.0 1077.2 1251.4 1078.9 1252.8 1078.7 1255.6 1072.5 1257.0 1081.2 1259.8 1073.1 1261.2 1076.4 1262.6 1075.4 1264.0 1085.1 1265.4 1080.3 1266.8 1070.9 1268.2 1078.6 1271.0 1075.6 1272.4 1082.0 1275.2 1072.3 1276.6 1079.3 1278.0 1074.5 1279.4 1079.8 1280.8 1074.6 1282.2 1088.1 1283.6 1086.8 1285.0 1078.1 1286.4 1087.0 1287.8 1076.8 1289.2 1078.7 1290.6 1087.8 1292.0 1077.0 1293.4 1083.1 1294.8 1079.5 1296.2 1086.7 1299.0 1073.4 1300.4 1082.3 1301.8 1079.7 1303.2 1080.2 1306.0 1084.6 1307.4 1075.8 1308.8 1073.2 1310.2 1075.7 1311.6 1072.8 1313.0 1074.5 1314.4 1088.1 1315.8 1076.7 1317.2 1077.4 1318.6 1080.4 1320.0 1077.7 1321.4 1073.1 1322.8 1080.0 1324.2 1077.2 1325.6 1089.3 1327.0 1085.4 1328.4 1076.1 1329.8 1083.0 1331.2 1075.3 1332.6 1082.5 1334.0 1066.4 1336.8 1081.3 1339.6 1080.6 1341.0 1081.1 1343.8 1089.4 1345.6 1067.0 1346.8 1095.3 1348.0 1069.3 1349.2 1070.4 1350.4 1050.5 1351.6 1118.0 1352.8 1099.2 1354.0 1118.5 1355.2 1096.3 1356.4 1113.2 1357.6 1120.8 1358.8 1065.8 1361.2 1108.8 1362.4 1069.1 1363.6 1149.5 1364.8 1111.8 1366.0 1125.8 1367.2 1069.4 1368.4 1128.8 1369.6 1077.8 1370.8 1087.6 1372.0 1075.3 1373.2 1129.4 1374.4 1065.3 1375.6 1060.9 1376.8 1104.5 1378.0 1099.9 1379.2 1099.5 1381.6 1090.1 1382.8 1101.1 1384.0 1094.2 1385.2 1075.0 1386.4 1094.0 1387.6 1149.5 1388.8 1113.9 1390.0 1135.2 1391.2 1062.5 1392.4 1121.9 1393.6 1100.9 1394.8 1105.3 1396.0 1051.2 1397.2 1149.5 1398.4 1068.0 1399.6 1090.4 1402.0 1107.8 1403.2 1014.6 1404.4 1149.5 1405.6 1080.4 1406.8 1149.5 1408.0 1077.8 1409.2 1133.7 1410.4 1014.7 1411.6 1043.4 1412.8 1021.6 1414.0 1145.4 1415.2 1068.5 1416.4 1119.2 1417.6 1073.3 1418.8 1149.5 1420.0 1062.5 1421.2 1100.1 1422.4 1105.6 1423.6 1043.6 1426.0 1149.5 1427.2 1049.3 1428.4 1125.5 1429.6 1054.0 1430.8 1093.4 1432.0 1030.8 1433.2 1148.5 1434.4 1051.2 1435.6 1108.5 1436.8 1059.8 1438.0 1122.1 1439.2 1103.0 1440.4 1057.2 1441.6 1077.9 1442.8 1119.0 1444.0 1081.6 1445.2 1118.9 1446.4 1055.8 1447.6 1110.4 1448.8 1115.1 1450.0 1112.7 1451.2 1028.7 1452.4 1149.5 1453.6 1062.7 1454.8 1112.7 1456.0 1103.5 1457.2 1127.8 1458.4 1060.1 1459.6 1149.5 1460.8 1068.6 1462.0 1149.5 1463.2 1084.0 1464.4 1095.4 1465.6 1095.0 1466.8 1039.8 1468.0 1058.9 1469.2 1104.3 1470.4 1036.1 1471.6 1118.9 1472.8 1080.0 1474.0 1116.0" fill="none" stroke="#000080" stroke-width="6" stroke-linejoin="round"/>
<path d="M260.0 836.0L263.6 847.4 266.0 857.6 283.8 954.6 289.7 984.9 292.3 995.0 309.2 1033.5 319.1 1054.3 336.1 1085.0 343.9 1095.7 350.7 1102.8 360.2 1110.2 363.3 1111.7 368.5 1113.4 376.9 1115.0 383.9 1114.6 394.9 1112.6 410.1 1107.3 422.9 1103.5 440.6 1099.2 446.8 1098.2 454.5 1098.1 465.0 1099.0 481.0 1104.3 483.7 1104.4 486.4 1103.5 490.5 1100.9 494.3 1096.7 499.4 1089.2 503.9 1080.4 507.4 1072.0 517.5 1043.6 531.9 1007.2 544.3 973.0 555.4 945.8 580.4 887.9 612.9 816.6 628.8 783.1 647.4 746.2 667.0 709.9 686.0 677.2 702.6 650.5 721.7 622.0 739.7 597.0 760.0 571.1 760.0 570.6 762.8 567.8 771.2 557.4 778.2 550.2 781.0 546.3 782.4 545.4 785.2 541.8 786.6 541.0 788.0 538.7 793.6 533.4 796.4 529.4 797.8 528.5 799.2 528.3 806.2 519.6 809.0 518.2 810.4 516.0 811.8 515.8 813.2 512.9 816.0 510.8 817.4 510.3 818.8 508.9 821.6 504.1 823.0 503.6 824.4 504.0 825.8 502.4 827.2 502.1 828.6 499.3 830.0 499.1 831.4 496.9 834.2 494.3 835.6 494.3 837.0 492.2 844.0 486.6 845.4 486.0 846.8 483.4 848.2 482.9 849.6 481.0 851.0 480.5 855.2 476.2 858.0 475.2 859.4 472.2 862.2 472.3 863.6 470.4 865.0 470.6 866.4 468.3 867.8 467.5 869.2 467.5 870.6 464.7 872.0 464.0 873.4 464.7 876.2 460.6 877.6 459.8 879.0 460.6 880.4 458.7 881.8 458.1 883.2 458.8 884.6 455.5 887.4 455.8 890.2 452.2 891.6 452.0 893.0 451.2 894.4 449.5 895.8 450.9 897.2 447.7 898.6 448.0 900.0 445.6 901.4 447.0 904.2 444.8 905.6 445.5 907.0 445.1 908.4 444.2 909.8 440.7 911.2 443.7 912.6 441.0 914.0 440.1 915.4 441.3 918.2 441.4 921.0 437.0 922.4 438.0 923.8 437.1 926.6 433.7 928.0 435.7 929.4 434.1 930.8 431.2 932.2 434.4 933.6 431.3 935.0 432.8 936.4 428.9 937.8 429.7 939.2 426.2 940.6 430.9 943.4 427.3 944.8 427.5 947.6 425.5 949.0 422.6 950.4 424.8 951.8 422.0 953.2 422.5 954.6 420.4 958.8 419.5 961.6 419.7 963.0 417.4 964.4 418.0 965.8 414.6 967.2 415.3 968.6 411.8 971.4 413.7 972.8 408.5 974.2 409.2 975.6 407.9 977.0 410.6 979.8 412.6 985.4 406.3 986.8 406.6 988.2 412.9 989.6 405.8 991.0 407.6 992.4 410.8 995.2 405.3 996.6 407.2 999.4 404.8 1000.8 407.1 1002.2 403.6 1003.6 406.4 1005.0 403.4 1006.4 402.0 1007.8 397.9 1009.2 399.7 1010.6 405.7 1013.4 405.7 1014.8 409.3 1016.2 400.7 1017.6 403.3 1019.0 403.2 1020.4 402.1 1021.8 397.2 1023.2 395.1 1024.6 405.3 1026.0 398.5 1027.4 396.8 1028.8 401.5 1030.2 395.3 1031.6 395.0 1033.0 398.4 1034.4 394.9 1035.8 397.4 1037.2 398.7 1038.6 391.4 1040.0 393.0 1041.4 393.6 1042.8 384.7 1044.2 395.9 1045.6 387.4 1047.0 393.7 1048.4 386.1 1049.8 393.0 1051.2 388.2 1052.6 386.0 1054.0 391.9 1055.4 387.0 1056.8 388.5 1058.2 384.2 1059.6 387.3 1061.0 388.1 1062.4 385.7 1063.8 385.0 1065.2 380.5 1066.6 384.0 1068.0 385.6 1069.4 376.8 1070.8 376.7 1073.6 370.8 1075.0 375.8 1076.4 368.8 1077.8 374.2 1080.6 374.0 1082.0 372.8 1083.4 373.5 1084.8 366.3 1086.2 365.6 1087.6 371.4 1089.0 372.4 1090.4 366.7 1091.8 363.5 1093.2 368.8 1094.6 368.4 1096.0 365.5 1097.4 366.8 1098.8 371.2 1100.2 353.9 1101.6 362.3 1103.0 361.6 1104.4 372.4 1105.8 364.1 1107.2 361.9 1108.6 365.1 1110.0 361.4 1111.4 359.4 1112.8 353.9 1114.2 363.0 1115.6 358.1 1117.0 357.7 1118.4 353.9 1119.8 359.1 1121.2 356.8 1122.6 360.0 1124.0 352.3 1125.4 357.0 1126.8 348.4 1128.2 357.8 1129.6 360.6 1131.0 351.2 1132.4 356.1 1133.8 355.3 1135.2 352.2 1136.6 360.9 1138.0 357.1 1139.4 349.2 1142.2 353.2 1143.6 351.4 1145.0 353.7 1146.4 347.9 1147.8 352.4 1149.2 346.1 1150.6 353.0 1152.0 348.0 1153.4 351.0 1154.8 345.7 1156.2 354.1 1157.6 348.1 1159.0 347.8 1160.4 355.8 1163.2 343.7 1164.6 346.6 1166.0 347.1 1167.4 350.7 1168.8 349.2 1170.2 351.2 1171.6 341.1 1173.0 348.5 1174.4 351.2 1175.8 341.5 1177.2 349.3 1180.0 344.1 1181.4 353.3 1182.8 340.6 1184.2 346.9 1187.0 353.8 1188.4 351.2 1189.8 340.6 1192.6 336.8 1194.0 348.4 1195.4 337.6 1196.8 340.8 1198.2 352.9 1199.6 340.1 1201.0 342.4 1202.4 340.6 1203.8 335.8 1206.6 342.4 1208.0 348.0 1210.8 338.0 1212.2 340.0 1213.6 337.9 1215.0 340.9 1216.4 340.8 1217.8 347.4 1219.2 335.7 1222.0 343.8 1223.4 328.6 1224.8 351.9 1226.2 337.8 1227.6 337.9 1229.0 341.3 1230.4 340.1 1231.8 343.6 1234.6 339.5 1236.0 340.8 1237.4 339.7 1238.8 337.4 1240.2 332.8 1241.6 334.8 1243.0 333.1 1244.4 334.0 1245.8 341.2 1247.2 341.5 1248.6 334.2 1250.0 336.1 1251.4 326.2 1252.8 337.2 1254.2 337.5 1255.6 331.0 1257.0 334.2 1258.4 325.8 1259.8 328.6 1261.2 334.2 1262.6 343.0 1264.0 334.2 1265.4 334.8 1266.8 333.4 1268.2 339.5 1269.6 337.4 1272.4 322.9 1273.8 330.1 1275.2 317.2 1276.6 337.1 1278.0 329.0 1280.8 335.8 1282.2 335.1 1283.6 323.4 1285.0 322.6 1286.4 327.7 1287.8 323.2 1289.2 333.2 1290.6 330.1 1292.0 328.8 1293.4 326.3 1294.8 333.1 1296.2 328.6 1297.6 332.4 1299.0 321.0 1300.4 321.3 1301.8 329.3 1303.2 329.9 1304.6 324.3 1307.4 321.3 1308.8 332.3 1311.6 323.2 1313.0 327.4 1314.4 322.7 1315.8 321.5 1317.2 321.2 1318.6 318.0 1320.0 312.1 1321.4 321.8 1324.2 316.2 1325.6 316.7 1327.0 312.2 1328.4 318.1 1329.8 317.7 1331.2 312.9 1332.6 311.4 1334.0 315.7 1335.4 313.3 1336.8 312.7 1338.2 311.2 1339.6 311.3 1341.0 299.3 1342.4 310.6 1343.8 314.0 1345.2 300.4 1346.6 315.3 1348.0 304.3 1349.4 318.4 1350.8 313.1 1352.0 316.4 1353.2 333.4 1355.6 281.2 1356.8 293.5 1358.0 274.5 1359.2 301.1 1360.4 300.5 1361.6 293.9 1364.0 305.8 1365.2 291.6 1366.4 292.5 1367.6 284.5 1368.8 266.5 1370.0 296.8 1371.2 267.9 1372.4 314.8 1373.6 299.3 1376.0 248.9 1377.2 308.2 1378.4 261.3 1379.6 300.8 1380.8 253.3 1382.0 300.4 1383.2 288.8 1384.4 356.5 1385.6 267.9 1386.8 298.8 1388.0 245.7 1389.2 304.0 1390.4 244.0 1391.6 371.5 1392.8 248.0 1394.0 292.5 1395.2 245.9 1396.4 367.3 1397.6 292.0 1398.8 291.8 1400.0 259.4 1401.2 281.6 1402.4 225.3 1403.6 281.1 1406.0 208.1 1408.4 343.5 1409.6 196.4 1410.8 290.8 1412.0 254.2 1413.2 189.4 1414.4 185.2 1415.6 291.9 1416.8 284.2 1418.0 284.2 1419.2 216.9 1420.4 323.3 1421.6 251.7 1422.8 272.8 1424.0 207.1 1425.2 305.1 1426.4 254.8 1427.6 280.8 1428.8 196.5 1430.0 303.3 1431.2 247.1 1432.4 214.4 1433.6 290.5 1434.8 222.6 1436.0 216.7 1437.2 337.8 1438.4 270.1 1439.6 299.1 1440.8 246.6 1442.0 226.2 1444.4 298.0 1445.6 275.9 1446.8 291.5 1448.0 265.9 1449.2 333.4 1450.4 225.8 1451.6 381.7 1452.8 295.8 1454.0 286.1 1455.2 204.0 1456.4 288.3 1457.6 242.4 1458.8 356.6 1460.0 198.3 1461.2 320.4 1462.4 281.8 1463.6 200.9 1464.8 227.8 1466.0 222.2 1467.2 242.4 1468.4 206.3 1469.6 284.7 1470.8 304.0 1472.0 266.2 1473.2 326.5 1474.4 196.1" fill="none" stroke="#000080" stroke-width="6" stroke-linejoin="round"/>
<path d="M1028.5 1060L1030.5 1038L1033.5 1038L1035.5 1060Z" fill="#000080" stroke="#000080" stroke-width="2"/>
<path d="M1024.5 1060L1026.5 1046L1029.5 1046L1031.5 1060Z" fill="#000080" stroke="#000080" stroke-width="2"/>
<path d="M1407.5 1060L1409.5 977L1412.5 977L1414.5 1060Z" fill="#000080" stroke="#000080" stroke-width="2"/>
<path d="M1454.5 1060L1456.5 963L1459.5 963L1461.5 1060Z" fill="#000080" stroke="#000080" stroke-width="2"/>
<path d="M1369.5 1060L1371.5 1029L1374.5 1029L1376.5 1060Z" fill="#000080" stroke="#000080" stroke-width="2"/>
<path d="M1453.5 300L1455.5 413L1458.5 413L1460.5 300Z" fill="#000080" stroke="#000080" stroke-width="2"/>
<path d="M1369.5 300L1371.5 368L1374.5 368L1376.5 300Z" fill="#000080" stroke="#000080" stroke-width="2"/>
<path d="M1406.5 300L1408.5 393L1411.5 393L1413.5 300Z" fill="#000080" stroke="#000080" stroke-width="2"/>
<path d="M260.0 1149.0L271.1 1148.3 274.9 1146.1 277.1 1143.6 279.4 1139.1 281.6 1132.5 284.7 1119.5 286.7 1108.5 288.8 1087.6 291.8 1042.2 298.6 959.2 303.0 880.9 306.2 806.1 308.9 767.0 311.9 739.9 317.5 707.5 320.9 692.5 326.1 675.8 332.6 659.5 335.5 653.8 338.6 649.2 342.3 645.0 347.0 640.8 353.3 636.3 358.2 633.5 367.4 630.5 375.8 629.1 398.9 629.0 416.4 630.0 424.1 629.4 431.6 627.9 435.6 626.3 440.6 623.3 444.3 619.8 447.2 615.0 456.6 595.0 461.4 581.2 473.4 532.2 487.7 468.0 491.3 455.2 496.5 441.2 498.6 436.6 501.7 433.3 505.7 431.5 507.6 431.7 509.5 432.7 514.5 436.8 518.4 441.4 523.0 448.7 532.3 465.4 607.1 612.7 637.7 670.1 654.8 700.6 670.9 727.7 687.1 753.0 702.6 775.5 721.0 800.2 740.1 823.4 759.9 845.2 760.0 845.9 767.0 852.2 768.4 854.2 774.0 859.0 779.6 865.1 785.2 869.7 789.4 874.3 790.8 875.1 795.0 879.4 797.8 881.3 800.6 884.3 802.0 884.5 803.4 885.6 804.8 888.9 806.2 888.5 807.6 889.8 809.0 889.7 810.4 891.8 818.8 899.4 820.2 899.1 821.6 900.2 823.0 902.4 827.2 904.3 832.8 910.2 834.2 911.0 835.6 910.7 837.0 913.9 839.8 914.4 841.2 915.4 842.6 917.3 844.0 917.2 846.8 919.6 848.2 921.7 849.6 920.2 851.0 923.2 852.4 921.5 856.6 927.1 858.0 925.9 859.4 928.9 860.8 930.1 862.2 929.4 865.0 931.5 866.4 930.8 867.8 936.0 870.6 934.0 872.0 936.8 874.8 937.8 877.6 940.8 879.0 940.1 880.4 940.5 881.8 944.3 884.6 943.7 886.0 946.8 887.4 943.3 890.2 948.3 893.0 949.5 894.4 949.4 895.8 950.1 898.6 952.0 901.4 955.3 902.8 955.6 904.2 957.4 905.6 954.3 907.0 957.0 908.4 956.6 909.8 961.0 911.2 959.2 912.6 961.1 914.0 961.3 915.4 960.8 916.8 961.4 918.2 964.0 919.6 965.1 921.0 964.2 922.4 968.1 923.8 966.5 925.2 968.3 926.6 968.3 928.0 970.0 929.4 967.1 930.8 972.2 932.2 972.0 935.0 974.1 936.4 973.8 937.8 971.4 939.2 973.4 940.6 973.2 944.8 979.4 946.2 975.5 947.6 976.6 949.0 979.1 950.4 980.6 951.8 980.8 953.2 980.1 954.6 982.4 956.0 982.9 957.4 981.8 958.8 985.8 960.2 981.8 961.6 985.0 963.0 985.6 965.8 988.6 967.2 986.7 970.0 989.8 971.4 992.4 972.8 988.9 974.2 991.9 975.6 991.7 977.0 990.3 978.4 993.5 979.8 991.3 981.2 993.8 982.6 994.7 984.0 999.1 985.4 993.8 986.8 997.5 991.0 997.2 992.4 1001.3 993.8 997.8 995.2 1001.2 996.6 999.7 998.0 1002.1 999.4 1002.9 1000.8 998.6 1003.6 1002.7 1005.0 1003.7 1006.4 1001.0 1007.8 1005.4 1009.2 1007.1 1010.6 1005.4 1012.0 1006.4 1013.4 1004.0 1014.8 1009.6 1017.6 1014.4 1019.0 1009.1 1020.4 1013.5 1021.8 1008.5 1023.2 1011.2 1024.6 1011.0 1026.0 1007.8 1028.8 1012.3 1030.2 1012.7 1031.6 1012.2 1033.0 1013.6 1034.4 1016.2 1035.8 1017.3 1037.2 1009.7 1038.6 1014.3 1040.0 1016.1 1041.4 1010.7 1042.8 1018.0 1044.2 1020.6 1045.6 1014.5 1047.0 1012.6 1051.2 1026.7 1052.6 1021.2 1054.0 1020.7 1055.4 1018.9 1056.8 1023.4 1058.2 1020.0 1061.0 1025.7 1063.8 1021.0 1066.6 1027.7 1068.0 1028.3 1069.4 1020.9 1070.8 1027.1 1072.2 1027.6 1075.0 1024.0 1076.4 1025.4 1077.8 1025.6 1079.2 1034.2 1080.6 1029.5 1082.0 1028.4 1084.8 1034.0 1086.2 1030.2 1087.6 1033.3 1089.0 1033.2 1090.4 1030.3 1091.8 1036.6 1093.2 1033.2 1094.6 1036.2 1096.0 1037.3 1097.4 1032.3 1098.8 1031.6 1100.2 1032.5 1101.6 1041.3 1103.0 1035.2 1104.4 1034.3 1105.8 1040.5 1107.2 1034.0 1108.6 1042.2 1110.0 1034.7 1111.4 1038.2 1112.8 1037.7 1114.2 1038.9 1115.6 1041.0 1117.0 1040.8 1118.4 1035.0 1119.8 1035.9 1122.6 1042.2 1124.0 1039.0 1125.4 1038.5 1126.8 1034.8 1128.2 1042.7 1129.6 1042.0 1131.0 1038.4 1132.4 1040.9 1133.8 1046.9 1135.2 1040.6 1136.6 1040.4 1138.0 1045.3 1139.4 1037.4 1140.8 1042.5 1142.2 1043.3 1143.6 1041.9 1145.0 1043.4 1146.4 1044.1 1147.8 1046.0 1149.2 1045.2 1150.6 1048.6 1152.0 1049.4 1153.4 1047.1 1154.8 1046.6 1156.2 1040.3 1157.6 1051.5 1159.0 1049.3 1160.4 1049.6 1161.8 1052.8 1163.2 1047.5 1164.6 1047.6 1166.0 1052.5 1167.4 1038.7 1168.8 1053.8 1170.2 1052.0 1171.6 1046.9 1173.0 1048.9 1174.4 1055.8 1175.8 1049.9 1177.2 1055.6 1180.0 1053.6 1182.8 1053.6 1184.2 1053.0 1187.0 1058.2 1188.4 1048.1 1189.8 1060.8 1191.2 1064.1 1192.6 1050.6 1194.0 1061.0 1195.4 1057.3 1196.8 1059.9 1199.6 1053.7 1201.0 1060.3 1202.4 1058.8 1203.8 1060.2 1205.2 1055.0 1208.0 1062.8 1209.4 1053.5 1210.8 1060.9 1212.2 1053.6 1213.6 1063.4 1215.0 1068.7 1216.4 1055.2 1217.8 1060.1 1219.2 1063.1 1220.6 1057.3 1222.0 1064.9 1224.8 1060.6 1226.2 1065.9 1227.6 1062.7 1229.0 1072.2 1230.4 1066.9 1231.8 1063.8 1233.2 1064.0 1234.6 1058.5 1236.0 1060.2 1237.4 1059.4 1238.8 1064.8 1240.2 1064.5 1241.6 1058.4 1243.0 1064.1 1245.8 1060.6 1247.2 1065.6 1248.6 1062.3 1250.0 1060.7 1251.4 1061.5 1252.8 1064.7 1254.2 1058.4 1257.0 1065.3 1258.4 1067.5 1259.8 1065.0 1261.2 1063.7 1262.6 1058.5 1264.0 1068.9 1265.4 1061.6 1266.8 1060.7 1268.2 1068.9 1269.6 1062.1 1271.0 1061.2 1272.4 1066.5 1273.8 1068.3 1275.2 1067.2 1276.6 1058.6 1278.0 1067.0 1279.4 1064.3 1280.8 1064.1 1282.2 1068.4 1283.6 1069.0 1285.0 1060.2 1286.4 1070.6 1287.8 1065.8 1289.2 1066.2 1290.6 1063.5 1293.4 1070.5 1296.2 1061.4 1297.6 1077.5 1299.0 1072.4 1300.4 1070.8 1301.8 1074.3 1303.2 1065.2 1304.6 1066.5 1306.0 1064.4 1307.4 1068.9 1308.8 1082.3 1310.2 1076.4 1311.6 1066.7 1313.0 1075.9 1314.4 1074.0 1315.8 1076.2 1317.2 1067.2 1318.6 1070.4 1320.0 1065.8 1322.8 1074.2 1324.2 1069.6 1325.6 1070.4 1327.0 1074.7 1328.4 1068.9 1329.8 1066.0 1331.2 1073.9 1332.6 1062.7 1334.0 1076.9 1335.4 1066.6 1336.8 1068.9 1338.2 1065.2 1339.6 1077.3 1341.0 1077.6 1342.4 1072.9 1345.0 1075.5 1346.2 1052.7 1347.4 1057.6 1348.6 1105.5 1349.8 1038.9 1351.0 1099.4 1352.2 1031.6 1353.4 1071.4 1354.6 1074.3 1355.8 1115.0 1357.0 1038.2 1358.2 1075.1 1359.4 1079.9 1360.6 1131.1 1361.8 1085.6 1363.0 1066.1 1364.2 1067.4 1365.4 1104.3 1366.6 1106.7 1367.8 1059.8 1369.0 1106.5 1370.2 1114.1 1371.4 1109.0 1372.6 1111.7 1373.8 1057.5 1375.0 1097.5 1376.2 1054.7 1377.4 1118.2 1378.6 1036.6 1379.8 1149.5 1381.0 1052.5 1382.2 1058.8 1383.4 1049.4 1384.6 1118.3 1385.8 1053.1 1387.0 1139.3 1388.2 1088.7 1389.4 1095.2 1390.6 1049.5 1391.8 1047.3 1393.0 1070.6 1394.2 1129.3 1395.4 1044.9 1396.6 1129.2 1397.8 1080.3 1399.0 1081.0 1400.2 1036.3 1401.4 1118.2 1402.6 1083.2 1403.8 1124.3 1405.0 1031.9 1406.2 1081.5 1407.4 1043.0 1408.6 1138.9 1409.8 1066.1 1411.0 1103.0 1412.2 1067.0 1414.6 1075.8 1415.8 1082.6 1417.0 1023.1 1418.2 1050.8 1419.4 1063.9 1420.6 1108.1 1421.8 1058.9 1423.0 1130.6 1424.2 1015.5 1425.4 1126.7 1427.8 1020.5 1429.0 1046.6 1430.2 1021.0 1431.4 1007.5 1432.6 1095.3 1433.8 1049.1 1435.0 1129.8 1436.2 1052.9 1437.4 1102.3 1438.6 1068.6 1441.0 1080.3 1442.2 1137.7 1443.4 1076.0 1444.6 1083.9 1445.8 1051.5 1447.0 1049.0 1448.2 1040.8 1449.4 1140.9 1450.6 1014.0 1451.8 1112.1 1453.0 1052.3 1454.2 1116.2 1456.6 988.3 1457.8 982.7 1459.0 1058.9 1460.2 984.2 1461.4 1148.1 1462.6 1043.0 1463.8 1107.2 1465.0 1075.6 1466.2 1020.1 1467.4 1081.7 1468.6 1071.4 1469.8 1049.6 1471.0 1074.0 1472.2 1033.1 1473.4 1020.5" fill="none" stroke="#8000ff" stroke-width="6" stroke-linejoin="round"/>
<path d="M260.0 486.0L262.3 472.2 266.5 438.9 272.4 408.6 275.1 399.8 277.3 395.4 280.7 392.7 281.7 392.5 282.7 393.5 284.3 398.1 286.6 409.4 290.3 440.8 295.0 497.3 299.4 559.4 305.0 615.1 314.9 687.2 317.7 703.9 319.8 711.9 322.6 716.8 328.4 724.0 331.5 726.7 337.1 729.7 339.8 730.5 343.9 730.8 395.7 732.9 402.0 733.6 409.6 735.3 421.4 739.2 433.2 745.6 443.6 752.8 450.2 759.9 456.2 769.4 460.8 779.7 464.8 791.6 471.5 815.9 479.0 849.4 484.9 886.7 490.0 913.5 495.1 935.4 500.1 951.4 507.8 970.2 511.9 977.6 516.1 984.0 520.5 989.6 524.9 994.1 529.3 997.3 535.5 1000.8 545.8 1005.0 586.3 1018.8 660.3 1037.0 680.9 1041.1 700.3 1044.3 746.1 1049.9 761.4 1052.4 762.8 1052.3 764.2 1052.9 765.6 1052.7 768.4 1054.1 772.6 1054.4 774.0 1054.0 776.8 1055.1 782.4 1055.8 785.2 1056.7 786.6 1056.9 788.0 1056.0 789.4 1056.8 792.2 1057.5 795.0 1057.9 796.4 1057.5 797.8 1059.2 799.2 1058.5 802.0 1058.7 803.4 1057.8 804.8 1059.7 806.2 1058.7 807.6 1060.7 810.4 1060.2 811.8 1060.5 814.6 1059.8 816.0 1061.5 817.4 1060.1 818.8 1060.5 820.2 1061.6 821.6 1060.7 823.0 1060.9 824.4 1061.8 825.8 1060.3 827.2 1062.7 832.8 1061.9 834.2 1063.5 835.6 1061.4 837.0 1064.1 839.8 1062.7 841.2 1063.0 844.0 1064.8 845.4 1063.1 848.2 1065.1 849.6 1063.4 851.0 1063.5 855.2 1065.3 858.0 1062.7 860.8 1065.3 862.2 1063.2 863.6 1065.4 865.0 1065.1 866.4 1066.4 867.8 1064.8 869.2 1066.0 872.0 1062.7 873.4 1066.1 874.8 1066.8 876.2 1064.9 879.0 1064.8 880.4 1066.7 881.8 1064.9 886.0 1066.3 888.8 1064.9 890.2 1067.1 891.6 1066.7 893.0 1067.6 894.4 1065.7 895.8 1064.9 898.6 1068.8 901.4 1065.2 902.8 1065.8 904.2 1069.0 907.0 1062.8 908.4 1067.2 909.8 1064.4 911.2 1067.3 912.6 1065.3 914.0 1067.4 915.4 1064.9 916.8 1064.5 918.2 1069.2 919.6 1065.3 921.0 1065.2 922.4 1063.6 923.8 1064.4 925.2 1067.5 926.6 1066.6 928.0 1064.4 929.4 1064.6 930.8 1062.7 932.2 1064.3 935.0 1059.3 936.4 1064.8 937.8 1060.1 939.2 1062.4 940.6 1063.0 942.0 1060.8 943.4 1062.0 946.2 1063.1 949.0 1066.3 950.4 1067.0 951.8 1064.5 953.2 1069.7 954.6 1067.2 956.0 1068.8 957.4 1071.7 958.8 1071.8 961.6 1070.7 963.0 1072.9 965.8 1068.5 967.2 1068.6 970.0 1072.2 971.4 1072.8 972.8 1069.8 974.2 1069.5 975.6 1071.8 977.0 1068.7 979.8 1073.4 982.6 1066.9 984.0 1069.2 985.4 1073.0 989.6 1067.5 991.0 1070.6 992.4 1065.9 993.8 1071.3 995.2 1068.3 996.6 1066.9 998.0 1072.2 999.4 1064.7 1000.8 1068.4 1002.2 1065.6 1005.0 1067.8 1006.4 1066.7 1007.8 1061.2 1009.2 1068.1 1010.6 1068.3 1012.0 1061.4 1013.4 1062.6 1014.8 1066.3 1016.2 1062.5 1017.6 1061.8 1019.0 1062.9 1020.4 1062.6 1021.8 1060.9 1023.2 1062.0 1024.6 1060.6 1026.0 1060.3 1027.4 1059.2 1028.8 1067.1 1030.2 1064.4 1031.6 1055.1 1034.4 1061.4 1035.8 1062.3 1037.2 1059.7 1038.6 1060.5 1040.0 1065.2 1041.4 1065.2 1042.8 1063.9 1044.2 1069.7 1045.6 1069.2 1047.0 1070.3 1048.4 1067.4 1049.8 1070.1 1051.2 1070.0 1052.6 1069.0 1054.0 1072.3 1056.8 1069.2 1058.2 1071.4 1059.6 1072.4 1061.0 1072.6 1062.4 1075.9 1063.8 1069.0 1065.2 1075.3 1066.6 1070.0 1068.0 1072.0 1069.4 1067.4 1070.8 1071.9 1072.2 1081.6 1073.6 1068.7 1075.0 1075.6 1076.4 1075.1 1077.8 1077.6 1079.2 1081.6 1080.6 1079.1 1082.0 1079.0 1083.4 1074.3 1084.8 1075.7 1086.2 1074.9 1087.6 1077.6 1090.4 1075.3 1093.2 1079.5 1096.0 1081.6 1097.4 1082.3 1098.8 1080.8 1103.0 1083.8 1104.4 1081.7 1105.8 1081.3 1107.2 1074.3 1110.0 1078.7 1111.4 1085.5 1112.8 1076.0 1115.6 1088.1 1117.0 1076.8 1118.4 1081.5 1119.8 1083.6 1121.2 1079.8 1122.6 1079.0 1124.0 1078.9 1125.4 1081.7 1126.8 1075.3 1128.2 1083.0 1129.6 1077.9 1131.0 1077.1 1133.8 1086.9 1135.2 1076.8 1136.6 1082.8 1138.0 1079.1 1140.8 1079.9 1142.2 1078.9 1143.6 1071.1 1145.0 1084.3 1146.4 1083.3 1147.8 1091.5 1150.6 1074.8 1152.0 1076.0 1153.4 1074.5 1154.8 1081.0 1156.2 1078.5 1157.6 1084.0 1159.0 1083.3 1160.4 1078.5 1161.8 1082.6 1163.2 1075.9 1164.6 1079.9 1166.0 1077.9 1167.4 1083.4 1168.8 1081.9 1170.2 1086.2 1171.6 1082.0 1173.0 1074.8 1174.4 1080.5 1175.8 1083.1 1178.6 1077.7 1180.0 1082.4 1181.4 1080.2 1184.2 1084.7 1185.6 1079.4 1187.0 1082.3 1188.4 1078.6 1189.8 1076.7 1191.2 1088.6 1192.6 1080.9 1194.0 1086.8 1195.4 1073.1 1196.8 1074.2 1198.2 1078.6 1199.6 1091.5 1201.0 1076.0 1202.4 1080.2 1203.8 1078.2 1205.2 1077.3 1206.6 1087.4 1208.0 1080.4 1209.4 1089.2 1210.8 1080.9 1212.2 1087.7 1213.6 1079.2 1215.0 1089.5 1216.4 1073.6 1217.8 1075.3 1219.2 1079.3 1220.6 1089.6 1222.0 1083.5 1223.4 1090.1 1224.8 1077.9 1226.2 1088.8 1227.6 1078.0 1229.0 1072.5 1230.4 1080.5 1231.8 1080.3 1233.2 1085.7 1234.6 1079.1 1236.0 1081.9 1237.4 1075.0 1238.8 1075.4 1240.2 1081.6 1243.0 1085.6 1244.4 1084.4 1245.8 1085.1 1247.2 1087.4 1248.6 1076.8 1250.0 1078.8 1251.4 1084.9 1252.8 1084.4 1254.2 1079.8 1255.6 1081.2 1257.0 1086.2 1258.4 1082.7 1259.8 1086.8 1261.2 1080.2 1262.6 1077.9 1264.0 1080.0 1265.4 1078.6 1266.8 1082.1 1268.2 1079.0 1269.6 1085.5 1272.4 1075.5 1273.8 1083.6 1275.2 1081.1 1276.6 1072.3 1280.8 1083.4 1282.2 1088.8 1283.6 1083.0 1285.0 1085.1 1286.4 1091.5 1289.2 1080.0 1290.6 1080.2 1292.0 1078.2 1294.8 1078.0 1296.2 1081.1 1297.6 1074.0 1299.0 1075.5 1301.8 1082.1 1303.2 1076.8 1304.6 1078.7 1306.0 1079.1 1307.4 1078.7 1308.8 1091.5 1311.6 1079.5 1313.0 1082.9 1314.4 1081.0 1315.8 1083.7 1317.2 1082.2 1318.6 1077.0 1320.0 1084.9 1321.4 1081.6 1322.8 1083.7 1324.2 1082.1 1325.6 1083.1 1327.0 1090.4 1328.4 1075.3 1329.8 1080.6 1331.2 1078.4 1332.6 1084.7 1334.0 1079.2 1335.4 1083.9 1336.8 1083.2 1338.2 1084.9 1339.6 1080.8 1341.0 1073.9 1342.4 1070.3 1343.8 1084.3 1345.6 1063.2 1348.0 1081.8 1349.2 1100.0 1350.4 1080.4 1351.6 1077.8 1352.8 1073.3 1354.0 1066.1 1355.2 1068.4 1356.4 1102.9 1357.6 1059.4 1358.8 1093.7 1360.0 1074.4 1361.2 1118.4 1362.4 1089.8 1363.6 1103.3 1364.8 1088.5 1366.0 1100.3 1367.2 1050.0 1368.4 1045.3 1369.6 1049.6 1370.8 1117.6 1372.0 1099.4 1373.2 1144.4 1374.4 1049.5 1375.6 1104.5 1376.8 1052.0 1378.0 1143.8 1379.2 1054.4 1380.4 1108.3 1381.6 1092.5 1382.8 1109.7 1384.0 1051.2 1385.2 1149.5 1386.4 1055.2 1387.6 1149.5 1388.8 1106.3 1390.0 1097.6 1391.2 1043.5 1392.4 1149.5 1393.6 1058.3 1394.8 1075.0 1396.0 1064.0 1397.2 1127.9 1398.4 1087.6 1399.6 1083.2 1400.8 1035.4 1402.0 1096.2 1403.2 1091.6 1404.4 1094.7 1405.6 1056.5 1406.8 1089.9 1408.0 1041.3 1409.2 1093.7 1410.4 1018.4 1411.6 1077.9 1412.8 1055.3 1414.0 1109.0 1415.2 1070.4 1416.4 1089.6 1417.6 1034.5 1418.8 1081.6 1420.0 1036.7 1421.2 1079.8 1422.4 1087.4 1423.6 1080.6 1424.8 1077.3 1426.0 1038.5 1427.2 1042.5 1428.4 1115.9 1429.6 1038.5 1432.0 1069.0 1433.2 1072.4 1434.4 1080.8 1435.6 1033.1 1436.8 1024.2 1438.0 1070.7 1439.2 1071.8 1440.4 1101.7 1441.6 1042.9 1442.8 1109.4 1444.0 1021.7 1445.2 1086.7 1446.4 1024.3 1447.6 1084.8 1448.8 1013.0 1450.0 1149.5 1451.2 1045.3 1452.4 1076.1 1453.6 1080.4 1454.8 1071.2 1456.0 1026.3 1457.2 1108.4 1458.4 1066.8 1459.6 1133.1 1460.8 1078.5 1463.2 1030.9 1464.4 1088.9 1465.6 1039.7 1466.8 1101.5 1468.0 1047.3 1469.2 1135.8 1470.4 1067.4 1471.6 1070.6 1472.8 1078.8 1474.0 1076.8" fill="none" stroke="#8000ff" stroke-width="6" stroke-linejoin="round"/>
<path d="M260.0 834.0L263.6 845.4 266.0 855.6 283.8 952.6 289.7 982.9 292.3 993.0 309.2 1031.5 319.1 1052.3 335.7 1082.4 343.5 1093.2 350.7 1100.8 360.2 1108.2 363.3 1109.7 368.5 1111.4 376.9 1113.0 383.9 1112.6 394.9 1110.6 410.1 1105.3 422.9 1101.5 440.6 1097.2 446.8 1096.2 454.5 1096.1 465.0 1097.0 480.3 1102.1 483.0 1102.5 485.7 1101.8 489.9 1099.3 493.9 1095.3 499.1 1087.8 503.6 1079.0 507.4 1070.0 517.8 1041.0 531.9 1005.2 544.3 971.0 555.7 943.1 581.5 883.4 614.1 812.1 631.5 775.4 651.9 735.6 673.2 696.9 694.0 662.1 714.6 630.4 734.7 601.8 760.0 569.1 760.0 568.6 774.0 552.3 776.8 549.7 779.6 546.0 782.4 543.6 785.2 539.7 786.6 538.1 788.0 537.5 789.4 535.2 793.6 530.5 797.8 527.5 799.2 525.3 802.0 522.9 804.8 518.9 807.6 516.7 809.0 514.2 810.4 514.7 813.2 511.1 814.6 510.5 816.0 508.8 820.2 505.4 823.0 501.5 827.2 498.7 830.0 495.5 832.8 493.6 834.2 491.7 835.6 491.6 838.4 487.9 839.8 487.9 841.2 485.1 842.6 485.9 844.0 485.4 845.4 482.9 846.8 482.5 849.6 478.3 851.0 478.0 855.2 475.0 856.6 475.1 858.0 473.1 860.8 471.5 865.0 467.7 867.8 466.2 869.2 463.5 870.6 462.2 872.0 462.6 873.4 460.4 874.8 459.7 876.2 460.8 877.6 457.5 879.0 456.9 880.4 457.3 881.8 454.3 883.2 454.5 886.0 453.2 887.4 451.4 888.8 450.8 890.2 451.1 891.6 449.5 895.8 446.7 897.2 444.8 898.6 445.2 900.0 443.8 901.4 444.4 904.2 441.5 905.6 441.1 907.0 441.7 909.8 439.3 911.2 437.5 914.0 439.0 915.4 437.1 916.8 436.5 918.2 435.2 919.6 435.0 921.0 435.8 922.4 434.6 923.8 435.8 925.2 432.5 926.6 432.6 928.0 432.0 929.4 429.8 930.8 428.6 932.2 430.7 936.4 426.5 940.6 426.1 942.0 425.4 943.4 423.2 946.2 423.5 947.6 420.6 950.4 421.1 951.8 418.3 953.2 419.5 954.6 415.6 956.0 415.5 957.4 412.4 958.8 414.4 960.2 414.6 961.6 410.8 963.0 413.4 965.8 409.0 967.2 410.2 968.6 407.9 970.0 406.8 971.4 410.3 972.8 404.7 974.2 406.9 977.0 405.7 978.4 404.4 979.8 407.0 982.6 403.2 984.0 404.9 985.4 401.2 986.8 403.3 988.2 398.6 989.6 402.8 992.4 397.7 993.8 396.6 995.2 401.3 996.6 400.4 998.0 400.3 999.4 398.1 1000.8 392.6 1003.6 401.0 1005.0 390.7 1006.4 398.3 1007.8 393.2 1010.6 397.5 1012.0 393.7 1013.4 391.8 1014.8 395.1 1016.2 395.2 1017.6 397.5 1019.0 392.1 1020.4 391.5 1023.2 397.2 1026.0 394.2 1027.4 385.7 1028.8 394.2 1030.2 391.6 1031.6 393.0 1033.0 389.4 1034.4 390.5 1035.8 390.1 1037.2 388.6 1038.6 391.7 1040.0 385.2 1041.4 381.3 1042.8 387.5 1044.2 386.2 1045.6 382.5 1047.0 382.2 1048.4 386.3 1051.2 383.7 1052.6 388.9 1054.0 384.3 1056.8 370.2 1058.2 379.8 1059.6 381.6 1062.4 377.4 1063.8 377.3 1065.2 371.9 1066.6 368.8 1068.0 371.8 1069.4 366.6 1070.8 371.7 1072.2 369.6 1073.6 371.5 1075.0 365.9 1076.4 369.3 1077.8 362.9 1079.2 372.1 1080.6 365.8 1082.0 366.1 1083.4 368.7 1084.8 362.7 1086.2 363.8 1087.6 361.9 1089.0 356.8 1090.4 360.9 1091.8 367.7 1093.2 363.9 1094.6 356.9 1096.0 363.6 1097.4 358.1 1098.8 358.9 1100.2 356.2 1101.6 361.9 1103.0 360.7 1104.4 360.8 1105.8 348.5 1107.2 355.2 1108.6 352.8 1110.0 346.3 1111.4 356.9 1112.8 352.3 1114.2 350.8 1115.6 351.5 1117.0 348.2 1118.4 351.4 1119.8 346.4 1121.2 352.0 1122.6 352.3 1124.0 349.4 1125.4 343.2 1126.8 353.0 1128.2 341.1 1129.6 348.8 1131.0 349.2 1132.4 350.7 1135.2 345.3 1136.6 346.6 1138.0 343.6 1139.4 343.4 1140.8 350.0 1142.2 351.2 1143.6 351.4 1145.0 342.2 1146.4 351.3 1147.8 344.0 1149.2 344.2 1150.6 346.2 1152.0 340.3 1153.4 346.9 1154.8 347.6 1156.2 338.4 1157.6 344.0 1159.0 331.6 1160.4 344.9 1161.8 348.8 1163.2 347.1 1164.6 341.2 1166.0 343.8 1168.8 340.0 1170.2 347.4 1171.6 340.4 1173.0 343.6 1174.4 345.3 1175.8 339.9 1177.2 339.0 1178.6 349.3 1180.0 338.5 1181.4 337.3 1182.8 337.6 1184.2 336.8 1185.6 332.9 1188.4 343.4 1189.8 342.9 1191.2 339.6 1192.6 337.7 1194.0 332.6 1195.4 341.6 1196.8 337.6 1198.2 341.9 1199.6 341.3 1201.0 336.8 1202.4 335.3 1203.8 335.7 1205.2 329.7 1206.6 327.8 1209.4 336.3 1210.8 344.5 1212.2 329.8 1213.6 337.8 1215.0 333.7 1216.4 324.1 1217.8 334.6 1219.2 331.1 1220.6 340.7 1222.0 334.6 1223.4 335.4 1226.2 329.0 1227.6 337.8 1229.0 331.4 1230.4 329.5 1233.2 331.7 1234.6 334.5 1237.4 328.9 1238.8 334.5 1240.2 337.4 1241.6 332.4 1244.4 331.9 1245.8 327.2 1247.2 333.4 1248.6 335.0 1250.0 321.0 1252.8 324.3 1254.2 332.0 1255.6 324.7 1257.0 327.0 1258.4 328.2 1259.8 322.7 1261.2 322.8 1262.6 325.3 1264.0 314.3 1265.4 330.4 1266.8 323.2 1268.2 322.6 1269.6 315.0 1272.4 333.2 1273.8 319.1 1275.2 333.7 1276.6 317.3 1278.0 322.6 1279.4 321.7 1280.8 327.5 1282.2 330.4 1283.6 318.7 1285.0 328.3 1287.8 321.4 1289.2 327.6 1290.6 322.1 1292.0 321.7 1293.4 312.7 1296.2 325.6 1297.6 326.5 1299.0 318.0 1300.4 325.6 1303.2 322.2 1304.6 317.2 1306.0 315.3 1307.4 314.9 1308.8 321.6 1310.2 318.0 1311.6 317.9 1314.4 311.7 1315.8 311.4 1317.2 313.4 1318.6 309.0 1320.0 314.0 1321.4 312.7 1324.2 314.0 1325.6 316.8 1327.0 310.0 1328.4 312.8 1332.6 302.4 1334.0 302.1 1336.8 309.5 1338.2 305.4 1339.6 303.1 1341.0 313.8 1342.4 302.7 1343.8 302.4 1345.2 303.7 1346.6 303.0 1348.0 299.3 1349.4 309.0 1350.8 298.3 1353.2 314.2 1354.4 309.0 1355.6 318.0 1356.8 296.8 1358.0 331.1 1359.2 299.4 1360.4 337.0 1361.6 300.7 1362.8 319.6 1364.0 290.4 1365.2 288.6 1366.4 292.0 1367.6 346.4 1368.8 304.7 1370.0 289.1 1371.2 300.0 1372.4 318.7 1373.6 290.0 1374.8 293.5 1376.0 284.7 1377.2 358.1 1378.4 320.3 1379.6 350.9 1380.8 325.5 1382.0 316.8 1383.2 321.9 1385.6 277.2 1386.8 326.1 1388.0 277.8 1389.2 290.7 1390.4 281.0 1391.6 323.2 1392.8 291.0 1394.0 320.2 1395.2 271.6 1396.4 288.9 1397.6 235.3 1398.8 352.4 1400.0 238.5 1401.2 294.6 1402.4 301.5 1403.6 301.2 1404.8 304.4 1406.0 303.5 1407.2 289.1 1408.4 331.0 1409.6 294.9 1410.8 355.2 1412.0 245.0 1413.2 296.3 1414.4 303.4 1415.6 342.5 1416.8 268.9 1418.0 308.5 1419.2 255.3 1420.4 340.4 1421.6 232.7 1422.8 336.0 1424.0 229.6 1425.2 364.3 1426.4 291.5 1427.6 298.9 1428.8 278.8 1430.0 291.2 1431.2 297.0 1432.4 263.3 1433.6 258.2 1434.8 291.8 1437.2 286.8 1438.4 241.7 1439.6 321.3 1440.8 270.8 1442.0 281.5 1443.2 245.7 1444.4 229.6 1445.6 245.9 1446.8 287.7 1448.0 249.9 1449.2 343.2 1450.4 256.9 1451.6 290.5 1452.8 244.0 1454.0 290.7 1455.2 245.2 1456.4 307.4 1457.6 252.3 1458.8 297.7 1460.0 296.5 1461.2 240.9 1462.4 284.5 1463.6 251.8 1466.0 333.4 1467.2 238.3 1468.4 315.2 1469.6 242.3 1470.8 289.0 1472.0 248.5 1473.2 320.0 1474.4 277.9" fill="none" stroke="#8000ff" stroke-width="6" stroke-linejoin="round"/>
<path d="M1462.5 300L1464.5 384L1467.5 384L1469.5 300Z" fill="#8000ff" stroke="#8000ff" stroke-width="2"/>
<path d="M1391.5 300L1393.5 378L1396.5 378L1398.5 300Z" fill="#8000ff" stroke="#8000ff" stroke-width="2"/>
<path d="M1403.1 172.0V266.1M1407.9 172.0V240.1M1413.3 172.0V246.8M1421.7 172.0V210.9M1427.4 172.0V295.0M1435.6 172.0V272.5M1439.7 172.0V243.2M1448.6 172.0V317.4M1456.4 172.0V219.3M1465.4 172.0V219.4M1470.9 172.0V242.4" stroke="#000000" stroke-width="3.5" fill="none"/>
<path d="M1372.9 245.0V307.1M1377.5 237.4V271.5M1385.2 229.3V261.6M1395.7 181.7V246.2" stroke="#000000" stroke-width="3.5" fill="none"/>
<path d="M1415.6 172.0V212.1M1441.4 172.0V238.7M1456.9 172.0V221.6M1469.8 172.0V213.3" stroke="#ff00ff" stroke-width="4" fill="none"/>
<path d="M1362.7 253.1V278.2M1372.1 239.9V264.3M1381.8 228.2V268.9M1394.5 186.8V219.3" stroke="#ff00ff" stroke-width="4" fill="none"/>
<path d="M1365.9 1095.3V1150.0M1373.6 1117.7V1150.0M1381.4 1110.9V1150.0M1397.7 1095.4V1150.0M1412.8 1089.7V1150.0M1419.2 1112.0V1150.0M1430.4 1123.0V1150.0M1447.6 1115.3V1150.0M1463.0 1112.4V1150.0" stroke="#0000ff" stroke-width="3.5" fill="none"/>
<path d="M264.7 1149.0L270.2 1145.2 273.4 1141.7 275.7 1137.0 277.8 1130.1 280.0 1119.8 281.7 1107.3 283.6 1089.2 285.0 1070.3 286.7 1035.4 289.8 936.0 292.1 893.4 294.0 806.0 296.6 750.7 300.7 629.7 302.9 531.8 306.4 471.0 308.4 429.8 311.1 393.5 315.5 347.5 319.2 314.8 320.9 303.7 324.4 290.9 327.4 281.5 329.4 276.2 331.2 272.5 333.5 268.9 335.7 266.0 338.2 263.6 343.4 260.4 348.8 258.3 354.2 257.1 362.6 256.2 398.3 254.9 425.6 253.6 477.3 253.1 556.4 253.1 647.7 253.8 680.3 254.5 683.7 255.2 688.3 257.1 694.7 261.8 696.6 262.0 699.8 260.9 700.0 262.5 702.0 257.8 704.0 259.3 706.0 257.8 710.0 256.6 712.0 254.9 714.0 256.3 716.0 255.8 718.0 259.3 720.0 256.7 722.0 256.3 724.0 256.3 728.0 255.7 732.0 257.1 734.0 256.5 736.0 257.6 738.0 256.6 740.0 256.8 742.0 258.2 746.0 256.5 750.0 257.4 752.0 258.6 754.0 256.7 756.0 256.8 758.0 257.9 760.0 256.2 762.0 256.7 764.0 257.8 768.0 257.1 770.0 257.6 772.0 254.4 774.0 257.9 776.0 256.1 778.0 255.4 780.0 257.2 782.0 257.5 784.0 256.5 786.0 255.9 788.0 256.8 790.0 256.8 792.0 258.1 796.0 256.9 798.0 257.8 800.0 256.5 802.0 255.8 804.0 257.2 806.0 257.2 810.0 255.8 812.0 256.8 814.0 254.2 816.0 257.2 818.0 257.0 820.0 254.9 822.0 256.5 824.0 255.5 826.0 257.2 828.0 254.5 830.0 255.5 832.0 257.1 834.0 257.5 836.0 254.3 838.0 255.9 840.0 256.7 842.0 255.8 844.0 257.9 846.0 255.2 848.0 256.7 850.0 255.3 852.0 257.7 854.0 256.3 856.0 255.9 858.0 254.6 860.0 258.0 862.0 257.0 866.0 257.4 870.0 255.6 872.0 255.4 874.0 255.4 876.0 257.6 878.0 254.7 880.0 255.6 886.0 256.7 888.0 254.8 890.0 254.3 892.0 256.1 894.0 257.3 900.0 255.7 902.0 256.3 904.0 255.7 906.0 256.8 908.0 255.0 910.0 255.9 912.0 255.6 914.0 256.3 916.0 255.8 918.0 258.3 920.0 257.1 922.0 257.0 924.0 253.0 926.0 254.8 928.0 254.4 930.0 255.6 932.0 252.4 934.0 256.1 936.0 255.9 938.0 253.1 942.0 253.5 946.0 255.0 948.0 256.5 950.0 253.8 952.0 254.9 954.0 254.1 956.0 255.8 958.0 254.6 960.0 255.3 962.0 252.4 964.0 253.4 966.0 252.6 968.0 255.3 972.0 253.2 974.0 253.0 976.0 254.1 978.0 252.7 980.0 252.5 982.0 254.2 984.0 256.6 986.0 253.4 990.0 252.4 992.0 252.3 994.0 254.6 996.0 255.0 998.0 254.0 1000.0 254.4 1004.0 254.2 1006.0 251.4 1008.0 253.2 1010.0 254.2 1012.0 252.3 1014.0 252.9 1016.0 252.0 1018.0 253.1 1020.0 256.4 1022.0 252.8 1024.0 253.5 1026.0 256.7 1028.0 256.2 1030.0 260.1 1032.0 246.1 1034.0 257.4 1036.0 252.1 1038.0 254.5 1040.0 258.2 1042.0 259.4 1044.0 259.2 1046.0 254.7 1048.0 262.0 1050.0 252.5 1052.0 253.2 1054.0 257.9 1056.0 251.1 1058.0 264.8 1060.0 259.0 1062.0 264.8 1064.0 253.7 1066.0 251.9 1070.0 257.5 1072.0 250.8 1074.0 255.7 1076.0 253.7 1078.0 261.9 1080.0 250.4 1082.0 259.0 1084.0 250.4 1086.0 248.8 1088.0 250.1 1090.0 247.6 1092.0 254.4 1094.0 258.9 1096.0 254.5 1098.0 256.8 1100.0 261.9 1102.0 255.0 1104.0 254.6 1106.0 252.1 1108.0 245.3 1110.0 257.4 1112.0 244.5 1114.0 256.9 1116.0 253.4 1118.0 259.3 1120.0 253.1 1122.0 249.2 1124.0 255.3 1126.0 250.5 1128.0 252.5 1130.0 253.6 1132.0 252.7 1134.0 252.4 1136.0 249.0 1138.0 252.4 1140.0 242.2 1142.0 252.5 1144.0 247.1 1146.0 259.1 1148.0 259.9 1150.0 243.1 1152.0 254.0 1154.0 252.6 1156.0 247.8 1158.0 256.0 1160.0 250.8 1162.0 243.9 1164.0 251.8 1166.0 252.4 1168.0 253.7 1170.0 246.7 1172.0 256.4 1174.0 257.0 1176.0 247.1 1180.0 252.6 1182.0 250.1 1184.0 262.2 1186.0 254.1 1188.0 247.7 1190.0 248.8 1192.0 252.7 1194.0 265.1 1196.0 252.0 1200.0 255.7 1202.0 252.7 1204.0 265.0 1206.0 250.1 1208.0 256.8 1210.0 253.7 1212.0 256.2 1214.0 246.6 1216.0 262.3 1218.0 252.2 1220.0 253.0 1222.0 247.8 1224.0 248.9 1226.0 255.8 1228.0 258.0 1230.0 256.8 1232.0 259.2 1234.0 256.5 1236.0 252.8 1238.0 257.2 1240.0 255.9 1242.0 252.1 1244.0 256.6 1246.0 259.6 1248.0 253.9 1250.0 250.7 1254.0 262.9 1256.0 251.4 1258.0 252.0 1260.0 251.8 1262.0 259.2 1264.0 242.5 1266.0 254.5 1268.0 259.0 1270.0 248.0 1272.0 260.6 1276.0 249.4 1278.0 253.5 1280.0 244.0 1282.0 249.3 1284.0 262.4 1286.0 247.5 1288.0 262.4 1290.0 251.9 1292.0 257.8 1294.0 252.5 1296.0 240.0 1298.0 249.1 1300.0 253.3 1302.0 245.5 1304.0 244.0 1306.0 254.6 1310.0 240.1 1312.0 247.1 1314.0 258.9 1316.0 248.3 1318.0 260.0 1320.0 265.5 1324.0 241.5 1326.0 239.4 1328.0 251.8 1330.0 261.2 1332.0 254.9 1334.0 258.1 1336.0 247.0 1338.0 255.5 1340.0 246.3 1342.0 247.5 1344.0 234.9 1346.0 230.6 1348.0 243.8 1350.0 235.0 1352.0 236.2 1354.0 257.8 1356.0 246.7 1358.0 288.9 1360.0 260.5 1362.0 237.5 1364.0 257.8 1366.0 251.2 1368.0 234.7 1370.0 262.0 1372.0 232.0 1374.0 194.7 1376.0 256.3 1378.0 232.7 1380.0 267.4 1382.0 230.8 1384.0 221.0 1386.0 268.1 1388.0 221.4 1390.0 243.7" fill="none" stroke="#000" stroke-width="2.8" stroke-dasharray="15.5 16.5"/>
<path d="M273.4 217.0L276.4 227.8 278.1 236.7 279.8 251.3 282.5 279.2 285.8 325.3 289.0 395.2 290.9 425.3 292.9 488.2 294.7 521.1 295.3 537.2 297.0 607.8 299.7 747.8 301.0 795.4 303.3 842.9 305.6 905.2 307.6 934.5 309.3 973.0 313.0 1033.8 314.0 1044.9 315.5 1057.4 320.7 1093.5 323.6 1108.6 326.3 1118.4 329.1 1125.4 332.1 1129.8 336.3 1133.8 341.0 1136.7 346.9 1139.1 355.1 1141.2 363.4 1142.6 387.1 1144.2 422.8 1145.0 608.3 1142.9 659.4 1142.1 660.0 1141.7 662.0 1141.4 668.0 1142.7 672.0 1141.7 674.0 1141.5 678.0 1143.1 682.0 1141.1 684.0 1141.3 686.0 1143.2 688.0 1142.2 690.0 1140.6 692.0 1141.9 694.0 1141.0 698.0 1141.6 700.0 1140.6 702.0 1143.1 706.0 1140.8 708.0 1142.8 710.0 1143.7 712.0 1138.6 714.0 1141.4 716.0 1139.9 718.0 1141.6 720.0 1139.2 722.0 1142.0 724.0 1141.9 726.0 1141.3 728.0 1139.6 730.0 1141.1 732.0 1139.5 734.0 1138.9 736.0 1142.4 738.0 1139.4 740.0 1144.5 742.0 1143.5 744.0 1137.3 746.0 1142.5 748.0 1139.3 750.0 1141.9 752.0 1142.0 754.0 1137.2 756.0 1141.3 758.0 1141.2 760.0 1144.2 762.0 1139.0 764.0 1143.6 766.0 1139.1 768.0 1141.0 770.0 1139.7 772.0 1145.4 774.0 1143.2 776.0 1147.9 778.0 1143.4 780.0 1143.9 782.0 1143.9 784.0 1140.2 786.0 1141.6 788.0 1145.3 790.0 1140.7 792.0 1142.3 794.0 1141.7 796.0 1143.4 798.0 1140.8 800.0 1141.3 802.0 1142.4 804.0 1142.0 806.0 1139.4 808.0 1144.2 810.0 1138.2 812.0 1138.4 814.0 1138.2 816.0 1144.4 818.0 1140.7 820.0 1139.0 822.0 1138.5 824.0 1142.9 826.0 1138.7 828.0 1138.0 830.0 1143.4 832.0 1138.2 834.0 1140.7 836.0 1141.6 838.0 1140.3 840.0 1141.5 842.0 1145.6 844.0 1140.1 848.0 1136.1 850.0 1141.0 852.0 1140.5 854.0 1142.4 856.0 1140.2 858.0 1140.1 860.0 1139.4 862.0 1140.0 864.0 1142.1 866.0 1140.4 868.0 1141.9 870.0 1147.5 872.0 1143.1 874.0 1136.6 876.0 1147.0 880.0 1138.5 882.0 1144.4 884.0 1141.6 886.0 1139.5 888.0 1139.5 890.0 1138.3 894.0 1145.0 896.0 1140.4 898.0 1142.9 900.0 1147.7 902.0 1137.4 904.0 1142.3 906.0 1140.4 908.0 1137.9 910.0 1138.0 912.0 1141.4 914.0 1142.9 916.0 1139.6 920.0 1143.9 922.0 1142.5 924.0 1144.5 926.0 1143.0 928.0 1143.1 930.0 1147.9 932.0 1143.6 934.0 1141.9 936.0 1143.9 938.0 1138.1 940.0 1140.2 942.0 1144.2 944.0 1143.7 946.0 1147.0 950.0 1136.0 952.0 1148.5 954.0 1145.4 956.0 1137.4 958.0 1146.5 960.0 1141.4 962.0 1134.5 964.0 1139.7 966.0 1139.4 968.0 1147.3 970.0 1138.3 972.0 1140.3 974.0 1140.2 976.0 1139.8 978.0 1137.8 980.0 1142.1 982.0 1145.4 984.0 1143.7 986.0 1137.6 988.0 1136.7 990.0 1141.7 992.0 1138.5 994.0 1138.7 996.0 1134.6 998.0 1149.0 1000.0 1144.9 1002.0 1137.3 1004.0 1144.9 1006.0 1146.6 1008.0 1131.6 1010.0 1139.0 1012.0 1139.6 1014.0 1143.8 1016.0 1140.7 1018.0 1140.2 1020.0 1140.9 1022.0 1148.7 1024.0 1149.5 1026.0 1139.0 1028.0 1137.4 1030.0 1149.5 1032.0 1137.1 1034.0 1138.8 1036.0 1141.3 1040.0 1145.4 1042.0 1142.7 1044.0 1137.5 1046.0 1143.2 1048.0 1142.1 1050.0 1148.9 1052.0 1141.0 1054.0 1135.5 1056.0 1136.7 1058.0 1147.2 1060.0 1138.8 1062.0 1132.2 1064.0 1138.6 1066.0 1141.1 1068.0 1146.1 1070.0 1136.7 1072.0 1143.9 1074.0 1144.4 1076.0 1138.1 1078.0 1140.2 1080.0 1148.6 1082.0 1148.4 1084.0 1144.7 1086.0 1142.4 1088.0 1145.9 1090.0 1140.4 1092.0 1140.6 1094.0 1137.3 1096.0 1141.0 1098.0 1140.6 1100.0 1149.5 1102.0 1140.1 1104.0 1146.5 1106.0 1146.7 1108.0 1140.1 1110.0 1146.0 1112.0 1131.4 1114.0 1141.3 1116.0 1144.7 1118.0 1130.4 1120.0 1135.8 1122.0 1145.6 1124.0 1139.8 1126.0 1136.0 1128.0 1139.2 1130.0 1138.5 1132.0 1144.1 1134.0 1142.9 1136.0 1139.6 1138.0 1137.9 1140.0 1140.6 1142.0 1146.8 1144.0 1142.4 1146.0 1143.7 1148.0 1140.2 1150.0 1135.0 1152.0 1137.6 1154.0 1143.8 1156.0 1141.3 1158.0 1136.7 1160.0 1133.5 1162.0 1141.3 1164.0 1139.3 1168.0 1139.3 1170.0 1142.1 1172.0 1142.1 1174.0 1145.2 1176.0 1145.0 1178.0 1146.9 1180.0 1144.5 1182.0 1139.2 1184.0 1140.5 1186.0 1143.0 1188.0 1139.3 1190.0 1143.3 1192.0 1146.1 1194.0 1137.0 1196.0 1132.5 1198.0 1146.3 1200.0 1140.8 1202.0 1144.0 1204.0 1134.5 1206.0 1148.8 1210.0 1140.1 1212.0 1139.0 1214.0 1141.2 1216.0 1139.9 1218.0 1139.3 1220.0 1135.4 1222.0 1146.6 1224.0 1140.5 1226.0 1141.0 1228.0 1141.1 1230.0 1129.4 1232.0 1143.1 1234.0 1139.0 1236.0 1139.2 1238.0 1140.9 1240.0 1135.9 1242.0 1144.7 1244.0 1137.2 1246.0 1136.2 1248.0 1136.4 1250.0 1141.3 1252.0 1144.2 1254.0 1137.7 1256.0 1133.2 1258.0 1145.7 1260.0 1135.4 1262.0 1146.4 1264.0 1140.3 1266.0 1137.1 1268.0 1137.4 1270.0 1142.8 1272.0 1144.9 1274.0 1139.5 1276.0 1145.2 1278.0 1149.5 1280.0 1139.5 1282.0 1134.8 1284.0 1135.3 1286.0 1133.6 1288.0 1137.3 1290.0 1136.9 1292.0 1133.9 1294.0 1143.1 1296.0 1127.4 1298.0 1133.9 1300.0 1149.5 1302.0 1145.9 1304.0 1143.3 1306.0 1143.1 1308.0 1149.5 1310.0 1143.8 1312.0 1140.9 1314.0 1132.1 1316.0 1139.9 1318.0 1135.1 1322.0 1134.9 1324.0 1140.0 1326.0 1137.7 1328.0 1147.8 1330.0 1128.8 1334.0 1149.5 1336.0 1140.7 1338.0 1149.5 1342.0 1149.5 1344.0 1147.8 1346.0 1126.4 1348.0 1137.6 1350.0 1136.5 1352.0 1124.5 1354.0 1135.6 1356.0 1127.5 1358.0 1123.2 1360.0 1142.5 1362.0 1139.8 1364.0 1133.2 1366.0 1130.4 1368.0 1134.6 1370.0 1136.2 1372.0 1136.0 1374.0 1139.7 1376.0 1135.7 1378.0 1144.3 1380.0 1145.8 1382.0 1144.0 1384.0 1133.2 1386.0 1133.6 1388.0 1144.9 1390.0 1138.1 1392.0 1139.7 1394.0 1113.3 1396.0 1110.9 1398.0 1143.9 1400.0 1143.8 1402.0 1149.5 1404.0 1148.1 1406.0 1142.6 1408.0 1140.4 1410.0 1124.4 1412.0 1149.5 1414.0 1133.5 1416.0 1145.7 1418.0 1142.4 1420.0 1143.2 1422.0 1149.5 1424.0 1134.6 1426.0 1135.8 1428.0 1130.4 1430.0 1135.8 1432.0 1149.5 1434.0 1136.0 1436.0 1149.5 1438.0 1149.5 1440.0 1148.5 1442.0 1149.3 1444.0 1128.4 1446.0 1144.4 1448.0 1149.5 1450.0 1132.0 1452.0 1139.5 1454.0 1132.0 1456.0 1143.8 1458.0 1127.4 1460.0 1149.5 1464.0 1121.7 1466.0 1149.5 1468.0 1149.5 1470.0 1146.2 1472.0 1146.4 1474.0 1135.7" fill="none" stroke="#0000ff" stroke-width="2.6" stroke-dasharray="15.5 16.5"/>
<path d="M262.0 1109.0L283.0 1109.0 284.8 1108.5 287.2 1106.9 297.2 1097.8 307.0 1089.9 314.2 1082.2 319.0 1078.0 323.4 1076.5 329.6 1075.2 345.8 1073.9 359.8 1073.5 699.8 1073.5 700.0 1073.0 702.0 1073.6 704.0 1072.5 706.0 1073.9 708.0 1074.2 710.0 1073.2 712.0 1073.8 714.0 1073.7 718.0 1073.0 720.0 1072.2 722.0 1074.4 724.0 1073.5 726.0 1075.2 728.0 1074.1 732.0 1073.1 734.0 1074.5 736.0 1073.2 738.0 1074.6 740.0 1073.3 742.0 1073.7 744.0 1072.5 746.0 1075.2 748.0 1073.5 750.0 1073.3 752.0 1074.1 754.0 1072.9 756.0 1074.1 758.0 1072.7 760.0 1074.0 762.0 1072.8 764.0 1072.3 766.0 1073.2 768.0 1072.5 770.0 1074.0 772.0 1073.6 774.0 1074.0 778.0 1073.4 780.0 1073.7 782.0 1074.5 784.0 1073.5 786.0 1073.1 788.0 1072.9 790.0 1073.5 792.0 1073.1 794.0 1075.2 796.0 1072.8 798.0 1072.8 802.0 1074.2 806.0 1073.0 808.0 1073.1 810.0 1073.5 812.0 1074.6 814.0 1073.0 816.0 1073.7 818.0 1073.3 820.0 1074.1 822.0 1074.1 824.0 1072.6 826.0 1075.8 828.0 1074.0 830.0 1073.4 832.0 1073.1 838.0 1074.4 840.0 1073.9 842.0 1074.3 844.0 1072.5 846.0 1073.2 848.0 1073.0 850.0 1074.1 852.0 1074.3 854.0 1072.6 858.0 1074.6 860.0 1074.8 862.0 1072.9 864.0 1074.5 866.0 1074.3 868.0 1073.6 870.0 1075.9 872.0 1073.0 876.0 1074.5 880.0 1073.9 882.0 1075.4 884.0 1075.5 886.0 1075.0 888.0 1075.1 892.0 1073.0 894.0 1076.3 896.0 1073.2 898.0 1076.4 900.0 1074.0 902.0 1074.4 904.0 1074.0 906.0 1075.1 908.0 1073.7 910.0 1076.1 912.0 1074.7 916.0 1073.6 918.0 1074.5 920.0 1074.2 922.0 1076.2 924.0 1075.2 926.0 1072.6 928.0 1075.9 930.0 1071.8 932.0 1075.9 934.0 1072.3 936.0 1074.3 938.0 1075.2 942.0 1073.1 944.0 1075.7 946.0 1072.4 948.0 1072.7 950.0 1075.9 952.0 1073.4 954.0 1074.6 956.0 1075.3 958.0 1074.3 960.0 1074.7 964.0 1074.6 966.0 1075.7 970.0 1074.8 972.0 1075.5 974.0 1073.8 978.0 1073.3 980.0 1075.4 982.0 1076.3 984.0 1074.6 986.0 1072.1 988.0 1073.9 990.0 1075.0 994.0 1074.6 996.0 1075.7 998.0 1075.6 1000.0 1072.9 1002.0 1075.0 1004.0 1073.6 1008.0 1076.1 1010.0 1076.8 1014.0 1073.9 1016.0 1074.1 1018.0 1075.2 1020.0 1073.3 1024.0 1075.3 1026.0 1075.8 1028.0 1074.2 1032.0 1076.4 1034.0 1075.0 1036.0 1072.3 1038.0 1074.9 1040.0 1074.9 1042.0 1074.0 1044.0 1074.7 1046.0 1072.6 1048.0 1076.3 1052.0 1073.8 1054.0 1075.0 1056.0 1074.8 1058.0 1073.4 1060.0 1070.8 1062.0 1070.5 1064.0 1077.6 1066.0 1073.0 1070.0 1075.5 1072.0 1074.1 1074.0 1076.4 1076.0 1073.2 1078.0 1075.5 1080.0 1071.5 1082.0 1075.8 1090.0 1075.1 1092.0 1076.0 1094.0 1076.2 1096.0 1073.2 1098.0 1076.4 1100.0 1073.2 1102.0 1075.0 1104.0 1074.3 1106.0 1075.5 1108.0 1074.2 1110.0 1075.4 1112.0 1073.9 1114.0 1073.1 1116.0 1076.5 1118.0 1075.7 1120.0 1075.6 1122.0 1076.4 1124.0 1073.0 1126.0 1076.3 1128.0 1073.0 1130.0 1075.4 1132.0 1074.5 1136.0 1076.0 1140.0 1073.2 1142.0 1076.4 1144.0 1076.9 1146.0 1076.0 1148.0 1076.7 1150.0 1071.6 1152.0 1074.9 1154.0 1074.6 1156.0 1071.2 1158.0 1075.0 1160.0 1074.8 1162.0 1072.0 1166.0 1075.0 1168.0 1076.0 1170.0 1076.2 1172.0 1072.8 1174.0 1072.8 1178.0 1074.8 1180.0 1073.7 1182.0 1074.5 1184.0 1076.2 1186.0 1076.2 1188.0 1075.1 1190.0 1072.6 1192.0 1073.9 1194.0 1076.0 1198.0 1077.0 1200.0 1072.8 1202.0 1074.0 1204.0 1072.4 1206.0 1068.9 1208.0 1072.6 1210.0 1071.2 1212.0 1077.8 1216.0 1073.5 1218.0 1075.1 1220.0 1075.8 1222.0 1078.7 1224.0 1076.6 1226.0 1078.3 1228.0 1076.0 1230.0 1077.8 1232.0 1078.2 1234.0 1077.0 1236.0 1075.0 1238.0 1077.4 1240.0 1074.1 1242.0 1078.2 1244.0 1074.3 1246.0 1073.4 1248.0 1079.4 1250.0 1074.0 1252.0 1075.4 1254.0 1072.4 1258.0 1074.2 1260.0 1072.6 1262.0 1078.0 1264.0 1073.2 1266.0 1071.9 1268.0 1077.8 1270.0 1076.8 1272.0 1069.1 1276.0 1077.5 1278.0 1073.0 1280.0 1074.3 1282.0 1074.4 1284.0 1069.1 1288.0 1077.0 1290.0 1078.8 1292.0 1074.8 1294.0 1074.7 1296.0 1076.5 1298.0 1075.5 1300.0 1076.6 1302.0 1072.1 1304.0 1075.2 1306.0 1077.3 1308.0 1078.0 1310.0 1067.5 1312.0 1079.8 1314.0 1076.0 1316.0 1076.4 1318.0 1063.8 1320.0 1075.8 1322.0 1063.8 1324.0 1055.9 1326.0 1076.4 1328.0 1075.6 1330.0 1076.2 1332.0 1077.4 1334.0 1075.8 1336.0 1087.1 1338.0 1084.6 1342.0 1104.9 1344.0 1085.3 1346.0 1085.9 1348.0 1099.2 1350.0 1065.8 1354.0 1079.6 1356.0 1057.6 1358.0 1088.3 1360.0 1095.9 1362.0 1061.2 1364.0 1066.6 1366.0 1087.8 1368.0 1093.4 1370.0 1056.1 1372.0 1083.4 1374.0 1074.1 1376.0 1053.6 1378.0 1071.3 1380.0 1069.5 1382.0 1077.9 1384.0 1077.1 1386.0 1073.1 1388.0 1074.9 1390.0 1074.6 1392.0 1083.2 1394.0 1089.0 1396.0 1089.0 1398.0 1065.3 1402.0 1068.1 1404.0 1095.2 1406.0 1083.0 1408.0 1066.9 1410.0 1061.8 1412.0 1063.8 1414.0 1077.3 1416.0 1062.5 1418.0 1076.9 1420.0 1094.8 1422.0 1073.7 1424.0 1088.4 1426.0 1057.0 1428.0 1081.9 1430.0 1081.1 1432.0 1064.9 1434.0 1095.8 1436.0 1077.3 1438.0 1068.1 1440.0 1073.5 1442.0 1090.3 1444.0 1058.9 1446.0 1079.5 1448.0 1064.5 1450.0 1080.7 1452.0 1070.4 1454.0 1076.6 1456.0 1088.1 1458.0 1078.3 1460.0 1085.4 1462.0 1087.4 1464.0 1083.5 1468.0 1078.5 1474.0 1103.8" fill="none" stroke="#ff0000" stroke-width="2.6" stroke-dasharray="15.5 16.5"/></g>
</svg>
</body></html>
